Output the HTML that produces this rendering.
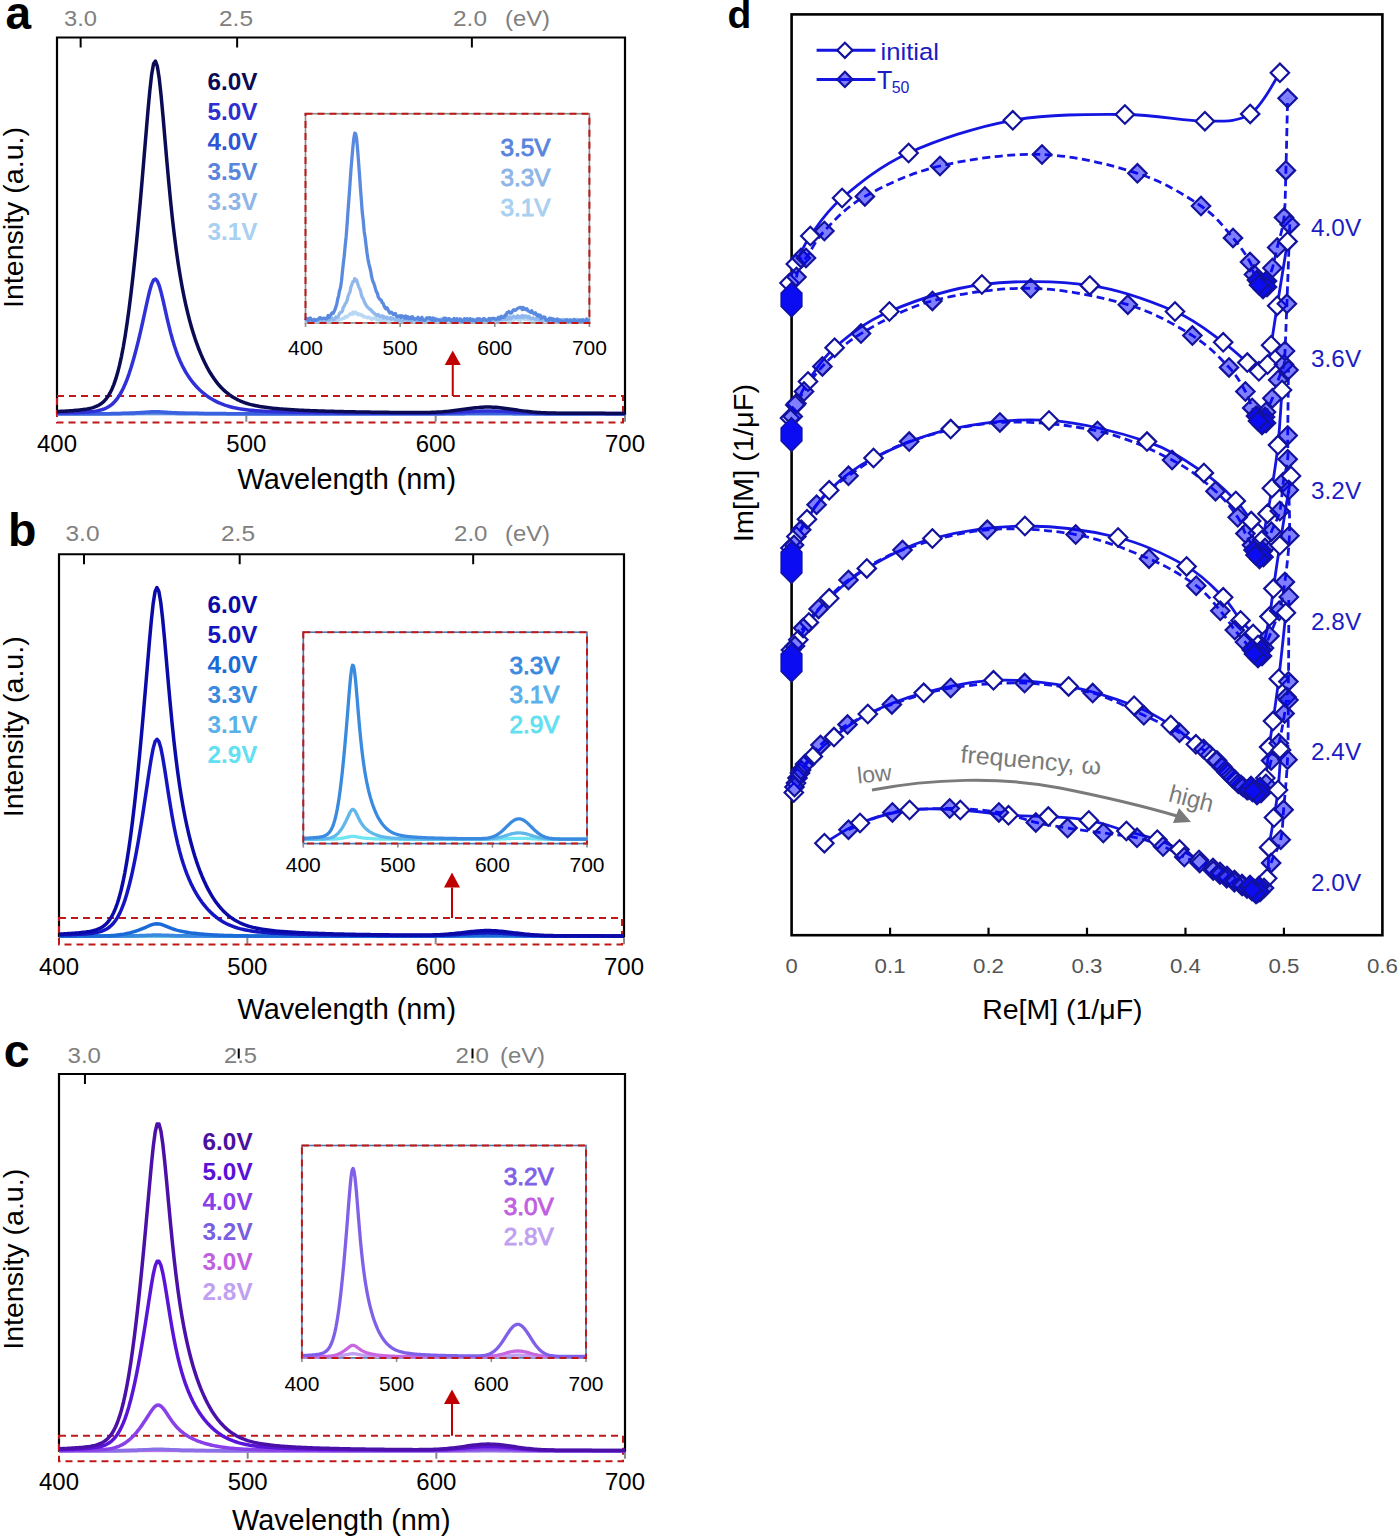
<!DOCTYPE html><html><head><meta charset="utf-8"><style>html,body{margin:0;padding:0;background:#fff;overflow:hidden;}svg{display:block;}text{font-family:"Liberation Sans",sans-serif;}</style></head><body>
<svg width="1400" height="1536" viewBox="0 0 1400 1536">
<rect width="1400" height="1536" fill="#fff"/>
<line x1="80.64" y1="37.5" x2="80.64" y2="47.5" stroke="#000" stroke-width="2"/>
<line x1="237.14" y1="37.5" x2="237.14" y2="47.5" stroke="#000" stroke-width="2"/>
<line x1="471.88" y1="37.5" x2="471.88" y2="47.5" stroke="#000" stroke-width="2"/>
<text x="64.00" y="25.50" font-size="22" fill="#808080" text-anchor="start" textLength="33" lengthAdjust="spacingAndGlyphs">3.0</text>
<text x="219.00" y="25.50" font-size="22" fill="#808080" text-anchor="start" textLength="34" lengthAdjust="spacingAndGlyphs">2.5</text>
<text x="453.00" y="25.50" font-size="22" fill="#808080" text-anchor="start" textLength="34" lengthAdjust="spacingAndGlyphs">2.0</text>
<text x="505.00" y="25.50" font-size="22" fill="#808080" text-anchor="start" textLength="45" lengthAdjust="spacingAndGlyphs">(eV)</text>
<line x1="246.33" y1="414.75" x2="246.33" y2="421.75" stroke="#8a8a8a" stroke-width="2"/>
<line x1="435.67" y1="414.75" x2="435.67" y2="421.75" stroke="#8a8a8a" stroke-width="2"/>
<line x1="625.00" y1="414.75" x2="625.00" y2="421.75" stroke="#8a8a8a" stroke-width="2"/>
<path d="M57,414.75 L57,37.5 L625,37.5 L625,414.75" fill="none" stroke="#000" stroke-width="2.2"/>
<line x1="57" y1="413.75" x2="625" y2="413.75" stroke="#000" stroke-width="2"/>
<rect x="57" y="396" width="566" height="26.5" fill="none" stroke="#c01818" stroke-width="2" stroke-dasharray="7,5"/>
<path d="M57.00,413.75 L58.89,413.75 L60.79,413.75 L62.68,413.75 L64.57,413.75 L66.47,413.75 L68.36,413.75 L70.25,413.75 L72.15,413.75 L74.04,413.75 L75.93,413.75 L77.83,413.75 L79.72,413.75 L81.61,413.75 L83.51,413.75 L85.40,413.75 L87.29,413.75 L89.19,413.75 L91.08,413.75 L92.97,413.75 L94.87,413.75 L96.76,413.75 L98.65,413.75 L100.55,413.75 L102.44,413.75 L104.33,413.75 L106.23,413.75 L108.12,413.75 L110.01,413.75 L111.91,413.75 L113.80,413.75 L115.69,413.75 L117.59,413.75 L119.48,413.75 L121.37,413.75 L123.27,413.75 L125.16,413.75 L127.05,413.75 L128.95,413.75 L130.84,413.75 L132.73,413.75 L134.63,413.75 L136.52,413.75 L138.41,413.75 L140.31,413.75 L142.20,413.75 L144.09,413.75 L145.99,413.75 L147.88,413.75 L149.77,413.75 L151.67,413.75 L153.56,413.75 L155.45,413.75 L157.35,413.75 L159.24,413.75 L161.13,413.75 L163.03,413.75 L164.92,413.75 L166.81,413.75 L168.71,413.75 L170.60,413.75 L172.49,413.75 L174.39,413.75 L176.28,413.75 L178.17,413.75 L180.07,413.75 L181.96,413.75 L183.85,413.75 L185.75,413.75 L187.64,413.75 L189.53,413.75 L191.43,413.75 L193.32,413.75 L195.21,413.75 L197.11,413.75 L199.00,413.75 L200.89,413.75 L202.79,413.75 L204.68,413.75 L206.57,413.75 L208.47,413.75 L210.36,413.75 L212.25,413.75 L214.15,413.75 L216.04,413.75 L217.93,413.75 L219.83,413.75 L221.72,413.75 L223.61,413.75 L225.51,413.75 L227.40,413.75 L229.29,413.75 L231.19,413.75 L233.08,413.75 L234.97,413.75 L236.87,413.75 L238.76,413.75 L240.65,413.75 L242.55,413.75 L244.44,413.75 L246.33,413.75 L248.23,413.75 L250.12,413.75 L252.01,413.75 L253.91,413.75 L255.80,413.75 L257.69,413.75 L259.59,413.75 L261.48,413.75 L263.37,413.75 L265.27,413.75 L267.16,413.75 L269.05,413.75 L270.95,413.75 L272.84,413.75 L274.73,413.75 L276.63,413.75 L278.52,413.75 L280.41,413.75 L282.31,413.75 L284.20,413.75 L286.09,413.75 L287.99,413.75 L289.88,413.75 L291.77,413.75 L293.67,413.75 L295.56,413.75 L297.45,413.75 L299.35,413.75 L301.24,413.75 L303.13,413.75 L305.03,413.75 L306.92,413.75 L308.81,413.75 L310.71,413.75 L312.60,413.75 L314.49,413.75 L316.39,413.75 L318.28,413.75 L320.17,413.75 L322.07,413.75 L323.96,413.75 L325.85,413.75 L327.75,413.75 L329.64,413.75 L331.53,413.75 L333.43,413.75 L335.32,413.75 L337.21,413.75 L339.11,413.75 L341.00,413.75 L342.89,413.75 L344.79,413.75 L346.68,413.75 L348.57,413.75 L350.47,413.75 L352.36,413.75 L354.25,413.75 L356.15,413.75 L358.04,413.75 L359.93,413.75 L361.83,413.75 L363.72,413.75 L365.61,413.75 L367.51,413.75 L369.40,413.75 L371.29,413.75 L373.19,413.75 L375.08,413.75 L376.97,413.75 L378.87,413.75 L380.76,413.75 L382.65,413.75 L384.55,413.75 L386.44,413.75 L388.33,413.75 L390.23,413.75 L392.12,413.75 L394.01,413.75 L395.91,413.75 L397.80,413.75 L399.69,413.75 L401.59,413.75 L403.48,413.75 L405.37,413.75 L407.27,413.75 L409.16,413.75 L411.05,413.75 L412.95,413.75 L414.84,413.75 L416.73,413.75 L418.63,413.75 L420.52,413.75 L422.41,413.75 L424.31,413.75 L426.20,413.75 L428.09,413.75 L429.99,413.75 L431.88,413.75 L433.77,413.75 L435.67,413.75 L437.56,413.75 L439.45,413.75 L441.35,413.75 L443.24,413.75 L445.13,413.75 L447.03,413.75 L448.92,413.75 L450.81,413.75 L452.71,413.75 L454.60,413.75 L456.49,413.75 L458.39,413.75 L460.28,413.75 L462.17,413.75 L464.07,413.75 L465.96,413.75 L467.85,413.75 L469.75,413.75 L471.64,413.75 L473.53,413.75 L475.43,413.75 L477.32,413.75 L479.21,413.75 L481.11,413.75 L483.00,413.75 L484.89,413.75 L486.79,413.75 L488.68,413.75 L490.57,413.75 L492.47,413.75 L494.36,413.75 L496.25,413.75 L498.15,413.75 L500.04,413.75 L501.93,413.75 L503.83,413.75 L505.72,413.75 L507.61,413.75 L509.51,413.75 L511.40,413.75 L513.29,413.75 L515.19,413.75 L517.08,413.75 L518.97,413.75 L520.87,413.75 L522.76,413.75 L524.65,413.75 L526.55,413.75 L528.44,413.75 L530.33,413.75 L532.23,413.75 L534.12,413.75 L536.01,413.75 L537.91,413.75 L539.80,413.75 L541.69,413.75 L543.59,413.75 L545.48,413.75 L547.37,413.75 L549.27,413.75 L551.16,413.75 L553.05,413.75 L554.95,413.75 L556.84,413.75 L558.73,413.75 L560.63,413.75 L562.52,413.75 L564.41,413.75 L566.31,413.75 L568.20,413.75 L570.09,413.75 L571.99,413.75 L573.88,413.75 L575.77,413.75 L577.67,413.75 L579.56,413.75 L581.45,413.75 L583.35,413.75 L585.24,413.75 L587.13,413.75 L589.03,413.75 L590.92,413.75 L592.81,413.75 L594.71,413.75 L596.60,413.75 L598.49,413.75 L600.39,413.75 L602.28,413.75 L604.17,413.75 L606.07,413.75 L607.96,413.75 L609.85,413.75 L611.75,413.75 L613.64,413.75 L615.53,413.75 L617.43,413.75 L619.32,413.75 L621.21,413.75 L623.11,413.75 L625.00,413.75" fill="none" stroke="#b0d4f4" stroke-width="3.5" stroke-linejoin="round"/>
<path d="M57.00,413.75 L58.89,413.75 L60.79,413.75 L62.68,413.75 L64.57,413.75 L66.47,413.75 L68.36,413.75 L70.25,413.75 L72.15,413.75 L74.04,413.75 L75.93,413.75 L77.83,413.75 L79.72,413.75 L81.61,413.75 L83.51,413.75 L85.40,413.75 L87.29,413.75 L89.19,413.75 L91.08,413.75 L92.97,413.74 L94.87,413.74 L96.76,413.74 L98.65,413.74 L100.55,413.74 L102.44,413.74 L104.33,413.74 L106.23,413.74 L108.12,413.74 L110.01,413.73 L111.91,413.73 L113.80,413.73 L115.69,413.72 L117.59,413.72 L119.48,413.71 L121.37,413.70 L123.27,413.69 L125.16,413.68 L127.05,413.67 L128.95,413.66 L130.84,413.65 L132.73,413.63 L134.63,413.62 L136.52,413.60 L138.41,413.59 L140.31,413.57 L142.20,413.55 L144.09,413.53 L145.99,413.51 L147.88,413.49 L149.77,413.48 L151.67,413.46 L153.56,413.45 L155.45,413.45 L157.35,413.45 L159.24,413.46 L161.13,413.48 L163.03,413.50 L164.92,413.52 L166.81,413.53 L168.71,413.55 L170.60,413.57 L172.49,413.58 L174.39,413.60 L176.28,413.61 L178.17,413.62 L180.07,413.63 L181.96,413.64 L183.85,413.65 L185.75,413.66 L187.64,413.66 L189.53,413.67 L191.43,413.68 L193.32,413.68 L195.21,413.69 L197.11,413.69 L199.00,413.70 L200.89,413.70 L202.79,413.70 L204.68,413.71 L206.57,413.71 L208.47,413.71 L210.36,413.72 L212.25,413.72 L214.15,413.72 L216.04,413.72 L217.93,413.72 L219.83,413.73 L221.72,413.73 L223.61,413.73 L225.51,413.73 L227.40,413.73 L229.29,413.73 L231.19,413.73 L233.08,413.74 L234.97,413.74 L236.87,413.74 L238.76,413.74 L240.65,413.74 L242.55,413.74 L244.44,413.74 L246.33,413.74 L248.23,413.74 L250.12,413.74 L252.01,413.74 L253.91,413.74 L255.80,413.74 L257.69,413.74 L259.59,413.74 L261.48,413.74 L263.37,413.74 L265.27,413.74 L267.16,413.74 L269.05,413.74 L270.95,413.75 L272.84,413.75 L274.73,413.75 L276.63,413.75 L278.52,413.75 L280.41,413.75 L282.31,413.75 L284.20,413.75 L286.09,413.75 L287.99,413.75 L289.88,413.75 L291.77,413.75 L293.67,413.75 L295.56,413.75 L297.45,413.75 L299.35,413.75 L301.24,413.75 L303.13,413.75 L305.03,413.75 L306.92,413.75 L308.81,413.75 L310.71,413.75 L312.60,413.75 L314.49,413.75 L316.39,413.75 L318.28,413.75 L320.17,413.75 L322.07,413.75 L323.96,413.75 L325.85,413.75 L327.75,413.75 L329.64,413.75 L331.53,413.75 L333.43,413.75 L335.32,413.75 L337.21,413.75 L339.11,413.75 L341.00,413.75 L342.89,413.75 L344.79,413.75 L346.68,413.75 L348.57,413.75 L350.47,413.75 L352.36,413.75 L354.25,413.75 L356.15,413.75 L358.04,413.75 L359.93,413.75 L361.83,413.75 L363.72,413.75 L365.61,413.75 L367.51,413.75 L369.40,413.75 L371.29,413.75 L373.19,413.75 L375.08,413.75 L376.97,413.75 L378.87,413.75 L380.76,413.75 L382.65,413.75 L384.55,413.75 L386.44,413.75 L388.33,413.75 L390.23,413.75 L392.12,413.75 L394.01,413.75 L395.91,413.75 L397.80,413.75 L399.69,413.75 L401.59,413.75 L403.48,413.75 L405.37,413.75 L407.27,413.75 L409.16,413.75 L411.05,413.75 L412.95,413.75 L414.84,413.75 L416.73,413.75 L418.63,413.75 L420.52,413.75 L422.41,413.75 L424.31,413.75 L426.20,413.75 L428.09,413.74 L429.99,413.74 L431.88,413.74 L433.77,413.74 L435.67,413.74 L437.56,413.74 L439.45,413.74 L441.35,413.73 L443.24,413.73 L445.13,413.73 L447.03,413.73 L448.92,413.72 L450.81,413.72 L452.71,413.71 L454.60,413.71 L456.49,413.71 L458.39,413.70 L460.28,413.70 L462.17,413.69 L464.07,413.69 L465.96,413.68 L467.85,413.68 L469.75,413.67 L471.64,413.67 L473.53,413.67 L475.43,413.66 L477.32,413.66 L479.21,413.66 L481.11,413.65 L483.00,413.65 L484.89,413.65 L486.79,413.65 L488.68,413.65 L490.57,413.65 L492.47,413.65 L494.36,413.65 L496.25,413.65 L498.15,413.66 L500.04,413.66 L501.93,413.66 L503.83,413.67 L505.72,413.67 L507.61,413.68 L509.51,413.68 L511.40,413.68 L513.29,413.69 L515.19,413.69 L517.08,413.70 L518.97,413.70 L520.87,413.71 L522.76,413.71 L524.65,413.72 L526.55,413.72 L528.44,413.72 L530.33,413.73 L532.23,413.73 L534.12,413.73 L536.01,413.73 L537.91,413.74 L539.80,413.74 L541.69,413.74 L543.59,413.74 L545.48,413.74 L547.37,413.74 L549.27,413.74 L551.16,413.75 L553.05,413.75 L554.95,413.75 L556.84,413.75 L558.73,413.75 L560.63,413.75 L562.52,413.75 L564.41,413.75 L566.31,413.75 L568.20,413.75 L570.09,413.75 L571.99,413.75 L573.88,413.75 L575.77,413.75 L577.67,413.75 L579.56,413.75 L581.45,413.75 L583.35,413.75 L585.24,413.75 L587.13,413.75 L589.03,413.75 L590.92,413.75 L592.81,413.75 L594.71,413.75 L596.60,413.75 L598.49,413.75 L600.39,413.75 L602.28,413.75 L604.17,413.75 L606.07,413.75 L607.96,413.75 L609.85,413.75 L611.75,413.75 L613.64,413.75 L615.53,413.75 L617.43,413.75 L619.32,413.75 L621.21,413.75 L623.11,413.75 L625.00,413.75" fill="none" stroke="#90b8ec" stroke-width="3.5" stroke-linejoin="round"/>
<path d="M57.00,413.74 L58.89,413.74 L60.79,413.74 L62.68,413.74 L64.57,413.74 L66.47,413.74 L68.36,413.74 L70.25,413.74 L72.15,413.74 L74.04,413.74 L75.93,413.74 L77.83,413.74 L79.72,413.74 L81.61,413.74 L83.51,413.74 L85.40,413.74 L87.29,413.74 L89.19,413.74 L91.08,413.74 L92.97,413.74 L94.87,413.73 L96.76,413.73 L98.65,413.73 L100.55,413.73 L102.44,413.72 L104.33,413.72 L106.23,413.72 L108.12,413.71 L110.01,413.70 L111.91,413.69 L113.80,413.68 L115.69,413.67 L117.59,413.66 L119.48,413.64 L121.37,413.62 L123.27,413.60 L125.16,413.57 L127.05,413.55 L128.95,413.51 L130.84,413.48 L132.73,413.44 L134.63,413.40 L136.52,413.36 L138.41,413.32 L140.31,413.27 L142.20,413.22 L144.09,413.17 L145.99,413.12 L147.88,413.07 L149.77,413.02 L151.67,412.98 L153.56,412.96 L155.45,412.95 L157.35,412.96 L159.24,412.99 L161.13,413.03 L163.03,413.08 L164.92,413.13 L166.81,413.18 L168.71,413.22 L170.60,413.27 L172.49,413.31 L174.39,413.35 L176.28,413.38 L178.17,413.41 L180.07,413.44 L181.96,413.46 L183.85,413.48 L185.75,413.50 L187.64,413.52 L189.53,413.54 L191.43,413.55 L193.32,413.57 L195.21,413.58 L197.11,413.59 L199.00,413.60 L200.89,413.61 L202.79,413.62 L204.68,413.63 L206.57,413.64 L208.47,413.65 L210.36,413.66 L212.25,413.66 L214.15,413.67 L216.04,413.68 L217.93,413.68 L219.83,413.69 L221.72,413.69 L223.61,413.70 L225.51,413.70 L227.40,413.70 L229.29,413.71 L231.19,413.71 L233.08,413.71 L234.97,413.71 L236.87,413.72 L238.76,413.72 L240.65,413.72 L242.55,413.72 L244.44,413.72 L246.33,413.73 L248.23,413.73 L250.12,413.73 L252.01,413.73 L253.91,413.73 L255.80,413.73 L257.69,413.73 L259.59,413.73 L261.48,413.73 L263.37,413.73 L265.27,413.74 L267.16,413.74 L269.05,413.74 L270.95,413.74 L272.84,413.74 L274.73,413.74 L276.63,413.74 L278.52,413.74 L280.41,413.74 L282.31,413.74 L284.20,413.74 L286.09,413.74 L287.99,413.74 L289.88,413.74 L291.77,413.74 L293.67,413.74 L295.56,413.74 L297.45,413.74 L299.35,413.74 L301.24,413.74 L303.13,413.74 L305.03,413.74 L306.92,413.74 L308.81,413.74 L310.71,413.74 L312.60,413.74 L314.49,413.74 L316.39,413.74 L318.28,413.74 L320.17,413.74 L322.07,413.74 L323.96,413.74 L325.85,413.74 L327.75,413.74 L329.64,413.74 L331.53,413.74 L333.43,413.74 L335.32,413.74 L337.21,413.74 L339.11,413.74 L341.00,413.75 L342.89,413.75 L344.79,413.75 L346.68,413.75 L348.57,413.75 L350.47,413.75 L352.36,413.75 L354.25,413.75 L356.15,413.75 L358.04,413.75 L359.93,413.75 L361.83,413.75 L363.72,413.75 L365.61,413.75 L367.51,413.75 L369.40,413.75 L371.29,413.75 L373.19,413.75 L375.08,413.75 L376.97,413.75 L378.87,413.75 L380.76,413.75 L382.65,413.75 L384.55,413.75 L386.44,413.75 L388.33,413.75 L390.23,413.75 L392.12,413.75 L394.01,413.75 L395.91,413.75 L397.80,413.75 L399.69,413.75 L401.59,413.75 L403.48,413.75 L405.37,413.75 L407.27,413.75 L409.16,413.75 L411.05,413.75 L412.95,413.75 L414.84,413.75 L416.73,413.74 L418.63,413.74 L420.52,413.74 L422.41,413.74 L424.31,413.74 L426.20,413.74 L428.09,413.74 L429.99,413.74 L431.88,413.73 L433.77,413.73 L435.67,413.73 L437.56,413.72 L439.45,413.72 L441.35,413.72 L443.24,413.71 L445.13,413.71 L447.03,413.70 L448.92,413.69 L450.81,413.69 L452.71,413.68 L454.60,413.67 L456.49,413.66 L458.39,413.65 L460.28,413.65 L462.17,413.64 L464.07,413.63 L465.96,413.62 L467.85,413.61 L469.75,413.60 L471.64,413.59 L473.53,413.58 L475.43,413.58 L477.32,413.57 L479.21,413.56 L481.11,413.56 L483.00,413.55 L484.89,413.55 L486.79,413.55 L488.68,413.55 L490.57,413.55 L492.47,413.55 L494.36,413.55 L496.25,413.56 L498.15,413.56 L500.04,413.57 L501.93,413.58 L503.83,413.58 L505.72,413.59 L507.61,413.60 L509.51,413.61 L511.40,413.62 L513.29,413.63 L515.19,413.64 L517.08,413.65 L518.97,413.65 L520.87,413.66 L522.76,413.67 L524.65,413.68 L526.55,413.69 L528.44,413.69 L530.33,413.70 L532.23,413.71 L534.12,413.71 L536.01,413.72 L537.91,413.72 L539.80,413.73 L541.69,413.73 L543.59,413.73 L545.48,413.73 L547.37,413.74 L549.27,413.74 L551.16,413.74 L553.05,413.74 L554.95,413.74 L556.84,413.74 L558.73,413.75 L560.63,413.75 L562.52,413.75 L564.41,413.75 L566.31,413.75 L568.20,413.75 L570.09,413.75 L571.99,413.75 L573.88,413.75 L575.77,413.75 L577.67,413.75 L579.56,413.75 L581.45,413.75 L583.35,413.75 L585.24,413.75 L587.13,413.75 L589.03,413.75 L590.92,413.75 L592.81,413.75 L594.71,413.75 L596.60,413.75 L598.49,413.75 L600.39,413.75 L602.28,413.75 L604.17,413.75 L606.07,413.75 L607.96,413.75 L609.85,413.75 L611.75,413.75 L613.64,413.75 L615.53,413.75 L617.43,413.75 L619.32,413.75 L621.21,413.75 L623.11,413.75 L625.00,413.75" fill="none" stroke="#5a85dd" stroke-width="3.5" stroke-linejoin="round"/>
<path d="M57.00,413.74 L58.89,413.74 L60.79,413.74 L62.68,413.74 L64.57,413.74 L66.47,413.73 L68.36,413.73 L70.25,413.73 L72.15,413.73 L74.04,413.73 L75.93,413.73 L77.83,413.73 L79.72,413.73 L81.61,413.73 L83.51,413.73 L85.40,413.72 L87.29,413.72 L89.19,413.72 L91.08,413.72 L92.97,413.72 L94.87,413.71 L96.76,413.71 L98.65,413.70 L100.55,413.70 L102.44,413.69 L104.33,413.68 L106.23,413.67 L108.12,413.65 L110.01,413.63 L111.91,413.61 L113.80,413.58 L115.69,413.55 L117.59,413.52 L119.48,413.48 L121.37,413.43 L123.27,413.37 L125.16,413.31 L127.05,413.24 L128.95,413.16 L130.84,413.08 L132.73,412.98 L134.63,412.88 L136.52,412.78 L138.41,412.66 L140.31,412.55 L142.20,412.42 L144.09,412.29 L145.99,412.16 L147.88,412.04 L149.77,411.92 L151.67,411.83 L153.56,411.77 L155.45,411.75 L157.35,411.78 L159.24,411.85 L161.13,411.95 L163.03,412.06 L164.92,412.19 L166.81,412.31 L168.71,412.43 L170.60,412.55 L172.49,412.65 L174.39,412.74 L176.28,412.82 L178.17,412.90 L180.07,412.97 L181.96,413.03 L183.85,413.08 L185.75,413.13 L187.64,413.18 L189.53,413.22 L191.43,413.26 L193.32,413.29 L195.21,413.33 L197.11,413.36 L199.00,413.39 L200.89,413.41 L202.79,413.44 L204.68,413.46 L206.57,413.48 L208.47,413.50 L210.36,413.52 L212.25,413.54 L214.15,413.55 L216.04,413.57 L217.93,413.58 L219.83,413.59 L221.72,413.60 L223.61,413.61 L225.51,413.62 L227.40,413.63 L229.29,413.64 L231.19,413.65 L233.08,413.66 L234.97,413.66 L236.87,413.67 L238.76,413.67 L240.65,413.68 L242.55,413.68 L244.44,413.69 L246.33,413.69 L248.23,413.69 L250.12,413.70 L252.01,413.70 L253.91,413.70 L255.80,413.70 L257.69,413.71 L259.59,413.71 L261.48,413.71 L263.37,413.71 L265.27,413.71 L267.16,413.71 L269.05,413.72 L270.95,413.72 L272.84,413.72 L274.73,413.72 L276.63,413.72 L278.52,413.72 L280.41,413.72 L282.31,413.72 L284.20,413.72 L286.09,413.73 L287.99,413.73 L289.88,413.73 L291.77,413.73 L293.67,413.73 L295.56,413.73 L297.45,413.73 L299.35,413.73 L301.24,413.73 L303.13,413.73 L305.03,413.73 L306.92,413.73 L308.81,413.73 L310.71,413.73 L312.60,413.73 L314.49,413.73 L316.39,413.73 L318.28,413.73 L320.17,413.73 L322.07,413.73 L323.96,413.73 L325.85,413.74 L327.75,413.74 L329.64,413.74 L331.53,413.74 L333.43,413.74 L335.32,413.74 L337.21,413.74 L339.11,413.74 L341.00,413.74 L342.89,413.74 L344.79,413.74 L346.68,413.74 L348.57,413.74 L350.47,413.74 L352.36,413.74 L354.25,413.74 L356.15,413.74 L358.04,413.74 L359.93,413.74 L361.83,413.74 L363.72,413.74 L365.61,413.74 L367.51,413.74 L369.40,413.74 L371.29,413.74 L373.19,413.74 L375.08,413.74 L376.97,413.74 L378.87,413.74 L380.76,413.74 L382.65,413.74 L384.55,413.74 L386.44,413.74 L388.33,413.74 L390.23,413.74 L392.12,413.74 L394.01,413.74 L395.91,413.74 L397.80,413.74 L399.69,413.74 L401.59,413.74 L403.48,413.74 L405.37,413.74 L407.27,413.74 L409.16,413.74 L411.05,413.74 L412.95,413.74 L414.84,413.74 L416.73,413.74 L418.63,413.73 L420.52,413.73 L422.41,413.73 L424.31,413.72 L426.20,413.72 L428.09,413.72 L429.99,413.71 L431.88,413.70 L433.77,413.69 L435.67,413.69 L437.56,413.68 L439.45,413.66 L441.35,413.65 L443.24,413.64 L445.13,413.62 L447.03,413.60 L448.92,413.58 L450.81,413.56 L452.71,413.54 L454.60,413.52 L456.49,413.49 L458.39,413.46 L460.28,413.44 L462.17,413.41 L464.07,413.38 L465.96,413.35 L467.85,413.33 L469.75,413.30 L471.64,413.27 L473.53,413.25 L475.43,413.23 L477.32,413.21 L479.21,413.19 L481.11,413.17 L483.00,413.16 L484.89,413.15 L486.79,413.15 L488.68,413.15 L490.57,413.15 L492.47,413.15 L494.36,413.16 L496.25,413.17 L498.15,413.19 L500.04,413.21 L501.93,413.23 L503.83,413.25 L505.72,413.27 L507.61,413.30 L509.51,413.33 L511.40,413.35 L513.29,413.38 L515.19,413.41 L517.08,413.44 L518.97,413.47 L520.87,413.49 L522.76,413.52 L524.65,413.54 L526.55,413.56 L528.44,413.58 L530.33,413.60 L532.23,413.62 L534.12,413.64 L536.01,413.65 L537.91,413.67 L539.80,413.68 L541.69,413.69 L543.59,413.70 L545.48,413.71 L547.37,413.71 L549.27,413.72 L551.16,413.72 L553.05,413.73 L554.95,413.73 L556.84,413.73 L558.73,413.74 L560.63,413.74 L562.52,413.74 L564.41,413.74 L566.31,413.74 L568.20,413.74 L570.09,413.74 L571.99,413.75 L573.88,413.75 L575.77,413.75 L577.67,413.75 L579.56,413.75 L581.45,413.75 L583.35,413.75 L585.24,413.75 L587.13,413.75 L589.03,413.75 L590.92,413.75 L592.81,413.75 L594.71,413.75 L596.60,413.75 L598.49,413.75 L600.39,413.75 L602.28,413.75 L604.17,413.75 L606.07,413.75 L607.96,413.75 L609.85,413.75 L611.75,413.75 L613.64,413.75 L615.53,413.75 L617.43,413.75 L619.32,413.75 L621.21,413.75 L623.11,413.75 L625.00,413.75" fill="none" stroke="#3a62e0" stroke-width="3.5" stroke-linejoin="round"/>
<path d="M57.00,412.90 L58.89,412.87 L60.79,412.83 L62.68,412.79 L64.57,412.76 L66.47,412.71 L68.36,412.67 L70.25,412.62 L72.15,412.57 L74.04,412.51 L75.93,412.45 L77.83,412.38 L79.72,412.31 L81.61,412.23 L83.51,412.13 L85.40,412.03 L87.29,411.91 L89.19,411.77 L91.08,411.60 L92.97,411.40 L94.87,411.16 L96.76,410.86 L98.65,410.50 L100.55,410.06 L102.44,409.52 L104.33,408.85 L106.23,408.04 L108.12,407.04 L110.01,405.83 L111.91,404.37 L113.80,402.62 L115.69,400.55 L117.59,398.11 L119.48,395.27 L121.37,392.00 L123.27,388.25 L125.16,384.02 L127.05,379.29 L128.95,374.05 L130.84,368.30 L132.73,362.06 L134.63,355.34 L136.52,348.17 L138.41,340.58 L140.31,332.59 L142.20,324.25 L144.09,315.64 L145.99,306.92 L147.88,298.38 L149.77,290.52 L151.67,284.12 L153.56,280.06 L155.45,279.06 L157.35,281.08 L159.24,285.72 L161.13,292.34 L163.03,300.21 L164.92,308.62 L166.81,317.04 L168.71,325.10 L170.60,332.61 L172.49,339.47 L174.39,345.69 L176.28,351.29 L178.17,356.33 L180.07,360.87 L181.96,364.96 L183.85,368.68 L185.75,372.06 L187.64,375.15 L189.53,377.98 L191.43,380.59 L193.32,383.00 L195.21,385.23 L197.11,387.29 L199.00,389.21 L200.89,390.99 L202.79,392.65 L204.68,394.19 L206.57,395.62 L208.47,396.95 L210.36,398.19 L212.25,399.34 L214.15,400.41 L216.04,401.39 L217.93,402.30 L219.83,403.15 L221.72,403.92 L223.61,404.64 L225.51,405.30 L227.40,405.90 L229.29,406.46 L231.19,406.96 L233.08,407.43 L234.97,407.85 L236.87,408.24 L238.76,408.60 L240.65,408.92 L242.55,409.22 L244.44,409.48 L246.33,409.73 L248.23,409.95 L250.12,410.16 L252.01,410.35 L253.91,410.52 L255.80,410.68 L257.69,410.82 L259.59,410.95 L261.48,411.07 L263.37,411.19 L265.27,411.29 L267.16,411.39 L269.05,411.48 L270.95,411.56 L272.84,411.64 L274.73,411.71 L276.63,411.78 L278.52,411.84 L280.41,411.91 L282.31,411.96 L284.20,412.02 L286.09,412.07 L287.99,412.12 L289.88,412.16 L291.77,412.21 L293.67,412.25 L295.56,412.29 L297.45,412.33 L299.35,412.37 L301.24,412.40 L303.13,412.44 L305.03,412.47 L306.92,412.50 L308.81,412.53 L310.71,412.56 L312.60,412.59 L314.49,412.62 L316.39,412.64 L318.28,412.67 L320.17,412.69 L322.07,412.72 L323.96,412.74 L325.85,412.76 L327.75,412.78 L329.64,412.80 L331.53,412.82 L333.43,412.84 L335.32,412.86 L337.21,412.88 L339.11,412.90 L341.00,412.91 L342.89,412.93 L344.79,412.95 L346.68,412.96 L348.57,412.98 L350.47,412.99 L352.36,413.01 L354.25,413.02 L356.15,413.03 L358.04,413.05 L359.93,413.06 L361.83,413.07 L363.72,413.09 L365.61,413.10 L367.51,413.11 L369.40,413.12 L371.29,413.13 L373.19,413.14 L375.08,413.15 L376.97,413.16 L378.87,413.17 L380.76,413.18 L382.65,413.19 L384.55,413.20 L386.44,413.21 L388.33,413.22 L390.23,413.23 L392.12,413.23 L394.01,413.24 L395.91,413.25 L397.80,413.26 L399.69,413.26 L401.59,413.27 L403.48,413.27 L405.37,413.28 L407.27,413.28 L409.16,413.29 L411.05,413.29 L412.95,413.29 L414.84,413.29 L416.73,413.29 L418.63,413.29 L420.52,413.28 L422.41,413.28 L424.31,413.27 L426.20,413.26 L428.09,413.24 L429.99,413.22 L431.88,413.20 L433.77,413.17 L435.67,413.14 L437.56,413.10 L439.45,413.05 L441.35,413.00 L443.24,412.95 L445.13,412.88 L447.03,412.81 L448.92,412.74 L450.81,412.65 L452.71,412.56 L454.60,412.47 L456.49,412.37 L458.39,412.26 L460.28,412.15 L462.17,412.04 L464.07,411.93 L465.96,411.82 L467.85,411.71 L469.75,411.60 L471.64,411.49 L473.53,411.39 L475.43,411.30 L477.32,411.22 L479.21,411.15 L481.11,411.09 L483.00,411.05 L484.89,411.01 L486.79,410.99 L488.68,410.99 L490.57,411.00 L492.47,411.02 L494.36,411.06 L496.25,411.12 L498.15,411.18 L500.04,411.26 L501.93,411.35 L503.83,411.44 L505.72,411.55 L507.61,411.66 L509.51,411.77 L511.40,411.89 L513.29,412.01 L515.19,412.13 L517.08,412.24 L518.97,412.36 L520.87,412.47 L522.76,412.58 L524.65,412.68 L526.55,412.77 L528.44,412.86 L530.33,412.95 L532.23,413.02 L534.12,413.09 L536.01,413.16 L537.91,413.21 L539.80,413.26 L541.69,413.31 L543.59,413.35 L545.48,413.38 L547.37,413.42 L549.27,413.44 L551.16,413.47 L553.05,413.48 L554.95,413.50 L556.84,413.52 L558.73,413.53 L560.63,413.54 L562.52,413.55 L564.41,413.55 L566.31,413.56 L568.20,413.57 L570.09,413.57 L571.99,413.57 L573.88,413.58 L575.77,413.58 L577.67,413.58 L579.56,413.59 L581.45,413.59 L583.35,413.59 L585.24,413.59 L587.13,413.59 L589.03,413.59 L590.92,413.60 L592.81,413.60 L594.71,413.60 L596.60,413.60 L598.49,413.60 L600.39,413.60 L602.28,413.60 L604.17,413.61 L606.07,413.61 L607.96,413.61 L609.85,413.61 L611.75,413.61 L613.64,413.61 L615.53,413.61 L617.43,413.61 L619.32,413.62 L621.21,413.62 L623.11,413.62 L625.00,413.62" fill="none" stroke="#3030d8" stroke-width="3.5" stroke-linejoin="round"/>
<path d="M57.00,411.53 L58.89,411.44 L60.79,411.35 L62.68,411.25 L64.57,411.15 L66.47,411.03 L68.36,410.92 L70.25,410.79 L72.15,410.65 L74.04,410.50 L75.93,410.34 L77.83,410.17 L79.72,409.97 L81.61,409.76 L83.51,409.52 L85.40,409.24 L87.29,408.92 L89.19,408.55 L91.08,408.12 L92.97,407.59 L94.87,406.96 L96.76,406.19 L98.65,405.25 L100.55,404.10 L102.44,402.68 L104.33,400.93 L106.23,398.79 L108.12,396.18 L110.01,393.02 L111.91,389.19 L113.80,384.62 L115.69,379.20 L117.59,372.81 L119.48,365.38 L121.37,356.80 L123.27,347.00 L125.16,335.93 L127.05,323.54 L128.95,309.82 L130.84,294.77 L132.73,278.43 L134.63,260.85 L136.52,242.08 L138.41,222.19 L140.31,201.28 L142.20,179.46 L144.09,156.93 L145.99,134.09 L147.88,111.72 L149.77,91.16 L151.67,74.39 L153.56,63.76 L155.45,61.15 L157.35,66.46 L159.24,78.58 L161.13,95.92 L163.03,116.52 L164.92,138.54 L166.81,160.58 L168.71,181.69 L170.60,201.34 L172.49,219.31 L174.39,235.58 L176.28,250.24 L178.17,263.43 L180.07,275.31 L181.96,286.04 L183.85,295.77 L185.75,304.62 L187.64,312.71 L189.53,320.12 L191.43,326.95 L193.32,333.25 L195.21,339.08 L197.11,344.49 L199.00,349.51 L200.89,354.17 L202.79,358.51 L204.68,362.54 L206.57,366.30 L208.47,369.78 L210.36,373.02 L212.25,376.03 L214.15,378.82 L216.04,381.40 L217.93,383.79 L219.83,385.99 L221.72,388.03 L223.61,389.90 L225.51,391.62 L227.40,393.20 L229.29,394.65 L231.19,395.98 L233.08,397.20 L234.97,398.31 L236.87,399.33 L238.76,400.26 L240.65,401.11 L242.55,401.88 L244.44,402.58 L246.33,403.23 L248.23,403.81 L250.12,404.35 L252.01,404.84 L253.91,405.29 L255.80,405.70 L257.69,406.08 L259.59,406.42 L261.48,406.74 L263.37,407.04 L265.27,407.31 L267.16,407.56 L269.05,407.80 L270.95,408.02 L272.84,408.22 L274.73,408.41 L276.63,408.59 L278.52,408.76 L280.41,408.92 L282.31,409.07 L284.20,409.21 L286.09,409.35 L287.99,409.48 L289.88,409.60 L291.77,409.71 L293.67,409.82 L295.56,409.93 L297.45,410.03 L299.35,410.13 L301.24,410.22 L303.13,410.31 L305.03,410.40 L306.92,410.48 L308.81,410.56 L310.71,410.64 L312.60,410.71 L314.49,410.78 L316.39,410.85 L318.28,410.92 L320.17,410.98 L322.07,411.04 L323.96,411.10 L325.85,411.16 L327.75,411.22 L329.64,411.27 L331.53,411.32 L333.43,411.37 L335.32,411.42 L337.21,411.47 L339.11,411.52 L341.00,411.56 L342.89,411.61 L344.79,411.65 L346.68,411.69 L348.57,411.73 L350.47,411.77 L352.36,411.81 L354.25,411.84 L356.15,411.88 L358.04,411.91 L359.93,411.95 L361.83,411.98 L363.72,412.01 L365.61,412.04 L367.51,412.07 L369.40,412.10 L371.29,412.13 L373.19,412.16 L375.08,412.18 L376.97,412.21 L378.87,412.24 L380.76,412.26 L382.65,412.29 L384.55,412.31 L386.44,412.33 L388.33,412.35 L390.23,412.38 L392.12,412.40 L394.01,412.42 L395.91,412.44 L397.80,412.46 L399.69,412.47 L401.59,412.49 L403.48,412.51 L405.37,412.52 L407.27,412.53 L409.16,412.54 L411.05,412.55 L412.95,412.56 L414.84,412.56 L416.73,412.56 L418.63,412.55 L420.52,412.54 L422.41,412.53 L424.31,412.51 L426.20,412.48 L428.09,412.44 L429.99,412.40 L431.88,412.34 L433.77,412.27 L435.67,412.20 L437.56,412.10 L439.45,412.00 L441.35,411.88 L443.24,411.74 L445.13,411.59 L447.03,411.43 L448.92,411.24 L450.81,411.04 L452.71,410.83 L454.60,410.60 L456.49,410.36 L458.39,410.11 L460.28,409.85 L462.17,409.58 L464.07,409.31 L465.96,409.05 L467.85,408.78 L469.75,408.52 L471.64,408.27 L473.53,408.04 L475.43,407.82 L477.32,407.62 L479.21,407.45 L481.11,407.31 L483.00,407.20 L484.89,407.12 L486.79,407.08 L488.68,407.07 L490.57,407.09 L492.47,407.15 L494.36,407.25 L496.25,407.37 L498.15,407.53 L500.04,407.72 L501.93,407.93 L503.83,408.16 L505.72,408.41 L507.61,408.67 L509.51,408.95 L511.40,409.23 L513.29,409.52 L515.19,409.80 L517.08,410.09 L518.97,410.36 L520.87,410.63 L522.76,410.89 L524.65,411.13 L526.55,411.36 L528.44,411.58 L530.33,411.78 L532.23,411.96 L534.12,412.13 L536.01,412.28 L537.91,412.42 L539.80,412.54 L541.69,412.65 L543.59,412.75 L545.48,412.83 L547.37,412.91 L549.27,412.97 L551.16,413.03 L553.05,413.07 L554.95,413.11 L556.84,413.15 L558.73,413.18 L560.63,413.20 L562.52,413.22 L564.41,413.24 L566.31,413.26 L568.20,413.27 L570.09,413.28 L571.99,413.29 L573.88,413.30 L575.77,413.31 L577.67,413.32 L579.56,413.32 L581.45,413.33 L583.35,413.33 L585.24,413.34 L587.13,413.34 L589.03,413.34 L590.92,413.35 L592.81,413.35 L594.71,413.36 L596.60,413.36 L598.49,413.36 L600.39,413.37 L602.28,413.37 L604.17,413.37 L606.07,413.38 L607.96,413.38 L609.85,413.38 L611.75,413.38 L613.64,413.39 L615.53,413.39 L617.43,413.39 L619.32,413.40 L621.21,413.40 L623.11,413.40 L625.00,413.41" fill="none" stroke="#0b0b55" stroke-width="3.5" stroke-linejoin="round"/>
<rect x="305.5" y="113.7" width="283.9" height="209.2" fill="#fff" stroke="#8c8c8c" stroke-width="1.6"/>
<line x1="305.50" y1="322.9" x2="305.50" y2="326.9" stroke="#8a8a8a" stroke-width="1.6"/>
<line x1="400.13" y1="322.9" x2="400.13" y2="326.9" stroke="#8a8a8a" stroke-width="1.6"/>
<line x1="494.77" y1="322.9" x2="494.77" y2="326.9" stroke="#8a8a8a" stroke-width="1.6"/>
<line x1="589.40" y1="322.9" x2="589.40" y2="326.9" stroke="#8a8a8a" stroke-width="1.6"/>
<path d="M305.50,320.98 L306.45,321.40 L307.39,320.19 L308.34,321.58 L309.29,320.47 L310.23,320.87 L311.18,321.61 L312.12,320.53 L313.07,321.65 L314.02,320.70 L314.96,321.57 L315.91,321.52 L316.86,320.71 L317.80,319.74 L318.75,321.43 L319.69,321.19 L320.64,320.21 L321.59,319.44 L322.53,320.32 L323.48,320.75 L324.43,319.35 L325.37,321.57 L326.32,319.61 L327.27,320.96 L328.21,321.29 L329.16,321.34 L330.10,320.85 L331.05,319.60 L332.00,321.08 L332.94,320.07 L333.89,319.87 L334.84,320.43 L335.78,319.90 L336.73,320.95 L337.68,320.81 L338.62,320.28 L339.57,318.94 L340.51,319.31 L341.46,319.30 L342.41,318.34 L343.35,318.31 L344.30,318.29 L345.25,316.69 L346.19,316.46 L347.14,317.06 L348.08,315.75 L349.03,315.33 L349.98,313.92 L350.92,313.70 L351.87,314.19 L352.82,312.03 L353.76,313.72 L354.71,312.81 L355.66,312.04 L356.60,313.73 L357.55,313.33 L358.49,314.92 L359.44,313.97 L360.39,314.29 L361.33,315.27 L362.28,315.03 L363.23,316.81 L364.17,316.29 L365.12,316.87 L366.07,317.22 L367.01,317.79 L367.96,317.11 L368.90,317.08 L369.85,318.41 L370.80,318.14 L371.74,319.75 L372.69,318.37 L373.64,318.64 L374.58,317.94 L375.53,318.47 L376.48,319.87 L377.42,319.72 L378.37,319.14 L379.31,320.78 L380.26,319.80 L381.21,320.58 L382.15,320.77 L383.10,320.97 L384.05,319.32 L384.99,320.91 L385.94,320.67 L386.88,320.37 L387.83,319.25 L388.78,321.19 L389.72,320.34 L390.67,320.12 L391.62,319.35 L392.56,319.53 L393.51,319.44 L394.46,320.86 L395.40,320.55 L396.35,320.71 L397.29,319.46 L398.24,319.29 L399.19,321.24 L400.13,321.19 L401.08,321.07 L402.03,321.07 L402.97,320.48 L403.92,320.24 L404.87,321.03 L405.81,321.65 L406.76,320.66 L407.70,320.79 L408.65,320.32 L409.60,319.40 L410.54,320.03 L411.49,320.45 L412.44,320.21 L413.38,320.08 L414.33,321.57 L415.27,319.55 L416.22,319.84 L417.17,319.61 L418.11,319.80 L419.06,320.77 L420.01,320.76 L420.95,321.47 L421.90,320.20 L422.85,321.58 L423.79,321.57 L424.74,321.23 L425.68,321.34 L426.63,320.92 L427.58,321.61 L428.52,321.74 L429.47,321.37 L430.42,321.50 L431.36,320.87 L432.31,321.68 L433.25,319.64 L434.20,320.27 L435.15,321.39 L436.09,321.14 L437.04,320.91 L437.99,320.88 L438.93,321.46 L439.88,319.71 L440.83,319.37 L441.77,320.64 L442.72,320.59 L443.66,321.55 L444.61,321.51 L445.56,320.94 L446.50,321.12 L447.45,319.77 L448.40,321.37 L449.34,321.71 L450.29,319.48 L451.24,320.49 L452.18,321.41 L453.13,320.46 L454.07,321.70 L455.02,320.50 L455.97,319.42 L456.91,319.69 L457.86,320.10 L458.81,321.14 L459.75,320.89 L460.70,321.37 L461.64,319.92 L462.59,320.49 L463.54,319.90 L464.48,320.98 L465.43,321.24 L466.38,319.82 L467.32,319.41 L468.27,319.73 L469.22,319.84 L470.16,319.81 L471.11,320.00 L472.05,321.23 L473.00,320.53 L473.95,320.92 L474.89,321.70 L475.84,321.71 L476.79,321.10 L477.73,321.15 L478.68,320.11 L479.63,319.48 L480.57,320.70 L481.52,319.52 L482.46,319.40 L483.41,319.47 L484.36,320.89 L485.30,321.23 L486.25,321.21 L487.20,321.28 L488.14,321.25 L489.09,320.23 L490.03,319.56 L490.98,319.69 L491.93,320.54 L492.87,320.11 L493.82,319.74 L494.77,321.43 L495.71,320.02 L496.66,319.40 L497.61,319.67 L498.55,319.71 L499.50,320.32 L500.44,321.00 L501.39,319.48 L502.34,320.53 L503.28,319.35 L504.23,318.88 L505.18,320.20 L506.12,320.12 L507.07,318.74 L508.02,319.21 L508.96,320.47 L509.91,320.50 L510.85,320.37 L511.80,318.50 L512.75,318.67 L513.69,320.19 L514.64,318.51 L515.59,318.09 L516.53,318.82 L517.48,319.52 L518.42,319.01 L519.37,319.99 L520.32,320.26 L521.26,317.96 L522.21,318.73 L523.16,319.04 L524.10,318.09 L525.05,319.32 L526.00,318.30 L526.94,318.46 L527.89,319.98 L528.83,319.94 L529.78,319.91 L530.73,320.10 L531.67,319.33 L532.62,320.19 L533.57,319.87 L534.51,320.63 L535.46,318.83 L536.41,320.24 L537.35,320.05 L538.30,319.81 L539.24,319.10 L540.19,320.32 L541.14,319.18 L542.08,320.23 L543.03,320.20 L543.98,320.26 L544.92,321.51 L545.87,320.53 L546.81,321.18 L547.76,321.63 L548.71,319.75 L549.65,321.27 L550.60,320.57 L551.55,319.98 L552.49,320.40 L553.44,320.96 L554.39,320.51 L555.33,320.43 L556.28,319.88 L557.22,321.52 L558.17,320.43 L559.12,321.18 L560.06,321.12 L561.01,319.93 L561.96,320.57 L562.90,320.44 L563.85,319.96 L564.80,319.60 L565.74,320.73 L566.69,320.32 L567.63,320.58 L568.58,320.56 L569.53,320.13 L570.47,320.71 L571.42,320.51 L572.37,320.65 L573.31,319.53 L574.26,320.11 L575.20,319.69 L576.15,319.53 L577.10,321.17 L578.04,320.45 L578.99,319.53 L579.94,319.78 L580.88,321.46 L581.83,321.50 L582.78,320.73 L583.72,321.62 L584.67,321.22 L585.61,321.62 L586.56,320.19 L587.51,319.91 L588.45,319.64 L589.40,321.42" fill="none" stroke="#b8d8f4" stroke-width="3.3" stroke-linejoin="round"/>
<path d="M305.50,319.87 L306.45,320.00 L307.39,321.23 L308.34,319.45 L309.29,319.24 L310.23,321.02 L311.18,319.25 L312.12,320.57 L313.07,320.34 L314.02,319.12 L314.96,319.49 L315.91,321.08 L316.86,320.42 L317.80,320.20 L318.75,320.60 L319.69,320.93 L320.64,320.61 L321.59,319.61 L322.53,321.27 L323.48,319.95 L324.43,320.18 L325.37,321.15 L326.32,320.34 L327.27,319.57 L328.21,319.75 L329.16,320.71 L330.10,318.37 L331.05,318.67 L332.00,318.02 L332.94,319.83 L333.89,319.10 L334.84,319.23 L335.78,316.94 L336.73,317.54 L337.68,317.12 L338.62,315.52 L339.57,313.29 L340.51,312.28 L341.46,312.21 L342.41,310.87 L343.35,307.23 L344.30,306.08 L345.25,303.60 L346.19,302.72 L347.14,300.28 L348.08,296.10 L349.03,293.93 L349.98,291.87 L350.92,286.83 L351.87,284.66 L352.82,281.67 L353.76,281.43 L354.71,278.60 L355.66,280.71 L356.60,280.07 L357.55,283.15 L358.49,286.05 L359.44,288.39 L360.39,290.34 L361.33,294.63 L362.28,297.45 L363.23,298.74 L364.17,301.43 L365.12,303.52 L366.07,304.98 L367.01,306.66 L367.96,307.56 L368.90,308.44 L369.85,309.49 L370.80,309.33 L371.74,311.32 L372.69,311.60 L373.64,313.09 L374.58,313.35 L375.53,314.75 L376.48,314.76 L377.42,315.84 L378.37,314.60 L379.31,315.48 L380.26,316.76 L381.21,316.45 L382.15,315.69 L383.10,317.99 L384.05,316.57 L384.99,317.76 L385.94,317.85 L386.88,317.26 L387.83,318.52 L388.78,318.43 L389.72,318.16 L390.67,317.60 L391.62,319.27 L392.56,318.22 L393.51,318.63 L394.46,318.90 L395.40,319.54 L396.35,319.76 L397.29,320.54 L398.24,320.42 L399.19,320.63 L400.13,319.07 L401.08,320.29 L402.03,320.55 L402.97,320.78 L403.92,319.01 L404.87,318.97 L405.81,319.48 L406.76,320.44 L407.70,320.57 L408.65,320.47 L409.60,320.09 L410.54,320.84 L411.49,320.17 L412.44,320.63 L413.38,318.97 L414.33,318.96 L415.27,320.00 L416.22,320.74 L417.17,319.02 L418.11,320.61 L419.06,320.51 L420.01,321.38 L420.95,320.47 L421.90,320.26 L422.85,320.21 L423.79,320.94 L424.74,320.22 L425.68,321.43 L426.63,320.82 L427.58,321.25 L428.52,320.51 L429.47,321.38 L430.42,321.43 L431.36,320.76 L432.31,320.94 L433.25,320.10 L434.20,320.25 L435.15,319.72 L436.09,319.95 L437.04,319.82 L437.99,319.43 L438.93,320.61 L439.88,320.77 L440.83,319.19 L441.77,321.20 L442.72,319.83 L443.66,320.03 L444.61,321.47 L445.56,319.58 L446.50,319.45 L447.45,320.09 L448.40,319.83 L449.34,319.65 L450.29,321.27 L451.24,320.35 L452.18,320.40 L453.13,319.61 L454.07,319.69 L455.02,319.64 L455.97,320.22 L456.91,319.48 L457.86,319.99 L458.81,319.97 L459.75,321.08 L460.70,321.56 L461.64,321.32 L462.59,320.78 L463.54,321.40 L464.48,319.64 L465.43,320.31 L466.38,320.15 L467.32,320.15 L468.27,320.03 L469.22,320.49 L470.16,321.66 L471.11,319.75 L472.05,319.87 L473.00,320.46 L473.95,320.39 L474.89,320.09 L475.84,321.51 L476.79,319.90 L477.73,321.07 L478.68,321.49 L479.63,321.03 L480.57,319.92 L481.52,321.17 L482.46,319.89 L483.41,319.31 L484.36,320.46 L485.30,320.72 L486.25,320.48 L487.20,319.97 L488.14,319.75 L489.09,320.09 L490.03,320.00 L490.98,321.32 L491.93,321.12 L492.87,320.82 L493.82,319.59 L494.77,320.58 L495.71,319.88 L496.66,321.14 L497.61,320.94 L498.55,320.34 L499.50,319.26 L500.44,319.10 L501.39,319.01 L502.34,319.79 L503.28,319.10 L504.23,319.07 L505.18,318.90 L506.12,319.56 L507.07,317.52 L508.02,319.01 L508.96,316.95 L509.91,316.87 L510.85,318.89 L511.80,317.65 L512.75,316.61 L513.69,316.10 L514.64,317.19 L515.59,317.49 L516.53,317.51 L517.48,315.65 L518.42,317.33 L519.37,316.38 L520.32,317.41 L521.26,316.48 L522.21,315.46 L523.16,317.47 L524.10,315.87 L525.05,316.70 L526.00,315.90 L526.94,316.46 L527.89,317.72 L528.83,316.28 L529.78,317.43 L530.73,318.71 L531.67,318.94 L532.62,317.95 L533.57,318.24 L534.51,318.78 L535.46,319.35 L536.41,319.04 L537.35,319.29 L538.30,318.20 L539.24,320.37 L540.19,318.72 L541.14,318.65 L542.08,320.51 L543.03,318.69 L543.98,319.31 L544.92,318.96 L545.87,320.51 L546.81,320.40 L547.76,320.42 L548.71,319.02 L549.65,320.06 L550.60,320.65 L551.55,320.53 L552.49,320.93 L553.44,321.51 L554.39,321.40 L555.33,319.67 L556.28,321.00 L557.22,319.45 L558.17,321.11 L559.12,321.08 L560.06,320.50 L561.01,321.28 L561.96,320.85 L562.90,319.45 L563.85,319.63 L564.80,319.80 L565.74,320.24 L566.69,319.56 L567.63,319.50 L568.58,320.44 L569.53,320.03 L570.47,321.64 L571.42,320.00 L572.37,320.68 L573.31,319.96 L574.26,320.22 L575.20,321.08 L576.15,321.65 L577.10,319.54 L578.04,321.46 L578.99,320.63 L579.94,320.94 L580.88,321.05 L581.83,319.99 L582.78,319.42 L583.72,321.14 L584.67,320.19 L585.61,321.04 L586.56,320.43 L587.51,320.82 L588.45,321.37 L589.40,321.38" fill="none" stroke="#90b8ec" stroke-width="3.3" stroke-linejoin="round"/>
<path d="M305.50,320.53 L306.45,318.40 L307.39,319.59 L308.34,320.38 L309.29,318.28 L310.23,317.96 L311.18,319.55 L312.12,320.43 L313.07,320.22 L314.02,320.46 L314.96,319.64 L315.91,320.33 L316.86,319.81 L317.80,319.67 L318.75,318.64 L319.69,317.59 L320.64,317.90 L321.59,318.79 L322.53,318.65 L323.48,318.16 L324.43,318.42 L325.37,318.32 L326.32,318.88 L327.27,317.92 L328.21,315.45 L329.16,317.48 L330.10,315.73 L331.05,314.57 L332.00,312.90 L332.94,313.61 L333.89,311.91 L334.84,310.08 L335.78,307.29 L336.73,304.30 L337.68,299.34 L338.62,295.57 L339.57,290.68 L340.51,287.63 L341.46,281.17 L342.41,271.84 L343.35,263.11 L344.30,255.34 L345.25,245.12 L346.19,236.20 L347.14,223.59 L348.08,209.84 L349.03,197.38 L349.98,184.03 L350.92,170.19 L351.87,159.20 L352.82,147.80 L353.76,138.71 L354.71,133.19 L355.66,133.69 L356.60,138.68 L357.55,148.89 L358.49,161.07 L359.44,173.71 L360.39,187.62 L361.33,199.66 L362.28,212.52 L363.23,220.49 L364.17,231.25 L365.12,237.29 L366.07,245.32 L367.01,252.78 L367.96,259.08 L368.90,263.90 L369.85,267.45 L370.80,271.54 L371.74,277.20 L372.69,280.90 L373.64,282.82 L374.58,285.67 L375.53,289.04 L376.48,292.10 L377.42,293.34 L378.37,297.30 L379.31,298.44 L380.26,299.82 L381.21,300.03 L382.15,302.55 L383.10,303.27 L384.05,305.81 L384.99,307.74 L385.94,308.80 L386.88,307.66 L387.83,309.34 L388.78,311.36 L389.72,312.97 L390.67,312.22 L391.62,312.30 L392.56,313.62 L393.51,314.61 L394.46,313.84 L395.40,313.47 L396.35,315.94 L397.29,316.85 L398.24,316.24 L399.19,316.27 L400.13,315.73 L401.08,317.41 L402.03,315.82 L402.97,316.18 L403.92,317.05 L404.87,318.11 L405.81,315.96 L406.76,318.07 L407.70,316.67 L408.65,318.55 L409.60,318.68 L410.54,317.17 L411.49,318.66 L412.44,316.77 L413.38,318.23 L414.33,319.23 L415.27,319.19 L416.22,318.68 L417.17,318.00 L418.11,317.22 L419.06,319.68 L420.01,319.00 L420.95,319.60 L421.90,317.37 L422.85,319.91 L423.79,320.23 L424.74,320.25 L425.68,319.30 L426.63,317.82 L427.58,317.91 L428.52,318.40 L429.47,317.64 L430.42,317.88 L431.36,319.72 L432.31,320.18 L433.25,317.96 L434.20,318.56 L435.15,320.74 L436.09,318.87 L437.04,319.76 L437.99,319.80 L438.93,319.95 L439.88,320.46 L440.83,320.99 L441.77,320.18 L442.72,319.99 L443.66,318.20 L444.61,320.71 L445.56,318.21 L446.50,320.50 L447.45,320.08 L448.40,318.70 L449.34,318.72 L450.29,319.90 L451.24,321.07 L452.18,319.82 L453.13,320.13 L454.07,318.51 L455.02,320.71 L455.97,320.21 L456.91,318.62 L457.86,321.24 L458.81,320.11 L459.75,318.92 L460.70,319.07 L461.64,321.26 L462.59,321.29 L463.54,321.22 L464.48,318.66 L465.43,320.66 L466.38,319.20 L467.32,318.76 L468.27,320.45 L469.22,320.66 L470.16,318.61 L471.11,319.64 L472.05,320.71 L473.00,319.36 L473.95,320.57 L474.89,320.69 L475.84,321.52 L476.79,319.26 L477.73,318.79 L478.68,319.63 L479.63,318.70 L480.57,321.46 L481.52,320.82 L482.46,320.09 L483.41,318.63 L484.36,318.62 L485.30,320.29 L486.25,320.66 L487.20,320.08 L488.14,319.84 L489.09,318.47 L490.03,320.62 L490.98,318.67 L491.93,318.75 L492.87,318.36 L493.82,318.36 L494.77,318.68 L495.71,319.32 L496.66,319.11 L497.61,318.72 L498.55,317.17 L499.50,318.96 L500.44,318.26 L501.39,316.20 L502.34,317.31 L503.28,317.41 L504.23,317.03 L505.18,314.98 L506.12,315.14 L507.07,312.64 L508.02,312.38 L508.96,311.51 L509.91,313.13 L510.85,313.12 L511.80,312.55 L512.75,310.83 L513.69,309.72 L514.64,310.06 L515.59,310.29 L516.53,309.39 L517.48,308.48 L518.42,308.09 L519.37,307.69 L520.32,307.29 L521.26,307.81 L522.21,309.48 L523.16,307.43 L524.10,309.25 L525.05,308.67 L526.00,309.56 L526.94,308.82 L527.89,310.85 L528.83,311.16 L529.78,311.65 L530.73,312.45 L531.67,310.80 L532.62,312.27 L533.57,313.59 L534.51,313.94 L535.46,312.70 L536.41,314.70 L537.35,316.06 L538.30,314.83 L539.24,315.77 L540.19,315.21 L541.14,318.30 L542.08,317.58 L543.03,316.90 L543.98,317.17 L544.92,317.24 L545.87,320.13 L546.81,319.61 L547.76,320.34 L548.71,320.32 L549.65,318.13 L550.60,319.44 L551.55,318.52 L552.49,320.29 L553.44,318.90 L554.39,320.23 L555.33,320.86 L556.28,319.36 L557.22,318.90 L558.17,321.45 L559.12,320.01 L560.06,319.96 L561.01,321.19 L561.96,320.75 L562.90,321.45 L563.85,321.27 L564.80,321.13 L565.74,320.10 L566.69,319.95 L567.63,321.30 L568.58,321.88 L569.53,320.93 L570.47,319.88 L571.42,321.37 L572.37,320.99 L573.31,321.32 L574.26,319.54 L575.20,320.29 L576.15,321.74 L577.10,321.63 L578.04,320.75 L578.99,320.29 L579.94,320.02 L580.88,321.67 L581.83,321.45 L582.78,319.86 L583.72,320.71 L584.67,321.09 L585.61,321.02 L586.56,319.09 L587.51,321.01 L588.45,320.25 L589.40,320.88" fill="none" stroke="#5a8ae0" stroke-width="3.3" stroke-linejoin="round"/>
<rect x="305.5" y="113.7" width="283.9" height="209.2" fill="none" stroke="#c01818" stroke-width="2" stroke-dasharray="7,5"/>
<text x="305.50" y="355.00" font-size="21" fill="#000" text-anchor="middle">400</text>
<text x="400.13" y="355.00" font-size="21" fill="#000" text-anchor="middle">500</text>
<text x="494.77" y="355.00" font-size="21" fill="#000" text-anchor="middle">600</text>
<text x="589.40" y="355.00" font-size="21" fill="#000" text-anchor="middle">700</text>
<line x1="452.75" y1="396" x2="452.75" y2="365" stroke="#c00000" stroke-width="2"/>
<path d="M452.75,350.5 L444.75,365 L460.75,365 Z" fill="#c00000"/>
<text x="207.50" y="90.00" font-size="24.5" fill="#0b0b55" font-weight="bold" text-anchor="start" textLength="50" lengthAdjust="spacingAndGlyphs">6.0V</text>
<text x="207.50" y="120.00" font-size="24.5" fill="#2f2fd0" font-weight="bold" text-anchor="start" textLength="50" lengthAdjust="spacingAndGlyphs">5.0V</text>
<text x="207.50" y="150.00" font-size="24.5" fill="#2f55d5" font-weight="bold" text-anchor="start" textLength="50" lengthAdjust="spacingAndGlyphs">4.0V</text>
<text x="207.50" y="180.00" font-size="24.5" fill="#5a85dd" font-weight="bold" text-anchor="start" textLength="50" lengthAdjust="spacingAndGlyphs">3.5V</text>
<text x="207.50" y="210.00" font-size="24.5" fill="#8fb5e8" font-weight="bold" text-anchor="start" textLength="50" lengthAdjust="spacingAndGlyphs">3.3V</text>
<text x="207.50" y="240.00" font-size="24.5" fill="#a8d0f0" font-weight="bold" text-anchor="start" textLength="50" lengthAdjust="spacingAndGlyphs">3.1V</text>
<text x="500.50" y="156.00" font-size="23.5" fill="#5a85dd" text-anchor="start" textLength="50" lengthAdjust="spacingAndGlyphs" stroke="#5a85dd" stroke-width="0.9">3.5V</text>
<text x="500.50" y="185.80" font-size="23.5" fill="#8fb5e8" text-anchor="start" textLength="50" lengthAdjust="spacingAndGlyphs" stroke="#8fb5e8" stroke-width="0.9">3.3V</text>
<text x="500.50" y="215.60" font-size="23.5" fill="#a8d0f0" text-anchor="start" textLength="50" lengthAdjust="spacingAndGlyphs" stroke="#a8d0f0" stroke-width="0.9">3.1V</text>
<text x="57.00" y="452.00" font-size="23.5" fill="#000" text-anchor="middle" textLength="40" lengthAdjust="spacingAndGlyphs">400</text>
<text x="246.33" y="452.00" font-size="23.5" fill="#000" text-anchor="middle" textLength="40" lengthAdjust="spacingAndGlyphs">500</text>
<text x="435.67" y="452.00" font-size="23.5" fill="#000" text-anchor="middle" textLength="40" lengthAdjust="spacingAndGlyphs">600</text>
<text x="625.00" y="452.00" font-size="23.5" fill="#000" text-anchor="middle" textLength="40" lengthAdjust="spacingAndGlyphs">700</text>
<text x="237.50" y="488.60" font-size="29" fill="#000" text-anchor="start" textLength="218.5" lengthAdjust="spacingAndGlyphs">Wavelength (nm)</text>
<text transform="translate(23.3,308) rotate(-90)" font-size="28.5" fill="#000" textLength="181" lengthAdjust="spacingAndGlyphs">Intensity (a.u.)</text>
<text x="5.50" y="29.30" font-size="46" fill="#000" font-weight="bold" text-anchor="start">a</text>
<line x1="84.01" y1="554.25" x2="84.01" y2="564.25" stroke="#000" stroke-width="2"/>
<line x1="239.68" y1="554.25" x2="239.68" y2="564.25" stroke="#000" stroke-width="2"/>
<line x1="473.18" y1="554.25" x2="473.18" y2="564.25" stroke="#000" stroke-width="2"/>
<text x="65.50" y="541.30" font-size="22" fill="#808080" text-anchor="start" textLength="34" lengthAdjust="spacingAndGlyphs">3.0</text>
<text x="221.00" y="541.30" font-size="22" fill="#808080" text-anchor="start" textLength="34" lengthAdjust="spacingAndGlyphs">2.5</text>
<text x="454.00" y="541.30" font-size="22" fill="#808080" text-anchor="start" textLength="33.5" lengthAdjust="spacingAndGlyphs">2.0</text>
<text x="505.00" y="541.30" font-size="22" fill="#808080" text-anchor="start" textLength="45" lengthAdjust="spacingAndGlyphs">(eV)</text>
<line x1="247.33" y1="937.25" x2="247.33" y2="944.25" stroke="#8a8a8a" stroke-width="2"/>
<line x1="435.67" y1="937.25" x2="435.67" y2="944.25" stroke="#8a8a8a" stroke-width="2"/>
<line x1="624.00" y1="937.25" x2="624.00" y2="944.25" stroke="#8a8a8a" stroke-width="2"/>
<path d="M59,937.25 L59,554.25 L624,554.25 L624,937.25" fill="none" stroke="#000" stroke-width="2.2"/>
<line x1="59" y1="936.25" x2="624" y2="936.25" stroke="#000" stroke-width="2"/>
<rect x="59" y="918" width="563" height="26.5" fill="none" stroke="#c01818" stroke-width="2" stroke-dasharray="7,5"/>
<path d="M59.00,936.25 L60.88,936.25 L62.77,936.25 L64.65,936.25 L66.53,936.25 L68.42,936.25 L70.30,936.25 L72.18,936.25 L74.07,936.25 L75.95,936.25 L77.83,936.25 L79.72,936.25 L81.60,936.25 L83.48,936.25 L85.37,936.25 L87.25,936.25 L89.13,936.25 L91.02,936.25 L92.90,936.25 L94.78,936.24 L96.67,936.24 L98.55,936.24 L100.43,936.24 L102.32,936.24 L104.20,936.24 L106.08,936.24 L107.97,936.24 L109.85,936.24 L111.73,936.23 L113.62,936.23 L115.50,936.23 L117.38,936.22 L119.27,936.22 L121.15,936.21 L123.03,936.20 L124.92,936.19 L126.80,936.19 L128.68,936.18 L130.57,936.16 L132.45,936.15 L134.33,936.14 L136.22,936.12 L138.10,936.11 L139.98,936.09 L141.87,936.07 L143.75,936.05 L145.63,936.04 L147.52,936.02 L149.40,936.00 L151.28,935.98 L153.17,935.96 L155.05,935.95 L156.93,935.95 L158.82,935.95 L160.70,935.96 L162.58,935.98 L164.47,935.99 L166.35,936.01 L168.23,936.03 L170.12,936.05 L172.00,936.07 L173.88,936.08 L175.77,936.10 L177.65,936.11 L179.53,936.12 L181.42,936.13 L183.30,936.14 L185.18,936.15 L187.07,936.16 L188.95,936.16 L190.83,936.17 L192.72,936.18 L194.60,936.18 L196.48,936.19 L198.37,936.19 L200.25,936.19 L202.13,936.20 L204.02,936.20 L205.90,936.21 L207.78,936.21 L209.67,936.21 L211.55,936.21 L213.43,936.22 L215.32,936.22 L217.20,936.22 L219.08,936.22 L220.97,936.23 L222.85,936.23 L224.73,936.23 L226.62,936.23 L228.50,936.23 L230.38,936.23 L232.27,936.23 L234.15,936.24 L236.03,936.24 L237.92,936.24 L239.80,936.24 L241.68,936.24 L243.57,936.24 L245.45,936.24 L247.33,936.24 L249.22,936.24 L251.10,936.24 L252.98,936.24 L254.87,936.24 L256.75,936.24 L258.63,936.24 L260.52,936.24 L262.40,936.24 L264.28,936.24 L266.17,936.24 L268.05,936.24 L269.93,936.24 L271.82,936.25 L273.70,936.25 L275.58,936.25 L277.47,936.25 L279.35,936.25 L281.23,936.25 L283.12,936.25 L285.00,936.25 L286.88,936.25 L288.77,936.25 L290.65,936.25 L292.53,936.25 L294.42,936.25 L296.30,936.25 L298.18,936.25 L300.07,936.25 L301.95,936.25 L303.83,936.25 L305.72,936.25 L307.60,936.25 L309.48,936.25 L311.37,936.25 L313.25,936.25 L315.13,936.25 L317.02,936.25 L318.90,936.25 L320.78,936.25 L322.67,936.25 L324.55,936.25 L326.43,936.25 L328.32,936.25 L330.20,936.25 L332.08,936.25 L333.97,936.25 L335.85,936.25 L337.73,936.25 L339.62,936.25 L341.50,936.25 L343.38,936.25 L345.27,936.25 L347.15,936.25 L349.03,936.25 L350.92,936.25 L352.80,936.25 L354.68,936.25 L356.57,936.25 L358.45,936.25 L360.33,936.25 L362.22,936.25 L364.10,936.25 L365.98,936.25 L367.87,936.25 L369.75,936.25 L371.63,936.25 L373.52,936.25 L375.40,936.25 L377.28,936.25 L379.17,936.25 L381.05,936.25 L382.93,936.25 L384.82,936.25 L386.70,936.25 L388.58,936.25 L390.47,936.25 L392.35,936.25 L394.23,936.25 L396.12,936.25 L398.00,936.25 L399.88,936.25 L401.77,936.25 L403.65,936.25 L405.53,936.25 L407.42,936.25 L409.30,936.25 L411.18,936.25 L413.07,936.25 L414.95,936.25 L416.83,936.25 L418.72,936.25 L420.60,936.25 L422.48,936.25 L424.37,936.25 L426.25,936.25 L428.13,936.24 L430.02,936.24 L431.90,936.24 L433.78,936.24 L435.67,936.24 L437.55,936.24 L439.43,936.24 L441.32,936.23 L443.20,936.23 L445.08,936.23 L446.97,936.23 L448.85,936.22 L450.73,936.22 L452.62,936.21 L454.50,936.21 L456.38,936.21 L458.27,936.20 L460.15,936.20 L462.03,936.19 L463.92,936.19 L465.80,936.18 L467.68,936.18 L469.57,936.17 L471.45,936.17 L473.33,936.17 L475.22,936.16 L477.10,936.16 L478.98,936.16 L480.87,936.15 L482.75,936.15 L484.63,936.15 L486.52,936.15 L488.40,936.15 L490.28,936.15 L492.17,936.15 L494.05,936.15 L495.93,936.15 L497.82,936.16 L499.70,936.16 L501.58,936.16 L503.47,936.17 L505.35,936.17 L507.23,936.18 L509.12,936.18 L511.00,936.18 L512.88,936.19 L514.77,936.19 L516.65,936.20 L518.53,936.20 L520.42,936.21 L522.30,936.21 L524.18,936.22 L526.07,936.22 L527.95,936.22 L529.83,936.23 L531.72,936.23 L533.60,936.23 L535.48,936.23 L537.37,936.24 L539.25,936.24 L541.13,936.24 L543.02,936.24 L544.90,936.24 L546.78,936.24 L548.67,936.24 L550.55,936.25 L552.43,936.25 L554.32,936.25 L556.20,936.25 L558.08,936.25 L559.97,936.25 L561.85,936.25 L563.73,936.25 L565.62,936.25 L567.50,936.25 L569.38,936.25 L571.27,936.25 L573.15,936.25 L575.03,936.25 L576.92,936.25 L578.80,936.25 L580.68,936.25 L582.57,936.25 L584.45,936.25 L586.33,936.25 L588.22,936.25 L590.10,936.25 L591.98,936.25 L593.87,936.25 L595.75,936.25 L597.63,936.25 L599.52,936.25 L601.40,936.25 L603.28,936.25 L605.17,936.25 L607.05,936.25 L608.93,936.25 L610.82,936.25 L612.70,936.25 L614.58,936.25 L616.47,936.25 L618.35,936.25 L620.23,936.25 L622.12,936.25 L624.00,936.25" fill="none" stroke="#60e0f0" stroke-width="3.5" stroke-linejoin="round"/>
<path d="M59.00,936.25 L60.88,936.25 L62.77,936.25 L64.65,936.25 L66.53,936.25 L68.42,936.25 L70.30,936.25 L72.18,936.25 L74.07,936.24 L75.95,936.24 L77.83,936.24 L79.72,936.24 L81.60,936.24 L83.48,936.24 L85.37,936.24 L87.25,936.24 L89.13,936.24 L91.02,936.24 L92.90,936.24 L94.78,936.24 L96.67,936.24 L98.55,936.24 L100.43,936.24 L102.32,936.23 L104.20,936.23 L106.08,936.23 L107.97,936.23 L109.85,936.22 L111.73,936.22 L113.62,936.21 L115.50,936.20 L117.38,936.19 L119.27,936.18 L121.15,936.17 L123.03,936.16 L124.92,936.14 L126.80,936.12 L128.68,936.10 L130.57,936.08 L132.45,936.05 L134.33,936.03 L136.22,936.00 L138.10,935.96 L139.98,935.93 L141.87,935.90 L143.75,935.86 L145.63,935.82 L147.52,935.78 L149.40,935.74 L151.28,935.71 L153.17,935.68 L155.05,935.66 L156.93,935.65 L158.82,935.66 L160.70,935.67 L162.58,935.70 L164.47,935.74 L166.35,935.77 L168.23,935.81 L170.12,935.85 L172.00,935.88 L173.88,935.91 L175.77,935.94 L177.65,935.97 L179.53,935.99 L181.42,936.01 L183.30,936.03 L185.18,936.05 L187.07,936.06 L188.95,936.08 L190.83,936.09 L192.72,936.10 L194.60,936.11 L196.48,936.12 L198.37,936.13 L200.25,936.14 L202.13,936.15 L204.02,936.15 L205.90,936.16 L207.78,936.17 L209.67,936.17 L211.55,936.18 L213.43,936.18 L215.32,936.19 L217.20,936.19 L219.08,936.20 L220.97,936.20 L222.85,936.21 L224.73,936.21 L226.62,936.21 L228.50,936.21 L230.38,936.22 L232.27,936.22 L234.15,936.22 L236.03,936.22 L237.92,936.23 L239.80,936.23 L241.68,936.23 L243.57,936.23 L245.45,936.23 L247.33,936.23 L249.22,936.23 L251.10,936.23 L252.98,936.23 L254.87,936.24 L256.75,936.24 L258.63,936.24 L260.52,936.24 L262.40,936.24 L264.28,936.24 L266.17,936.24 L268.05,936.24 L269.93,936.24 L271.82,936.24 L273.70,936.24 L275.58,936.24 L277.47,936.24 L279.35,936.24 L281.23,936.24 L283.12,936.24 L285.00,936.24 L286.88,936.24 L288.77,936.24 L290.65,936.24 L292.53,936.24 L294.42,936.24 L296.30,936.24 L298.18,936.24 L300.07,936.24 L301.95,936.24 L303.83,936.24 L305.72,936.24 L307.60,936.24 L309.48,936.24 L311.37,936.24 L313.25,936.24 L315.13,936.24 L317.02,936.25 L318.90,936.25 L320.78,936.25 L322.67,936.25 L324.55,936.25 L326.43,936.25 L328.32,936.25 L330.20,936.25 L332.08,936.25 L333.97,936.25 L335.85,936.25 L337.73,936.25 L339.62,936.25 L341.50,936.25 L343.38,936.25 L345.27,936.25 L347.15,936.25 L349.03,936.25 L350.92,936.25 L352.80,936.25 L354.68,936.25 L356.57,936.25 L358.45,936.25 L360.33,936.25 L362.22,936.25 L364.10,936.25 L365.98,936.25 L367.87,936.25 L369.75,936.25 L371.63,936.25 L373.52,936.25 L375.40,936.25 L377.28,936.25 L379.17,936.25 L381.05,936.25 L382.93,936.25 L384.82,936.25 L386.70,936.25 L388.58,936.25 L390.47,936.25 L392.35,936.25 L394.23,936.25 L396.12,936.25 L398.00,936.25 L399.88,936.25 L401.77,936.25 L403.65,936.25 L405.53,936.25 L407.42,936.25 L409.30,936.25 L411.18,936.25 L413.07,936.25 L414.95,936.25 L416.83,936.25 L418.72,936.24 L420.60,936.24 L422.48,936.24 L424.37,936.24 L426.25,936.24 L428.13,936.24 L430.02,936.24 L431.90,936.23 L433.78,936.23 L435.67,936.23 L437.55,936.23 L439.43,936.22 L441.32,936.22 L443.20,936.21 L445.08,936.21 L446.97,936.20 L448.85,936.19 L450.73,936.19 L452.62,936.18 L454.50,936.17 L456.38,936.16 L458.27,936.15 L460.15,936.15 L462.03,936.14 L463.92,936.13 L465.80,936.12 L467.68,936.11 L469.57,936.10 L471.45,936.09 L473.33,936.08 L475.22,936.08 L477.10,936.07 L478.98,936.06 L480.87,936.06 L482.75,936.05 L484.63,936.05 L486.52,936.05 L488.40,936.05 L490.28,936.05 L492.17,936.05 L494.05,936.05 L495.93,936.06 L497.82,936.06 L499.70,936.07 L501.58,936.08 L503.47,936.08 L505.35,936.09 L507.23,936.10 L509.12,936.11 L511.00,936.12 L512.88,936.13 L514.77,936.14 L516.65,936.15 L518.53,936.16 L520.42,936.16 L522.30,936.17 L524.18,936.18 L526.07,936.19 L527.95,936.19 L529.83,936.20 L531.72,936.21 L533.60,936.21 L535.48,936.22 L537.37,936.22 L539.25,936.23 L541.13,936.23 L543.02,936.23 L544.90,936.24 L546.78,936.24 L548.67,936.24 L550.55,936.24 L552.43,936.24 L554.32,936.24 L556.20,936.24 L558.08,936.25 L559.97,936.25 L561.85,936.25 L563.73,936.25 L565.62,936.25 L567.50,936.25 L569.38,936.25 L571.27,936.25 L573.15,936.25 L575.03,936.25 L576.92,936.25 L578.80,936.25 L580.68,936.25 L582.57,936.25 L584.45,936.25 L586.33,936.25 L588.22,936.25 L590.10,936.25 L591.98,936.25 L593.87,936.25 L595.75,936.25 L597.63,936.25 L599.52,936.25 L601.40,936.25 L603.28,936.25 L605.17,936.25 L607.05,936.25 L608.93,936.25 L610.82,936.25 L612.70,936.25 L614.58,936.25 L616.47,936.25 L618.35,936.25 L620.23,936.25 L622.12,936.25 L624.00,936.25" fill="none" stroke="#5ab0e8" stroke-width="3.5" stroke-linejoin="round"/>
<path d="M59.00,936.24 L60.88,936.24 L62.77,936.24 L64.65,936.24 L66.53,936.24 L68.42,936.24 L70.30,936.24 L72.18,936.24 L74.07,936.24 L75.95,936.24 L77.83,936.24 L79.72,936.24 L81.60,936.24 L83.48,936.24 L85.37,936.24 L87.25,936.23 L89.13,936.23 L91.02,936.23 L92.90,936.23 L94.78,936.23 L96.67,936.23 L98.55,936.22 L100.43,936.22 L102.32,936.22 L104.20,936.21 L106.08,936.21 L107.97,936.20 L109.85,936.19 L111.73,936.18 L113.62,936.17 L115.50,936.15 L117.38,936.14 L119.27,936.12 L121.15,936.09 L123.03,936.06 L124.92,936.03 L126.80,935.99 L128.68,935.95 L130.57,935.91 L132.45,935.86 L134.33,935.80 L136.22,935.74 L138.10,935.68 L139.98,935.61 L141.87,935.54 L143.75,935.47 L145.63,935.39 L147.52,935.31 L149.40,935.24 L151.28,935.17 L153.17,935.11 L155.05,935.06 L156.93,935.05 L158.82,935.06 L160.70,935.10 L162.58,935.16 L164.47,935.22 L166.35,935.30 L168.23,935.37 L170.12,935.45 L172.00,935.51 L173.88,935.58 L175.77,935.63 L177.65,935.68 L179.53,935.73 L181.42,935.77 L183.30,935.81 L185.18,935.84 L187.07,935.87 L188.95,935.90 L190.83,935.93 L192.72,935.95 L194.60,935.97 L196.48,935.99 L198.37,936.01 L200.25,936.03 L202.13,936.04 L204.02,936.06 L205.90,936.07 L207.78,936.09 L209.67,936.10 L211.55,936.11 L213.43,936.12 L215.32,936.13 L217.20,936.14 L219.08,936.15 L220.97,936.15 L222.85,936.16 L224.73,936.17 L226.62,936.17 L228.50,936.18 L230.38,936.18 L232.27,936.19 L234.15,936.19 L236.03,936.20 L237.92,936.20 L239.80,936.20 L241.68,936.21 L243.57,936.21 L245.45,936.21 L247.33,936.21 L249.22,936.22 L251.10,936.22 L252.98,936.22 L254.87,936.22 L256.75,936.22 L258.63,936.22 L260.52,936.22 L262.40,936.23 L264.28,936.23 L266.17,936.23 L268.05,936.23 L269.93,936.23 L271.82,936.23 L273.70,936.23 L275.58,936.23 L277.47,936.23 L279.35,936.23 L281.23,936.23 L283.12,936.23 L285.00,936.23 L286.88,936.23 L288.77,936.24 L290.65,936.24 L292.53,936.24 L294.42,936.24 L296.30,936.24 L298.18,936.24 L300.07,936.24 L301.95,936.24 L303.83,936.24 L305.72,936.24 L307.60,936.24 L309.48,936.24 L311.37,936.24 L313.25,936.24 L315.13,936.24 L317.02,936.24 L318.90,936.24 L320.78,936.24 L322.67,936.24 L324.55,936.24 L326.43,936.24 L328.32,936.24 L330.20,936.24 L332.08,936.24 L333.97,936.24 L335.85,936.24 L337.73,936.24 L339.62,936.24 L341.50,936.24 L343.38,936.24 L345.27,936.24 L347.15,936.24 L349.03,936.24 L350.92,936.24 L352.80,936.24 L354.68,936.24 L356.57,936.24 L358.45,936.24 L360.33,936.24 L362.22,936.24 L364.10,936.24 L365.98,936.24 L367.87,936.24 L369.75,936.24 L371.63,936.24 L373.52,936.24 L375.40,936.24 L377.28,936.24 L379.17,936.24 L381.05,936.24 L382.93,936.24 L384.82,936.25 L386.70,936.25 L388.58,936.25 L390.47,936.25 L392.35,936.25 L394.23,936.25 L396.12,936.25 L398.00,936.25 L399.88,936.25 L401.77,936.25 L403.65,936.25 L405.53,936.24 L407.42,936.24 L409.30,936.24 L411.18,936.24 L413.07,936.24 L414.95,936.24 L416.83,936.24 L418.72,936.24 L420.60,936.24 L422.48,936.24 L424.37,936.24 L426.25,936.23 L428.13,936.23 L430.02,936.23 L431.90,936.23 L433.78,936.22 L435.67,936.22 L437.55,936.21 L439.43,936.21 L441.32,936.20 L443.20,936.19 L445.08,936.18 L446.97,936.18 L448.85,936.17 L450.73,936.16 L452.62,936.14 L454.50,936.13 L456.38,936.12 L458.27,936.11 L460.15,936.09 L462.03,936.08 L463.92,936.07 L465.80,936.05 L467.68,936.04 L469.57,936.02 L471.45,936.01 L473.33,936.00 L475.22,935.99 L477.10,935.98 L478.98,935.97 L480.87,935.96 L482.75,935.96 L484.63,935.95 L486.52,935.95 L488.40,935.95 L490.28,935.95 L492.17,935.95 L494.05,935.96 L495.93,935.96 L497.82,935.97 L499.70,935.98 L501.58,935.99 L503.47,936.00 L505.35,936.01 L507.23,936.02 L509.12,936.04 L511.00,936.05 L512.88,936.07 L514.77,936.08 L516.65,936.09 L518.53,936.11 L520.42,936.12 L522.30,936.13 L524.18,936.14 L526.07,936.16 L527.95,936.17 L529.83,936.18 L531.72,936.19 L533.60,936.19 L535.48,936.20 L537.37,936.21 L539.25,936.21 L541.13,936.22 L543.02,936.22 L544.90,936.23 L546.78,936.23 L548.67,936.23 L550.55,936.24 L552.43,936.24 L554.32,936.24 L556.20,936.24 L558.08,936.24 L559.97,936.24 L561.85,936.25 L563.73,936.25 L565.62,936.25 L567.50,936.25 L569.38,936.25 L571.27,936.25 L573.15,936.25 L575.03,936.25 L576.92,936.25 L578.80,936.25 L580.68,936.25 L582.57,936.25 L584.45,936.25 L586.33,936.25 L588.22,936.25 L590.10,936.25 L591.98,936.25 L593.87,936.25 L595.75,936.25 L597.63,936.25 L599.52,936.25 L601.40,936.25 L603.28,936.25 L605.17,936.25 L607.05,936.25 L608.93,936.25 L610.82,936.25 L612.70,936.25 L614.58,936.25 L616.47,936.25 L618.35,936.25 L620.23,936.25 L622.12,936.25 L624.00,936.25" fill="none" stroke="#3a8ae0" stroke-width="3.5" stroke-linejoin="round"/>
<path d="M59.00,936.17 L60.88,936.17 L62.77,936.17 L64.65,936.16 L66.53,936.16 L68.42,936.15 L70.30,936.15 L72.18,936.15 L74.07,936.14 L75.95,936.14 L77.83,936.13 L79.72,936.12 L81.60,936.12 L83.48,936.11 L85.37,936.10 L87.25,936.09 L89.13,936.08 L91.02,936.07 L92.90,936.05 L94.78,936.04 L96.67,936.01 L98.55,935.99 L100.43,935.96 L102.32,935.92 L104.20,935.87 L106.08,935.81 L107.97,935.74 L109.85,935.65 L111.73,935.54 L113.62,935.41 L115.50,935.25 L117.38,935.07 L119.27,934.85 L121.15,934.59 L123.03,934.30 L124.92,933.96 L126.80,933.57 L128.68,933.14 L130.57,932.67 L132.45,932.14 L134.33,931.57 L136.22,930.96 L138.10,930.30 L139.98,929.61 L141.87,928.87 L143.75,928.10 L145.63,927.31 L147.52,926.50 L149.40,925.70 L151.28,924.96 L153.17,924.33 L155.05,923.90 L156.93,923.75 L158.82,923.89 L160.70,924.27 L162.58,924.85 L164.47,925.57 L166.35,926.34 L168.23,927.12 L170.12,927.88 L172.00,928.59 L173.88,929.24 L175.77,929.83 L177.65,930.36 L179.53,930.83 L181.42,931.26 L183.30,931.65 L185.18,932.00 L187.07,932.32 L188.95,932.61 L190.83,932.88 L192.72,933.13 L194.60,933.35 L196.48,933.56 L198.37,933.76 L200.25,933.94 L202.13,934.11 L204.02,934.26 L205.90,934.41 L207.78,934.54 L209.67,934.67 L211.55,934.78 L213.43,934.89 L215.32,934.99 L217.20,935.09 L219.08,935.17 L220.97,935.25 L222.85,935.32 L224.73,935.39 L226.62,935.45 L228.50,935.51 L230.38,935.56 L232.27,935.61 L234.15,935.66 L236.03,935.70 L237.92,935.73 L239.80,935.77 L241.68,935.80 L243.57,935.82 L245.45,935.85 L247.33,935.87 L249.22,935.89 L251.10,935.91 L252.98,935.93 L254.87,935.95 L256.75,935.96 L258.63,935.98 L260.52,935.99 L262.40,936.00 L264.28,936.01 L266.17,936.02 L268.05,936.03 L269.93,936.04 L271.82,936.05 L273.70,936.05 L275.58,936.06 L277.47,936.07 L279.35,936.07 L281.23,936.08 L283.12,936.08 L285.00,936.09 L286.88,936.09 L288.77,936.10 L290.65,936.10 L292.53,936.11 L294.42,936.11 L296.30,936.11 L298.18,936.12 L300.07,936.12 L301.95,936.12 L303.83,936.13 L305.72,936.13 L307.60,936.13 L309.48,936.14 L311.37,936.14 L313.25,936.14 L315.13,936.14 L317.02,936.15 L318.90,936.15 L320.78,936.15 L322.67,936.15 L324.55,936.16 L326.43,936.16 L328.32,936.16 L330.20,936.16 L332.08,936.16 L333.97,936.17 L335.85,936.17 L337.73,936.17 L339.62,936.17 L341.50,936.17 L343.38,936.17 L345.27,936.18 L347.15,936.18 L349.03,936.18 L350.92,936.18 L352.80,936.18 L354.68,936.18 L356.57,936.18 L358.45,936.18 L360.33,936.19 L362.22,936.19 L364.10,936.19 L365.98,936.19 L367.87,936.19 L369.75,936.19 L371.63,936.19 L373.52,936.19 L375.40,936.19 L377.28,936.20 L379.17,936.20 L381.05,936.20 L382.93,936.20 L384.82,936.20 L386.70,936.20 L388.58,936.20 L390.47,936.20 L392.35,936.20 L394.23,936.20 L396.12,936.20 L398.00,936.20 L399.88,936.20 L401.77,936.20 L403.65,936.20 L405.53,936.20 L407.42,936.20 L409.30,936.20 L411.18,936.20 L413.07,936.20 L414.95,936.20 L416.83,936.20 L418.72,936.19 L420.60,936.19 L422.48,936.19 L424.37,936.18 L426.25,936.17 L428.13,936.17 L430.02,936.16 L431.90,936.15 L433.78,936.13 L435.67,936.12 L437.55,936.10 L439.43,936.08 L441.32,936.06 L443.20,936.04 L445.08,936.01 L446.97,935.98 L448.85,935.95 L450.73,935.91 L452.62,935.88 L454.50,935.84 L456.38,935.80 L458.27,935.75 L460.15,935.71 L462.03,935.66 L463.92,935.62 L465.80,935.57 L467.68,935.52 L469.57,935.48 L471.45,935.44 L473.33,935.40 L475.22,935.36 L477.10,935.33 L478.98,935.30 L480.87,935.27 L482.75,935.25 L484.63,935.24 L486.52,935.23 L488.40,935.23 L490.28,935.23 L492.17,935.24 L494.05,935.25 L495.93,935.27 L497.82,935.30 L499.70,935.33 L501.58,935.36 L503.47,935.40 L505.35,935.44 L507.23,935.48 L509.12,935.53 L511.00,935.58 L512.88,935.62 L514.77,935.67 L516.65,935.72 L518.53,935.76 L520.42,935.80 L522.30,935.85 L524.18,935.89 L526.07,935.92 L527.95,935.96 L529.83,935.99 L531.72,936.02 L533.60,936.05 L535.48,936.07 L537.37,936.10 L539.25,936.12 L541.13,936.13 L543.02,936.15 L544.90,936.16 L546.78,936.17 L548.67,936.18 L550.55,936.19 L552.43,936.20 L554.32,936.21 L556.20,936.21 L558.08,936.22 L559.97,936.22 L561.85,936.22 L563.73,936.23 L565.62,936.23 L567.50,936.23 L569.38,936.23 L571.27,936.23 L573.15,936.23 L575.03,936.23 L576.92,936.23 L578.80,936.23 L580.68,936.23 L582.57,936.23 L584.45,936.23 L586.33,936.24 L588.22,936.24 L590.10,936.24 L591.98,936.24 L593.87,936.24 L595.75,936.24 L597.63,936.24 L599.52,936.24 L601.40,936.24 L603.28,936.24 L605.17,936.24 L607.05,936.24 L608.93,936.24 L610.82,936.24 L612.70,936.24 L614.58,936.24 L616.47,936.24 L618.35,936.24 L620.23,936.24 L622.12,936.24 L624.00,936.24" fill="none" stroke="#1a6ad8" stroke-width="3.5" stroke-linejoin="round"/>
<path d="M59.00,935.02 L60.88,934.97 L62.77,934.92 L64.65,934.86 L66.53,934.81 L68.42,934.75 L70.30,934.68 L72.18,934.61 L74.07,934.54 L75.95,934.45 L77.83,934.37 L79.72,934.27 L81.60,934.16 L83.48,934.05 L85.37,933.91 L87.25,933.76 L89.13,933.59 L91.02,933.39 L92.90,933.16 L94.78,932.87 L96.67,932.54 L98.55,932.12 L100.43,931.62 L102.32,931.00 L104.20,930.24 L106.08,929.30 L107.97,928.16 L109.85,926.75 L111.73,925.05 L113.62,923.00 L115.50,920.53 L117.38,917.60 L119.27,914.15 L121.15,910.12 L123.03,905.46 L124.92,900.12 L126.80,894.08 L128.68,887.31 L130.57,879.80 L132.45,871.54 L134.33,862.56 L136.22,852.88 L138.10,842.52 L139.98,831.54 L141.87,819.97 L143.75,807.88 L145.63,795.36 L147.52,782.62 L149.40,770.03 L151.28,758.26 L153.17,748.37 L155.05,741.65 L156.93,739.25 L158.82,741.38 L160.70,747.45 L162.58,756.64 L164.47,767.86 L166.35,780.07 L168.23,792.43 L170.12,804.35 L172.00,815.50 L173.88,825.73 L175.77,835.00 L177.65,843.36 L179.53,850.89 L181.42,857.66 L183.30,863.78 L185.18,869.31 L187.07,874.35 L188.95,878.95 L190.83,883.16 L192.72,887.04 L194.60,890.61 L196.48,893.92 L198.37,896.98 L200.25,899.83 L202.13,902.47 L204.02,904.93 L205.90,907.21 L207.78,909.34 L209.67,911.32 L211.55,913.15 L213.43,914.86 L215.32,916.44 L217.20,917.90 L219.08,919.26 L220.97,920.51 L222.85,921.66 L224.73,922.73 L226.62,923.71 L228.50,924.60 L230.38,925.43 L232.27,926.18 L234.15,926.88 L236.03,927.51 L237.92,928.09 L239.80,928.62 L241.68,929.10 L243.57,929.54 L245.45,929.94 L247.33,930.30 L249.22,930.64 L251.10,930.94 L252.98,931.22 L254.87,931.48 L256.75,931.71 L258.63,931.92 L260.52,932.12 L262.40,932.30 L264.28,932.47 L266.17,932.62 L268.05,932.77 L269.93,932.90 L271.82,933.03 L273.70,933.14 L275.58,933.25 L277.47,933.35 L279.35,933.45 L281.23,933.54 L283.12,933.62 L285.00,933.70 L286.88,933.78 L288.77,933.85 L290.65,933.92 L292.53,933.98 L294.42,934.05 L296.30,934.11 L298.18,934.16 L300.07,934.22 L301.95,934.27 L303.83,934.32 L305.72,934.37 L307.60,934.41 L309.48,934.46 L311.37,934.50 L313.25,934.54 L315.13,934.58 L317.02,934.62 L318.90,934.66 L320.78,934.70 L322.67,934.73 L324.55,934.76 L326.43,934.80 L328.32,934.83 L330.20,934.86 L332.08,934.89 L333.97,934.92 L335.85,934.95 L337.73,934.97 L339.62,935.00 L341.50,935.02 L343.38,935.05 L345.27,935.07 L347.15,935.09 L349.03,935.12 L350.92,935.14 L352.80,935.16 L354.68,935.18 L356.57,935.20 L358.45,935.22 L360.33,935.24 L362.22,935.26 L364.10,935.27 L365.98,935.29 L367.87,935.31 L369.75,935.33 L371.63,935.34 L373.52,935.36 L375.40,935.37 L377.28,935.39 L379.17,935.40 L381.05,935.42 L382.93,935.43 L384.82,935.44 L386.70,935.46 L388.58,935.47 L390.47,935.48 L392.35,935.49 L394.23,935.50 L396.12,935.51 L398.00,935.53 L399.88,935.54 L401.77,935.54 L403.65,935.55 L405.53,935.56 L407.42,935.57 L409.30,935.58 L411.18,935.58 L413.07,935.58 L414.95,935.59 L416.83,935.59 L418.72,935.59 L420.60,935.58 L422.48,935.57 L424.37,935.57 L426.25,935.55 L428.13,935.53 L430.02,935.51 L431.90,935.49 L433.78,935.45 L435.67,935.41 L437.55,935.37 L439.43,935.32 L441.32,935.26 L443.20,935.19 L445.08,935.12 L446.97,935.03 L448.85,934.94 L450.73,934.84 L452.62,934.74 L454.50,934.63 L456.38,934.51 L458.27,934.38 L460.15,934.25 L462.03,934.12 L463.92,933.98 L465.80,933.85 L467.68,933.72 L469.57,933.59 L471.45,933.46 L473.33,933.35 L475.22,933.24 L477.10,933.14 L478.98,933.06 L480.87,932.99 L482.75,932.93 L484.63,932.89 L486.52,932.87 L488.40,932.87 L490.28,932.88 L492.17,932.91 L494.05,932.96 L495.93,933.02 L497.82,933.10 L499.70,933.20 L501.58,933.30 L503.47,933.42 L505.35,933.54 L507.23,933.68 L509.12,933.81 L511.00,933.96 L512.88,934.10 L514.77,934.24 L516.65,934.38 L518.53,934.52 L520.42,934.66 L522.30,934.78 L524.18,934.91 L526.07,935.02 L527.95,935.13 L529.83,935.23 L531.72,935.32 L533.60,935.41 L535.48,935.48 L537.37,935.55 L539.25,935.62 L541.13,935.67 L543.02,935.72 L544.90,935.76 L546.78,935.80 L548.67,935.83 L550.55,935.86 L552.43,935.88 L554.32,935.90 L556.20,935.92 L558.08,935.94 L559.97,935.95 L561.85,935.96 L563.73,935.97 L565.62,935.98 L567.50,935.98 L569.38,935.99 L571.27,936.00 L573.15,936.00 L575.03,936.00 L576.92,936.01 L578.80,936.01 L580.68,936.01 L582.57,936.02 L584.45,936.02 L586.33,936.02 L588.22,936.02 L590.10,936.03 L591.98,936.03 L593.87,936.03 L595.75,936.03 L597.63,936.03 L599.52,936.04 L601.40,936.04 L603.28,936.04 L605.17,936.04 L607.05,936.04 L608.93,936.04 L610.82,936.05 L612.70,936.05 L614.58,936.05 L616.47,936.05 L618.35,936.05 L620.23,936.05 L622.12,936.06 L624.00,936.06" fill="none" stroke="#1414c0" stroke-width="3.5" stroke-linejoin="round"/>
<path d="M59.00,934.07 L60.88,933.98 L62.77,933.89 L64.65,933.80 L66.53,933.70 L68.42,933.59 L70.30,933.47 L72.18,933.35 L74.07,933.21 L75.95,933.07 L77.83,932.92 L79.72,932.74 L81.60,932.56 L83.48,932.35 L85.37,932.12 L87.25,931.85 L89.13,931.55 L91.02,931.19 L92.90,930.77 L94.78,930.27 L96.67,929.67 L98.55,928.94 L100.43,928.05 L102.32,926.96 L104.20,925.61 L106.08,923.95 L107.97,921.92 L109.85,919.44 L111.73,916.43 L113.62,912.78 L115.50,908.42 L117.38,903.23 L119.27,897.12 L121.15,889.99 L123.03,881.74 L124.92,872.30 L126.80,861.60 L128.68,849.62 L130.57,836.31 L132.45,821.70 L134.33,805.80 L136.22,788.65 L138.10,770.33 L139.98,750.88 L141.87,730.40 L143.75,708.99 L145.63,686.84 L147.52,664.28 L149.40,641.98 L151.28,621.15 L153.17,603.64 L155.05,591.74 L156.93,587.50 L158.82,591.27 L160.70,602.01 L162.58,618.28 L164.47,638.15 L166.35,659.77 L168.23,681.65 L170.12,702.75 L172.00,722.49 L173.88,740.60 L175.77,757.01 L177.65,771.81 L179.53,785.13 L181.42,797.12 L183.30,807.95 L185.18,817.75 L187.07,826.67 L188.95,834.81 L190.83,842.27 L192.72,849.13 L194.60,855.46 L196.48,861.31 L198.37,866.74 L200.25,871.77 L202.13,876.45 L204.02,880.80 L205.90,884.85 L207.78,888.61 L209.67,892.11 L211.55,895.36 L213.43,898.38 L215.32,901.18 L217.20,903.77 L219.08,906.17 L220.97,908.39 L222.85,910.43 L224.73,912.31 L226.62,914.04 L228.50,915.63 L230.38,917.09 L232.27,918.43 L234.15,919.66 L236.03,920.78 L237.92,921.80 L239.80,922.73 L241.68,923.59 L243.57,924.37 L245.45,925.08 L247.33,925.72 L249.22,926.31 L251.10,926.85 L252.98,927.35 L254.87,927.80 L256.75,928.21 L258.63,928.59 L260.52,928.94 L262.40,929.26 L264.28,929.56 L266.17,929.83 L268.05,930.09 L269.93,930.32 L271.82,930.54 L273.70,930.75 L275.58,930.94 L277.47,931.12 L279.35,931.29 L281.23,931.44 L283.12,931.59 L285.00,931.74 L286.88,931.87 L288.77,932.00 L290.65,932.12 L292.53,932.24 L294.42,932.35 L296.30,932.45 L298.18,932.55 L300.07,932.65 L301.95,932.74 L303.83,932.83 L305.72,932.92 L307.60,933.00 L309.48,933.08 L311.37,933.16 L313.25,933.23 L315.13,933.30 L317.02,933.37 L318.90,933.44 L320.78,933.50 L322.67,933.56 L324.55,933.62 L326.43,933.68 L328.32,933.73 L330.20,933.79 L332.08,933.84 L333.97,933.89 L335.85,933.94 L337.73,933.99 L339.62,934.03 L341.50,934.08 L343.38,934.12 L345.27,934.16 L347.15,934.20 L349.03,934.24 L350.92,934.28 L352.80,934.32 L354.68,934.36 L356.57,934.39 L358.45,934.43 L360.33,934.46 L362.22,934.49 L364.10,934.52 L365.98,934.55 L367.87,934.58 L369.75,934.61 L371.63,934.64 L373.52,934.67 L375.40,934.70 L377.28,934.72 L379.17,934.75 L381.05,934.77 L382.93,934.80 L384.82,934.82 L386.70,934.84 L388.58,934.87 L390.47,934.89 L392.35,934.91 L394.23,934.93 L396.12,934.95 L398.00,934.97 L399.88,934.99 L401.77,935.00 L403.65,935.02 L405.53,935.03 L407.42,935.05 L409.30,935.06 L411.18,935.07 L413.07,935.07 L414.95,935.08 L416.83,935.08 L418.72,935.08 L420.60,935.07 L422.48,935.06 L424.37,935.05 L426.25,935.03 L428.13,935.00 L430.02,934.96 L431.90,934.92 L433.78,934.87 L435.67,934.80 L437.55,934.73 L439.43,934.64 L441.32,934.54 L443.20,934.43 L445.08,934.31 L446.97,934.17 L448.85,934.02 L450.73,933.86 L452.62,933.68 L454.50,933.49 L456.38,933.29 L458.27,933.09 L460.15,932.87 L462.03,932.65 L463.92,932.43 L465.80,932.21 L467.68,931.98 L469.57,931.77 L471.45,931.56 L473.33,931.37 L475.22,931.19 L477.10,931.03 L478.98,930.89 L480.87,930.77 L482.75,930.68 L484.63,930.62 L486.52,930.58 L488.40,930.57 L490.28,930.60 L492.17,930.65 L494.05,930.73 L495.93,930.83 L497.82,930.97 L499.70,931.12 L501.58,931.30 L503.47,931.49 L505.35,931.70 L507.23,931.92 L509.12,932.15 L511.00,932.39 L512.88,932.63 L514.77,932.87 L516.65,933.11 L518.53,933.34 L520.42,933.56 L522.30,933.78 L524.18,933.98 L526.07,934.17 L527.95,934.35 L529.83,934.52 L531.72,934.67 L533.60,934.82 L535.48,934.94 L537.37,935.06 L539.25,935.16 L541.13,935.25 L543.02,935.34 L544.90,935.41 L546.78,935.47 L548.67,935.52 L550.55,935.57 L552.43,935.61 L554.32,935.65 L556.20,935.67 L558.08,935.70 L559.97,935.72 L561.85,935.74 L563.73,935.76 L565.62,935.77 L567.50,935.78 L569.38,935.79 L571.27,935.80 L573.15,935.81 L575.03,935.81 L576.92,935.82 L578.80,935.83 L580.68,935.83 L582.57,935.84 L584.45,935.84 L586.33,935.84 L588.22,935.85 L590.10,935.85 L591.98,935.86 L593.87,935.86 L595.75,935.86 L597.63,935.87 L599.52,935.87 L601.40,935.87 L603.28,935.88 L605.17,935.88 L607.05,935.88 L608.93,935.89 L610.82,935.89 L612.70,935.89 L614.58,935.89 L616.47,935.90 L618.35,935.90 L620.23,935.90 L622.12,935.91 L624.00,935.91" fill="none" stroke="#0a0aa8" stroke-width="3.5" stroke-linejoin="round"/>
<rect x="303.3" y="632.2" width="283.7" height="211.39999999999998" fill="#fff" stroke="#4a78b0" stroke-width="1.6"/>
<line x1="303.30" y1="843.6" x2="303.30" y2="847.6" stroke="#8a8a8a" stroke-width="1.6"/>
<line x1="397.87" y1="843.6" x2="397.87" y2="847.6" stroke="#8a8a8a" stroke-width="1.6"/>
<line x1="492.43" y1="843.6" x2="492.43" y2="847.6" stroke="#8a8a8a" stroke-width="1.6"/>
<line x1="587.00" y1="843.6" x2="587.00" y2="847.6" stroke="#8a8a8a" stroke-width="1.6"/>
<path d="M303.30,839.28 L304.25,839.28 L305.19,839.28 L306.14,839.28 L307.08,839.28 L308.03,839.28 L308.97,839.28 L309.92,839.28 L310.87,839.28 L311.81,839.28 L312.76,839.27 L313.70,839.27 L314.65,839.27 L315.59,839.27 L316.54,839.27 L317.49,839.27 L318.43,839.27 L319.38,839.26 L320.32,839.26 L321.27,839.26 L322.21,839.25 L323.16,839.25 L324.10,839.24 L325.05,839.24 L326.00,839.23 L326.94,839.22 L327.89,839.21 L328.83,839.19 L329.78,839.17 L330.72,839.15 L331.67,839.12 L332.62,839.08 L333.56,839.04 L334.51,838.99 L335.45,838.93 L336.40,838.85 L337.34,838.77 L338.29,838.68 L339.24,838.57 L340.18,838.45 L341.13,838.32 L342.07,838.18 L343.02,838.02 L343.96,837.86 L344.91,837.68 L345.86,837.49 L346.80,837.30 L347.75,837.09 L348.69,836.89 L349.64,836.69 L350.58,836.51 L351.53,836.38 L352.47,836.31 L353.42,836.31 L354.37,836.39 L355.31,836.52 L356.26,836.70 L357.20,836.89 L358.15,837.09 L359.09,837.28 L360.04,837.46 L360.99,837.62 L361.93,837.77 L362.88,837.90 L363.82,838.02 L364.77,838.13 L365.71,838.22 L366.66,838.31 L367.61,838.39 L368.55,838.46 L369.50,838.52 L370.44,838.58 L371.39,838.64 L372.33,838.69 L373.28,838.73 L374.23,838.78 L375.17,838.82 L376.12,838.85 L377.06,838.89 L378.01,838.92 L378.95,838.95 L379.90,838.98 L380.84,839.00 L381.79,839.03 L382.74,839.05 L383.68,839.07 L384.63,839.08 L385.57,839.10 L386.52,839.12 L387.46,839.13 L388.41,839.14 L389.36,839.15 L390.30,839.16 L391.25,839.17 L392.19,839.18 L393.14,839.19 L394.08,839.20 L395.03,839.20 L395.98,839.21 L396.92,839.21 L397.87,839.22 L398.81,839.22 L399.76,839.23 L400.70,839.23 L401.65,839.24 L402.60,839.24 L403.54,839.24 L404.49,839.24 L405.43,839.25 L406.38,839.25 L407.32,839.25 L408.27,839.25 L409.21,839.25 L410.16,839.26 L411.11,839.26 L412.05,839.26 L413.00,839.26 L413.94,839.26 L414.89,839.26 L415.83,839.26 L416.78,839.26 L417.73,839.27 L418.67,839.27 L419.62,839.27 L420.56,839.27 L421.51,839.27 L422.45,839.27 L423.40,839.27 L424.35,839.27 L425.29,839.27 L426.24,839.27 L427.18,839.27 L428.13,839.27 L429.07,839.28 L430.02,839.28 L430.97,839.28 L431.91,839.28 L432.86,839.28 L433.80,839.28 L434.75,839.28 L435.69,839.28 L436.64,839.28 L437.58,839.28 L438.53,839.28 L439.48,839.28 L440.42,839.28 L441.37,839.28 L442.31,839.28 L443.26,839.28 L444.20,839.28 L445.15,839.28 L446.10,839.28 L447.04,839.28 L447.99,839.28 L448.93,839.28 L449.88,839.28 L450.82,839.28 L451.77,839.29 L452.72,839.29 L453.66,839.29 L454.61,839.29 L455.55,839.29 L456.50,839.29 L457.44,839.29 L458.39,839.29 L459.34,839.29 L460.28,839.29 L461.23,839.29 L462.17,839.29 L463.12,839.29 L464.06,839.29 L465.01,839.29 L465.95,839.29 L466.90,839.29 L467.85,839.29 L468.79,839.29 L469.74,839.29 L470.68,839.29 L471.63,839.29 L472.57,839.29 L473.52,839.29 L474.47,839.29 L475.41,839.29 L476.36,839.29 L477.30,839.29 L478.25,839.29 L479.19,839.29 L480.14,839.28 L481.09,839.28 L482.03,839.28 L482.98,839.28 L483.92,839.27 L484.87,839.27 L485.81,839.27 L486.76,839.26 L487.71,839.25 L488.65,839.24 L489.60,839.23 L490.54,839.22 L491.49,839.21 L492.43,839.19 L493.38,839.18 L494.32,839.16 L495.27,839.14 L496.22,839.11 L497.16,839.08 L498.11,839.05 L499.05,839.02 L500.00,838.99 L500.94,838.95 L501.89,838.91 L502.84,838.87 L503.78,838.82 L504.73,838.78 L505.67,838.73 L506.62,838.69 L507.56,838.64 L508.51,838.59 L509.46,838.55 L510.40,838.51 L511.35,838.47 L512.29,838.43 L513.24,838.40 L514.18,838.37 L515.13,838.34 L516.08,838.32 L517.02,838.31 L517.97,838.30 L518.91,838.29 L519.86,838.30 L520.80,838.31 L521.75,838.32 L522.69,838.34 L523.64,838.37 L524.59,838.40 L525.53,838.43 L526.48,838.47 L527.42,838.51 L528.37,838.55 L529.31,838.60 L530.26,838.64 L531.21,838.69 L532.15,838.74 L533.10,838.78 L534.04,838.83 L534.99,838.87 L535.93,838.91 L536.88,838.95 L537.83,838.99 L538.77,839.02 L539.72,839.06 L540.66,839.09 L541.61,839.11 L542.55,839.14 L543.50,839.16 L544.45,839.18 L545.39,839.20 L546.34,839.21 L547.28,839.23 L548.23,839.24 L549.17,839.25 L550.12,839.26 L551.06,839.26 L552.01,839.27 L552.96,839.27 L553.90,839.28 L554.85,839.28 L555.79,839.29 L556.74,839.29 L557.68,839.29 L558.63,839.29 L559.58,839.29 L560.52,839.29 L561.47,839.29 L562.41,839.29 L563.36,839.30 L564.30,839.30 L565.25,839.30 L566.20,839.30 L567.14,839.30 L568.09,839.30 L569.03,839.30 L569.98,839.30 L570.92,839.30 L571.87,839.30 L572.82,839.30 L573.76,839.30 L574.71,839.30 L575.65,839.30 L576.60,839.30 L577.54,839.30 L578.49,839.30 L579.43,839.30 L580.38,839.30 L581.33,839.30 L582.27,839.30 L583.22,839.30 L584.16,839.30 L585.11,839.30 L586.05,839.30 L587.00,839.30" fill="none" stroke="#70e4f0" stroke-width="3.3" stroke-linejoin="round"/>
<path d="M303.30,839.13 L304.25,839.13 L305.19,839.12 L306.14,839.11 L307.08,839.10 L308.03,839.10 L308.97,839.09 L309.92,839.08 L310.87,839.07 L311.81,839.06 L312.76,839.05 L313.70,839.03 L314.65,839.02 L315.59,839.01 L316.54,838.99 L317.49,838.97 L318.43,838.95 L319.38,838.93 L320.32,838.90 L321.27,838.87 L322.21,838.83 L323.16,838.79 L324.10,838.73 L325.05,838.67 L326.00,838.59 L326.94,838.48 L327.89,838.36 L328.83,838.20 L329.78,838.00 L330.72,837.76 L331.67,837.47 L332.62,837.11 L333.56,836.68 L334.51,836.17 L335.45,835.56 L336.40,834.85 L337.34,834.02 L338.29,833.08 L339.24,832.02 L340.18,830.83 L341.13,829.52 L342.07,828.08 L343.02,826.52 L343.96,824.86 L344.91,823.08 L345.86,821.21 L346.80,819.25 L347.75,817.23 L348.69,815.19 L349.64,813.21 L350.58,811.43 L351.53,810.08 L352.47,809.37 L353.42,809.43 L354.37,810.20 L355.31,811.54 L356.26,813.28 L357.20,815.22 L358.15,817.20 L359.09,819.12 L360.04,820.91 L360.99,822.55 L361.93,824.02 L362.88,825.34 L363.82,826.53 L364.77,827.59 L365.71,828.54 L366.66,829.40 L367.61,830.18 L368.55,830.88 L369.50,831.53 L370.44,832.13 L371.39,832.67 L372.33,833.18 L373.28,833.64 L374.23,834.07 L375.17,834.47 L376.12,834.84 L377.06,835.19 L378.01,835.50 L378.95,835.80 L379.90,836.07 L380.84,836.32 L381.79,836.55 L382.74,836.76 L383.68,836.96 L384.63,837.14 L385.57,837.30 L386.52,837.46 L387.46,837.59 L388.41,837.72 L389.36,837.83 L390.30,837.94 L391.25,838.03 L392.19,838.12 L393.14,838.20 L394.08,838.27 L395.03,838.34 L395.98,838.39 L396.92,838.45 L397.87,838.50 L398.81,838.54 L399.76,838.58 L400.70,838.62 L401.65,838.65 L402.60,838.68 L403.54,838.71 L404.49,838.74 L405.43,838.76 L406.38,838.78 L407.32,838.80 L408.27,838.82 L409.21,838.84 L410.16,838.86 L411.11,838.87 L412.05,838.89 L413.00,838.90 L413.94,838.91 L414.89,838.92 L415.83,838.94 L416.78,838.95 L417.73,838.96 L418.67,838.97 L419.62,838.98 L420.56,838.99 L421.51,838.99 L422.45,839.00 L423.40,839.01 L424.35,839.02 L425.29,839.02 L426.24,839.03 L427.18,839.04 L428.13,839.05 L429.07,839.05 L430.02,839.06 L430.97,839.06 L431.91,839.07 L432.86,839.07 L433.80,839.08 L434.75,839.08 L435.69,839.09 L436.64,839.09 L437.58,839.10 L438.53,839.10 L439.48,839.11 L440.42,839.11 L441.37,839.12 L442.31,839.12 L443.26,839.12 L444.20,839.13 L445.15,839.13 L446.10,839.13 L447.04,839.14 L447.99,839.14 L448.93,839.14 L449.88,839.15 L450.82,839.15 L451.77,839.15 L452.72,839.15 L453.66,839.16 L454.61,839.16 L455.55,839.16 L456.50,839.16 L457.44,839.17 L458.39,839.17 L459.34,839.17 L460.28,839.17 L461.23,839.18 L462.17,839.18 L463.12,839.18 L464.06,839.18 L465.01,839.18 L465.95,839.19 L466.90,839.19 L467.85,839.19 L468.79,839.19 L469.74,839.19 L470.68,839.19 L471.63,839.19 L472.57,839.19 L473.52,839.19 L474.47,839.19 L475.41,839.19 L476.36,839.19 L477.30,839.19 L478.25,839.18 L479.19,839.17 L480.14,839.17 L481.09,839.16 L482.03,839.14 L482.98,839.12 L483.92,839.10 L484.87,839.08 L485.81,839.05 L486.76,839.01 L487.71,838.96 L488.65,838.91 L489.60,838.85 L490.54,838.78 L491.49,838.69 L492.43,838.60 L493.38,838.49 L494.32,838.36 L495.27,838.22 L496.22,838.06 L497.16,837.89 L498.11,837.70 L499.05,837.50 L500.00,837.27 L500.94,837.03 L501.89,836.78 L502.84,836.51 L503.78,836.24 L504.73,835.95 L505.67,835.65 L506.62,835.36 L507.56,835.06 L508.51,834.77 L509.46,834.48 L510.40,834.21 L511.35,833.95 L512.29,833.71 L513.24,833.49 L514.18,833.30 L515.13,833.14 L516.08,833.01 L517.02,832.92 L517.97,832.87 L518.91,832.85 L519.86,832.87 L520.80,832.92 L521.75,833.02 L522.69,833.15 L523.64,833.31 L524.59,833.50 L525.53,833.71 L526.48,833.96 L527.42,834.22 L528.37,834.49 L529.31,834.78 L530.26,835.07 L531.21,835.37 L532.15,835.67 L533.10,835.97 L534.04,836.25 L534.99,836.53 L535.93,836.80 L536.88,837.06 L537.83,837.30 L538.77,837.52 L539.72,837.73 L540.66,837.92 L541.61,838.09 L542.55,838.25 L543.50,838.39 L544.45,838.52 L545.39,838.63 L546.34,838.73 L547.28,838.82 L548.23,838.89 L549.17,838.95 L550.12,839.01 L551.06,839.05 L552.01,839.09 L552.96,839.13 L553.90,839.15 L554.85,839.17 L555.79,839.19 L556.74,839.21 L557.68,839.22 L558.63,839.23 L559.58,839.24 L560.52,839.25 L561.47,839.25 L562.41,839.25 L563.36,839.26 L564.30,839.26 L565.25,839.26 L566.20,839.26 L567.14,839.27 L568.09,839.27 L569.03,839.27 L569.98,839.27 L570.92,839.27 L571.87,839.27 L572.82,839.27 L573.76,839.27 L574.71,839.27 L575.65,839.27 L576.60,839.27 L577.54,839.27 L578.49,839.27 L579.43,839.27 L580.38,839.27 L581.33,839.27 L582.27,839.27 L583.22,839.27 L584.16,839.27 L585.11,839.27 L586.05,839.27 L587.00,839.27" fill="none" stroke="#60b8ea" stroke-width="3.3" stroke-linejoin="round"/>
<path d="M303.30,838.33 L304.25,838.29 L305.19,838.25 L306.14,838.21 L307.08,838.16 L308.03,838.12 L308.97,838.07 L309.92,838.01 L310.87,837.95 L311.81,837.89 L312.76,837.82 L313.70,837.75 L314.65,837.67 L315.59,837.59 L316.54,837.49 L317.49,837.39 L318.43,837.27 L319.38,837.14 L320.32,836.98 L321.27,836.80 L322.21,836.59 L323.16,836.33 L324.10,836.01 L325.05,835.63 L326.00,835.15 L326.94,834.55 L327.89,833.82 L328.83,832.90 L329.78,831.77 L330.72,830.37 L331.67,828.66 L332.62,826.58 L333.56,824.07 L334.51,821.08 L335.45,817.54 L336.40,813.40 L337.34,808.62 L338.29,803.15 L339.24,796.97 L340.18,790.06 L341.13,782.42 L342.07,774.06 L343.02,765.02 L343.96,755.33 L344.91,745.02 L345.86,734.14 L346.80,722.77 L347.75,711.02 L348.69,699.15 L349.64,687.62 L350.58,677.31 L351.53,669.42 L352.47,665.28 L353.42,665.66 L354.37,670.12 L355.31,677.94 L356.26,688.03 L357.20,699.31 L358.15,710.84 L359.09,721.99 L360.04,732.41 L360.99,741.91 L361.93,750.49 L362.88,758.17 L363.82,765.04 L364.77,771.20 L365.71,776.74 L366.66,781.73 L367.61,786.26 L368.55,790.38 L369.50,794.14 L370.44,797.60 L371.39,800.77 L372.33,803.70 L373.28,806.41 L374.23,808.92 L375.17,811.24 L376.12,813.39 L377.06,815.38 L378.01,817.23 L378.95,818.94 L379.90,820.52 L380.84,821.97 L381.79,823.32 L382.74,824.56 L383.68,825.70 L384.63,826.74 L385.57,827.70 L386.52,828.58 L387.46,829.38 L388.41,830.12 L389.36,830.78 L390.30,831.39 L391.25,831.94 L392.19,832.45 L393.14,832.90 L394.08,833.32 L395.03,833.69 L395.98,834.04 L396.92,834.35 L397.87,834.63 L398.81,834.89 L399.76,835.12 L400.70,835.33 L401.65,835.53 L402.60,835.71 L403.54,835.87 L404.49,836.02 L405.43,836.16 L406.38,836.29 L407.32,836.41 L408.27,836.52 L409.21,836.62 L410.16,836.71 L411.11,836.80 L412.05,836.89 L413.00,836.97 L413.94,837.04 L414.89,837.11 L415.83,837.18 L416.78,837.24 L417.73,837.31 L418.67,837.36 L419.62,837.42 L420.56,837.47 L421.51,837.52 L422.45,837.57 L423.40,837.61 L424.35,837.66 L425.29,837.70 L426.24,837.74 L427.18,837.78 L428.13,837.82 L429.07,837.85 L430.02,837.89 L430.97,837.92 L431.91,837.96 L432.86,837.99 L433.80,838.02 L434.75,838.05 L435.69,838.07 L436.64,838.10 L437.58,838.13 L438.53,838.15 L439.48,838.18 L440.42,838.20 L441.37,838.23 L442.31,838.25 L443.26,838.27 L444.20,838.29 L445.15,838.31 L446.10,838.33 L447.04,838.35 L447.99,838.37 L448.93,838.39 L449.88,838.40 L450.82,838.42 L451.77,838.44 L452.72,838.45 L453.66,838.47 L454.61,838.49 L455.55,838.50 L456.50,838.51 L457.44,838.53 L458.39,838.54 L459.34,838.56 L460.28,838.57 L461.23,838.58 L462.17,838.59 L463.12,838.61 L464.06,838.62 L465.01,838.63 L465.95,838.64 L466.90,838.65 L467.85,838.66 L468.79,838.67 L469.74,838.67 L470.68,838.68 L471.63,838.69 L472.57,838.69 L473.52,838.70 L474.47,838.70 L475.41,838.70 L476.36,838.70 L477.30,838.69 L478.25,838.68 L479.19,838.66 L480.14,838.64 L481.09,838.61 L482.03,838.57 L482.98,838.52 L483.92,838.46 L484.87,838.38 L485.81,838.28 L486.76,838.17 L487.71,838.03 L488.65,837.87 L489.60,837.67 L490.54,837.44 L491.49,837.18 L492.43,836.88 L493.38,836.53 L494.32,836.14 L495.27,835.70 L496.22,835.21 L497.16,834.67 L498.11,834.07 L499.05,833.43 L500.00,832.72 L500.94,831.97 L501.89,831.17 L502.84,830.33 L503.78,829.46 L504.73,828.55 L505.67,827.63 L506.62,826.69 L507.56,825.75 L508.51,824.83 L509.46,823.93 L510.40,823.06 L511.35,822.25 L512.29,821.49 L513.24,820.81 L514.18,820.21 L515.13,819.71 L516.08,819.31 L517.02,819.02 L517.97,818.85 L518.91,818.79 L519.86,818.86 L520.80,819.04 L521.75,819.33 L522.69,819.74 L523.64,820.25 L524.59,820.85 L525.53,821.54 L526.48,822.30 L527.42,823.13 L528.37,824.00 L529.31,824.91 L530.26,825.84 L531.21,826.78 L532.15,827.73 L533.10,828.66 L534.04,829.57 L534.99,830.45 L535.93,831.30 L536.88,832.11 L537.83,832.87 L538.77,833.58 L539.72,834.23 L540.66,834.84 L541.61,835.39 L542.55,835.89 L543.50,836.33 L544.45,836.73 L545.39,837.09 L546.34,837.40 L547.28,837.67 L548.23,837.90 L549.17,838.10 L550.12,838.28 L551.06,838.42 L552.01,838.55 L552.96,838.65 L553.90,838.74 L554.85,838.81 L555.79,838.87 L556.74,838.92 L557.68,838.96 L558.63,838.99 L559.58,839.02 L560.52,839.04 L561.47,839.05 L562.41,839.07 L563.36,839.08 L564.30,839.09 L565.25,839.10 L566.20,839.10 L567.14,839.11 L568.09,839.11 L569.03,839.11 L569.98,839.12 L570.92,839.12 L571.87,839.12 L572.82,839.12 L573.76,839.13 L574.71,839.13 L575.65,839.13 L576.60,839.13 L577.54,839.13 L578.49,839.13 L579.43,839.13 L580.38,839.14 L581.33,839.14 L582.27,839.14 L583.22,839.14 L584.16,839.14 L585.11,839.14 L586.05,839.14 L587.00,839.15" fill="none" stroke="#3a8ae0" stroke-width="3.3" stroke-linejoin="round"/>
<rect x="303.3" y="632.2" width="283.7" height="211.39999999999998" fill="none" stroke="#c01818" stroke-width="2" stroke-dasharray="7,5"/>
<text x="303.30" y="871.50" font-size="21" fill="#000" text-anchor="middle">400</text>
<text x="397.87" y="871.50" font-size="21" fill="#000" text-anchor="middle">500</text>
<text x="492.43" y="871.50" font-size="21" fill="#000" text-anchor="middle">600</text>
<text x="587.00" y="871.50" font-size="21" fill="#000" text-anchor="middle">700</text>
<line x1="452" y1="918" x2="452" y2="887.5" stroke="#c00000" stroke-width="2"/>
<path d="M452,872.5 L444,887.5 L460,887.5 Z" fill="#c00000"/>
<text x="207.50" y="613.00" font-size="24.5" fill="#0a0aa8" font-weight="bold" text-anchor="start" textLength="50" lengthAdjust="spacingAndGlyphs">6.0V</text>
<text x="207.50" y="643.00" font-size="24.5" fill="#1414c0" font-weight="bold" text-anchor="start" textLength="50" lengthAdjust="spacingAndGlyphs">5.0V</text>
<text x="207.50" y="673.00" font-size="24.5" fill="#1a6ad8" font-weight="bold" text-anchor="start" textLength="50" lengthAdjust="spacingAndGlyphs">4.0V</text>
<text x="207.50" y="703.00" font-size="24.5" fill="#3a8ae0" font-weight="bold" text-anchor="start" textLength="50" lengthAdjust="spacingAndGlyphs">3.3V</text>
<text x="207.50" y="733.00" font-size="24.5" fill="#5ab0e8" font-weight="bold" text-anchor="start" textLength="50" lengthAdjust="spacingAndGlyphs">3.1V</text>
<text x="207.50" y="763.00" font-size="24.5" fill="#60e0f0" font-weight="bold" text-anchor="start" textLength="50" lengthAdjust="spacingAndGlyphs">2.9V</text>
<text x="509.40" y="673.50" font-size="23.5" fill="#3a8ae0" text-anchor="start" textLength="50" lengthAdjust="spacingAndGlyphs" stroke="#3a8ae0" stroke-width="0.9">3.3V</text>
<text x="509.40" y="703.30" font-size="23.5" fill="#5ab0e8" text-anchor="start" textLength="50" lengthAdjust="spacingAndGlyphs" stroke="#5ab0e8" stroke-width="0.9">3.1V</text>
<text x="509.40" y="733.10" font-size="23.5" fill="#60e0f0" text-anchor="start" textLength="50" lengthAdjust="spacingAndGlyphs" stroke="#60e0f0" stroke-width="0.9">2.9V</text>
<text x="59.00" y="974.50" font-size="23.5" fill="#000" text-anchor="middle" textLength="40" lengthAdjust="spacingAndGlyphs">400</text>
<text x="247.33" y="974.50" font-size="23.5" fill="#000" text-anchor="middle" textLength="40" lengthAdjust="spacingAndGlyphs">500</text>
<text x="435.67" y="974.50" font-size="23.5" fill="#000" text-anchor="middle" textLength="40" lengthAdjust="spacingAndGlyphs">600</text>
<text x="624.00" y="974.50" font-size="23.5" fill="#000" text-anchor="middle" textLength="40" lengthAdjust="spacingAndGlyphs">700</text>
<text x="237.50" y="1019.00" font-size="29" fill="#000" text-anchor="start" textLength="218.5" lengthAdjust="spacingAndGlyphs">Wavelength (nm)</text>
<text transform="translate(23.3,817.3) rotate(-90)" font-size="28.5" fill="#000" textLength="181" lengthAdjust="spacingAndGlyphs">Intensity (a.u.)</text>
<text x="7.90" y="546.00" font-size="46.5" fill="#000" font-weight="bold" text-anchor="start">b</text>
<line x1="84.95" y1="1074" x2="84.95" y2="1084" stroke="#000" stroke-width="2"/>
<line x1="238.75" y1="1048.5" x2="238.75" y2="1058.5" stroke="#000" stroke-width="2"/>
<line x1="472.50" y1="1048.5" x2="472.50" y2="1058.5" stroke="#000" stroke-width="2"/>
<text x="67.50" y="1062.50" font-size="22" fill="#808080" text-anchor="start" textLength="33.5" lengthAdjust="spacingAndGlyphs">3.0</text>
<text x="224.00" y="1062.50" font-size="22" fill="#808080" text-anchor="start" textLength="33" lengthAdjust="spacingAndGlyphs">2.5</text>
<text x="455.50" y="1062.50" font-size="22" fill="#808080" text-anchor="start" textLength="33.5" lengthAdjust="spacingAndGlyphs">2.0</text>
<text x="500.00" y="1062.50" font-size="22" fill="#808080" text-anchor="start" textLength="45" lengthAdjust="spacingAndGlyphs">(eV)</text>
<line x1="247.67" y1="1451.75" x2="247.67" y2="1458.75" stroke="#8a8a8a" stroke-width="2"/>
<line x1="436.33" y1="1451.75" x2="436.33" y2="1458.75" stroke="#8a8a8a" stroke-width="2"/>
<line x1="625.00" y1="1451.75" x2="625.00" y2="1458.75" stroke="#8a8a8a" stroke-width="2"/>
<path d="M59,1451.75 L59,1074 L625,1074 L625,1451.75" fill="none" stroke="#000" stroke-width="2.2"/>
<line x1="59" y1="1450.75" x2="625" y2="1450.75" stroke="#000" stroke-width="2"/>
<rect x="59" y="1435.75" width="564" height="25.5" fill="none" stroke="#c01818" stroke-width="2" stroke-dasharray="7,5"/>
<path d="M59.00,1450.75 L60.89,1450.75 L62.77,1450.75 L64.66,1450.75 L66.55,1450.75 L68.43,1450.75 L70.32,1450.75 L72.21,1450.75 L74.09,1450.75 L75.98,1450.75 L77.87,1450.75 L79.75,1450.75 L81.64,1450.75 L83.53,1450.75 L85.41,1450.75 L87.30,1450.75 L89.19,1450.75 L91.07,1450.75 L92.96,1450.75 L94.85,1450.75 L96.73,1450.74 L98.62,1450.74 L100.51,1450.74 L102.39,1450.74 L104.28,1450.74 L106.17,1450.74 L108.05,1450.74 L109.94,1450.74 L111.83,1450.73 L113.71,1450.73 L115.60,1450.73 L117.49,1450.72 L119.37,1450.72 L121.26,1450.71 L123.15,1450.71 L125.03,1450.70 L126.92,1450.69 L128.81,1450.68 L130.69,1450.67 L132.58,1450.66 L134.47,1450.64 L136.35,1450.63 L138.24,1450.62 L140.13,1450.60 L142.01,1450.58 L143.90,1450.56 L145.79,1450.55 L147.67,1450.53 L149.56,1450.51 L151.45,1450.49 L153.33,1450.47 L155.22,1450.46 L157.11,1450.45 L158.99,1450.45 L160.88,1450.46 L162.77,1450.47 L164.65,1450.48 L166.54,1450.50 L168.43,1450.52 L170.31,1450.54 L172.20,1450.56 L174.09,1450.57 L175.97,1450.59 L177.86,1450.60 L179.75,1450.61 L181.63,1450.63 L183.52,1450.64 L185.41,1450.64 L187.29,1450.65 L189.18,1450.66 L191.07,1450.67 L192.95,1450.67 L194.84,1450.68 L196.73,1450.68 L198.61,1450.69 L200.50,1450.69 L202.39,1450.70 L204.27,1450.70 L206.16,1450.70 L208.05,1450.71 L209.93,1450.71 L211.82,1450.71 L213.71,1450.72 L215.59,1450.72 L217.48,1450.72 L219.37,1450.72 L221.25,1450.73 L223.14,1450.73 L225.03,1450.73 L226.91,1450.73 L228.80,1450.73 L230.69,1450.73 L232.57,1450.73 L234.46,1450.74 L236.35,1450.74 L238.23,1450.74 L240.12,1450.74 L242.01,1450.74 L243.89,1450.74 L245.78,1450.74 L247.67,1450.74 L249.55,1450.74 L251.44,1450.74 L253.33,1450.74 L255.21,1450.74 L257.10,1450.74 L258.99,1450.74 L260.87,1450.74 L262.76,1450.74 L264.65,1450.74 L266.53,1450.74 L268.42,1450.74 L270.31,1450.74 L272.19,1450.74 L274.08,1450.75 L275.97,1450.75 L277.85,1450.75 L279.74,1450.75 L281.63,1450.75 L283.51,1450.75 L285.40,1450.75 L287.29,1450.75 L289.17,1450.75 L291.06,1450.75 L292.95,1450.75 L294.83,1450.75 L296.72,1450.75 L298.61,1450.75 L300.49,1450.75 L302.38,1450.75 L304.27,1450.75 L306.15,1450.75 L308.04,1450.75 L309.93,1450.75 L311.81,1450.75 L313.70,1450.75 L315.59,1450.75 L317.47,1450.75 L319.36,1450.75 L321.25,1450.75 L323.13,1450.75 L325.02,1450.75 L326.91,1450.75 L328.79,1450.75 L330.68,1450.75 L332.57,1450.75 L334.45,1450.75 L336.34,1450.75 L338.23,1450.75 L340.11,1450.75 L342.00,1450.75 L343.89,1450.75 L345.77,1450.75 L347.66,1450.75 L349.55,1450.75 L351.43,1450.75 L353.32,1450.75 L355.21,1450.75 L357.09,1450.75 L358.98,1450.75 L360.87,1450.75 L362.75,1450.75 L364.64,1450.75 L366.53,1450.75 L368.41,1450.75 L370.30,1450.75 L372.19,1450.75 L374.07,1450.75 L375.96,1450.75 L377.85,1450.75 L379.73,1450.75 L381.62,1450.75 L383.51,1450.75 L385.39,1450.75 L387.28,1450.75 L389.17,1450.75 L391.05,1450.75 L392.94,1450.75 L394.83,1450.75 L396.71,1450.75 L398.60,1450.75 L400.49,1450.75 L402.37,1450.75 L404.26,1450.75 L406.15,1450.75 L408.03,1450.75 L409.92,1450.75 L411.81,1450.75 L413.69,1450.75 L415.58,1450.75 L417.47,1450.75 L419.35,1450.75 L421.24,1450.75 L423.13,1450.75 L425.01,1450.75 L426.90,1450.75 L428.79,1450.74 L430.67,1450.74 L432.56,1450.74 L434.45,1450.74 L436.33,1450.74 L438.22,1450.74 L440.11,1450.74 L441.99,1450.73 L443.88,1450.73 L445.77,1450.73 L447.65,1450.73 L449.54,1450.72 L451.43,1450.72 L453.31,1450.71 L455.20,1450.71 L457.09,1450.71 L458.97,1450.70 L460.86,1450.70 L462.75,1450.69 L464.63,1450.69 L466.52,1450.68 L468.41,1450.68 L470.29,1450.67 L472.18,1450.67 L474.07,1450.67 L475.95,1450.66 L477.84,1450.66 L479.73,1450.66 L481.61,1450.65 L483.50,1450.65 L485.39,1450.65 L487.27,1450.65 L489.16,1450.65 L491.05,1450.65 L492.93,1450.65 L494.82,1450.65 L496.71,1450.65 L498.59,1450.66 L500.48,1450.66 L502.37,1450.66 L504.25,1450.67 L506.14,1450.67 L508.03,1450.68 L509.91,1450.68 L511.80,1450.68 L513.69,1450.69 L515.57,1450.69 L517.46,1450.70 L519.35,1450.70 L521.23,1450.71 L523.12,1450.71 L525.01,1450.72 L526.89,1450.72 L528.78,1450.72 L530.67,1450.73 L532.55,1450.73 L534.44,1450.73 L536.33,1450.73 L538.21,1450.74 L540.10,1450.74 L541.99,1450.74 L543.87,1450.74 L545.76,1450.74 L547.65,1450.74 L549.53,1450.74 L551.42,1450.75 L553.31,1450.75 L555.19,1450.75 L557.08,1450.75 L558.97,1450.75 L560.85,1450.75 L562.74,1450.75 L564.63,1450.75 L566.51,1450.75 L568.40,1450.75 L570.29,1450.75 L572.17,1450.75 L574.06,1450.75 L575.95,1450.75 L577.83,1450.75 L579.72,1450.75 L581.61,1450.75 L583.49,1450.75 L585.38,1450.75 L587.27,1450.75 L589.15,1450.75 L591.04,1450.75 L592.93,1450.75 L594.81,1450.75 L596.70,1450.75 L598.59,1450.75 L600.47,1450.75 L602.36,1450.75 L604.25,1450.75 L606.13,1450.75 L608.02,1450.75 L609.91,1450.75 L611.79,1450.75 L613.68,1450.75 L615.57,1450.75 L617.45,1450.75 L619.34,1450.75 L621.23,1450.75 L623.11,1450.75 L625.00,1450.75" fill="none" stroke="#c0a0f0" stroke-width="3.5" stroke-linejoin="round"/>
<path d="M59.00,1450.75 L60.89,1450.74 L62.77,1450.74 L64.66,1450.74 L66.55,1450.74 L68.43,1450.74 L70.32,1450.74 L72.21,1450.74 L74.09,1450.74 L75.98,1450.74 L77.87,1450.74 L79.75,1450.74 L81.64,1450.74 L83.53,1450.74 L85.41,1450.74 L87.30,1450.74 L89.19,1450.74 L91.07,1450.74 L92.96,1450.74 L94.85,1450.74 L96.73,1450.74 L98.62,1450.73 L100.51,1450.73 L102.39,1450.73 L104.28,1450.73 L106.17,1450.72 L108.05,1450.72 L109.94,1450.71 L111.83,1450.71 L113.71,1450.70 L115.60,1450.69 L117.49,1450.68 L119.37,1450.67 L121.26,1450.65 L123.15,1450.63 L125.03,1450.61 L126.92,1450.59 L128.81,1450.57 L130.69,1450.54 L132.58,1450.50 L134.47,1450.47 L136.35,1450.43 L138.24,1450.39 L140.13,1450.35 L142.01,1450.30 L143.90,1450.25 L145.79,1450.20 L147.67,1450.15 L149.56,1450.10 L151.45,1450.05 L153.33,1450.01 L155.22,1449.97 L157.11,1449.95 L158.99,1449.95 L160.88,1449.97 L162.77,1450.00 L164.65,1450.04 L166.54,1450.09 L168.43,1450.14 L170.31,1450.19 L172.20,1450.24 L174.09,1450.28 L175.97,1450.32 L177.86,1450.36 L179.75,1450.39 L181.63,1450.42 L183.52,1450.44 L185.41,1450.47 L187.29,1450.49 L189.18,1450.51 L191.07,1450.53 L192.95,1450.54 L194.84,1450.56 L196.73,1450.57 L198.61,1450.58 L200.50,1450.60 L202.39,1450.61 L204.27,1450.62 L206.16,1450.63 L208.05,1450.64 L209.93,1450.64 L211.82,1450.65 L213.71,1450.66 L215.59,1450.67 L217.48,1450.67 L219.37,1450.68 L221.25,1450.68 L223.14,1450.69 L225.03,1450.69 L226.91,1450.70 L228.80,1450.70 L230.69,1450.70 L232.57,1450.71 L234.46,1450.71 L236.35,1450.71 L238.23,1450.72 L240.12,1450.72 L242.01,1450.72 L243.89,1450.72 L245.78,1450.72 L247.67,1450.73 L249.55,1450.73 L251.44,1450.73 L253.33,1450.73 L255.21,1450.73 L257.10,1450.73 L258.99,1450.73 L260.87,1450.73 L262.76,1450.73 L264.65,1450.73 L266.53,1450.73 L268.42,1450.74 L270.31,1450.74 L272.19,1450.74 L274.08,1450.74 L275.97,1450.74 L277.85,1450.74 L279.74,1450.74 L281.63,1450.74 L283.51,1450.74 L285.40,1450.74 L287.29,1450.74 L289.17,1450.74 L291.06,1450.74 L292.95,1450.74 L294.83,1450.74 L296.72,1450.74 L298.61,1450.74 L300.49,1450.74 L302.38,1450.74 L304.27,1450.74 L306.15,1450.74 L308.04,1450.74 L309.93,1450.74 L311.81,1450.74 L313.70,1450.74 L315.59,1450.74 L317.47,1450.74 L319.36,1450.74 L321.25,1450.74 L323.13,1450.74 L325.02,1450.74 L326.91,1450.74 L328.79,1450.74 L330.68,1450.74 L332.57,1450.74 L334.45,1450.74 L336.34,1450.74 L338.23,1450.74 L340.11,1450.74 L342.00,1450.74 L343.89,1450.75 L345.77,1450.75 L347.66,1450.75 L349.55,1450.75 L351.43,1450.75 L353.32,1450.75 L355.21,1450.75 L357.09,1450.75 L358.98,1450.75 L360.87,1450.75 L362.75,1450.75 L364.64,1450.75 L366.53,1450.75 L368.41,1450.75 L370.30,1450.75 L372.19,1450.75 L374.07,1450.75 L375.96,1450.75 L377.85,1450.75 L379.73,1450.75 L381.62,1450.75 L383.51,1450.75 L385.39,1450.75 L387.28,1450.75 L389.17,1450.75 L391.05,1450.75 L392.94,1450.75 L394.83,1450.75 L396.71,1450.75 L398.60,1450.75 L400.49,1450.75 L402.37,1450.75 L404.26,1450.75 L406.15,1450.75 L408.03,1450.75 L409.92,1450.75 L411.81,1450.75 L413.69,1450.75 L415.58,1450.75 L417.47,1450.74 L419.35,1450.74 L421.24,1450.74 L423.13,1450.74 L425.01,1450.74 L426.90,1450.74 L428.79,1450.74 L430.67,1450.74 L432.56,1450.73 L434.45,1450.73 L436.33,1450.73 L438.22,1450.72 L440.11,1450.72 L441.99,1450.72 L443.88,1450.71 L445.77,1450.71 L447.65,1450.70 L449.54,1450.69 L451.43,1450.69 L453.31,1450.68 L455.20,1450.67 L457.09,1450.66 L458.97,1450.65 L460.86,1450.65 L462.75,1450.64 L464.63,1450.63 L466.52,1450.62 L468.41,1450.61 L470.29,1450.60 L472.18,1450.59 L474.07,1450.58 L475.95,1450.58 L477.84,1450.57 L479.73,1450.56 L481.61,1450.56 L483.50,1450.55 L485.39,1450.55 L487.27,1450.55 L489.16,1450.55 L491.05,1450.55 L492.93,1450.55 L494.82,1450.55 L496.71,1450.56 L498.59,1450.56 L500.48,1450.57 L502.37,1450.58 L504.25,1450.58 L506.14,1450.59 L508.03,1450.60 L509.91,1450.61 L511.80,1450.62 L513.69,1450.63 L515.57,1450.64 L517.46,1450.65 L519.35,1450.65 L521.23,1450.66 L523.12,1450.67 L525.01,1450.68 L526.89,1450.69 L528.78,1450.69 L530.67,1450.70 L532.55,1450.71 L534.44,1450.71 L536.33,1450.72 L538.21,1450.72 L540.10,1450.73 L541.99,1450.73 L543.87,1450.73 L545.76,1450.73 L547.65,1450.74 L549.53,1450.74 L551.42,1450.74 L553.31,1450.74 L555.19,1450.74 L557.08,1450.74 L558.97,1450.75 L560.85,1450.75 L562.74,1450.75 L564.63,1450.75 L566.51,1450.75 L568.40,1450.75 L570.29,1450.75 L572.17,1450.75 L574.06,1450.75 L575.95,1450.75 L577.83,1450.75 L579.72,1450.75 L581.61,1450.75 L583.49,1450.75 L585.38,1450.75 L587.27,1450.75 L589.15,1450.75 L591.04,1450.75 L592.93,1450.75 L594.81,1450.75 L596.70,1450.75 L598.59,1450.75 L600.47,1450.75 L602.36,1450.75 L604.25,1450.75 L606.13,1450.75 L608.02,1450.75 L609.91,1450.75 L611.79,1450.75 L613.68,1450.75 L615.57,1450.75 L617.45,1450.75 L619.34,1450.75 L621.23,1450.75 L623.11,1450.75 L625.00,1450.75" fill="none" stroke="#c068e0" stroke-width="3.5" stroke-linejoin="round"/>
<path d="M59.00,1450.74 L60.89,1450.74 L62.77,1450.74 L64.66,1450.74 L66.55,1450.74 L68.43,1450.74 L70.32,1450.74 L72.21,1450.74 L74.09,1450.74 L75.98,1450.74 L77.87,1450.74 L79.75,1450.74 L81.64,1450.73 L83.53,1450.73 L85.41,1450.73 L87.30,1450.73 L89.19,1450.73 L91.07,1450.73 L92.96,1450.73 L94.85,1450.73 L96.73,1450.72 L98.62,1450.72 L100.51,1450.72 L102.39,1450.71 L104.28,1450.71 L106.17,1450.70 L108.05,1450.69 L109.94,1450.68 L111.83,1450.67 L113.71,1450.66 L115.60,1450.64 L117.49,1450.62 L119.37,1450.60 L121.26,1450.57 L123.15,1450.53 L125.03,1450.50 L126.92,1450.45 L128.81,1450.40 L130.69,1450.35 L132.58,1450.29 L134.47,1450.22 L136.35,1450.15 L138.24,1450.08 L140.13,1450.00 L142.01,1449.91 L143.90,1449.82 L145.79,1449.73 L147.67,1449.63 L149.56,1449.53 L151.45,1449.44 L153.33,1449.35 L155.22,1449.29 L157.11,1449.25 L158.99,1449.25 L160.88,1449.29 L162.77,1449.34 L164.65,1449.42 L166.54,1449.51 L168.43,1449.61 L170.31,1449.70 L172.20,1449.79 L174.09,1449.87 L175.97,1449.94 L177.86,1450.01 L179.75,1450.07 L181.63,1450.13 L183.52,1450.18 L185.41,1450.22 L187.29,1450.26 L189.18,1450.30 L191.07,1450.33 L192.95,1450.36 L194.84,1450.39 L196.73,1450.42 L198.61,1450.44 L200.50,1450.46 L202.39,1450.48 L204.27,1450.50 L206.16,1450.52 L208.05,1450.54 L209.93,1450.55 L211.82,1450.57 L213.71,1450.58 L215.59,1450.59 L217.48,1450.60 L219.37,1450.62 L221.25,1450.63 L223.14,1450.63 L225.03,1450.64 L226.91,1450.65 L228.80,1450.66 L230.69,1450.66 L232.57,1450.67 L234.46,1450.68 L236.35,1450.68 L238.23,1450.69 L240.12,1450.69 L242.01,1450.69 L243.89,1450.70 L245.78,1450.70 L247.67,1450.70 L249.55,1450.71 L251.44,1450.71 L253.33,1450.71 L255.21,1450.71 L257.10,1450.71 L258.99,1450.72 L260.87,1450.72 L262.76,1450.72 L264.65,1450.72 L266.53,1450.72 L268.42,1450.72 L270.31,1450.72 L272.19,1450.72 L274.08,1450.73 L275.97,1450.73 L277.85,1450.73 L279.74,1450.73 L281.63,1450.73 L283.51,1450.73 L285.40,1450.73 L287.29,1450.73 L289.17,1450.73 L291.06,1450.73 L292.95,1450.73 L294.83,1450.73 L296.72,1450.73 L298.61,1450.73 L300.49,1450.73 L302.38,1450.73 L304.27,1450.74 L306.15,1450.74 L308.04,1450.74 L309.93,1450.74 L311.81,1450.74 L313.70,1450.74 L315.59,1450.74 L317.47,1450.74 L319.36,1450.74 L321.25,1450.74 L323.13,1450.74 L325.02,1450.74 L326.91,1450.74 L328.79,1450.74 L330.68,1450.74 L332.57,1450.74 L334.45,1450.74 L336.34,1450.74 L338.23,1450.74 L340.11,1450.74 L342.00,1450.74 L343.89,1450.74 L345.77,1450.74 L347.66,1450.74 L349.55,1450.74 L351.43,1450.74 L353.32,1450.74 L355.21,1450.74 L357.09,1450.74 L358.98,1450.74 L360.87,1450.74 L362.75,1450.74 L364.64,1450.74 L366.53,1450.74 L368.41,1450.74 L370.30,1450.74 L372.19,1450.74 L374.07,1450.74 L375.96,1450.74 L377.85,1450.74 L379.73,1450.74 L381.62,1450.74 L383.51,1450.74 L385.39,1450.74 L387.28,1450.74 L389.17,1450.74 L391.05,1450.74 L392.94,1450.74 L394.83,1450.74 L396.71,1450.74 L398.60,1450.74 L400.49,1450.74 L402.37,1450.74 L404.26,1450.74 L406.15,1450.74 L408.03,1450.74 L409.92,1450.74 L411.81,1450.74 L413.69,1450.74 L415.58,1450.74 L417.47,1450.74 L419.35,1450.74 L421.24,1450.74 L423.13,1450.73 L425.01,1450.73 L426.90,1450.73 L428.79,1450.73 L430.67,1450.72 L432.56,1450.72 L434.45,1450.71 L436.33,1450.71 L438.22,1450.70 L440.11,1450.69 L441.99,1450.68 L443.88,1450.67 L445.77,1450.66 L447.65,1450.65 L449.54,1450.64 L451.43,1450.62 L453.31,1450.61 L455.20,1450.59 L457.09,1450.58 L458.97,1450.56 L460.86,1450.54 L462.75,1450.52 L464.63,1450.50 L466.52,1450.49 L468.41,1450.47 L470.29,1450.45 L472.18,1450.43 L474.07,1450.42 L475.95,1450.40 L477.84,1450.39 L479.73,1450.38 L481.61,1450.37 L483.50,1450.36 L485.39,1450.35 L487.27,1450.35 L489.16,1450.35 L491.05,1450.35 L492.93,1450.35 L494.82,1450.36 L496.71,1450.37 L498.59,1450.38 L500.48,1450.39 L502.37,1450.40 L504.25,1450.42 L506.14,1450.43 L508.03,1450.45 L509.91,1450.47 L511.80,1450.49 L513.69,1450.50 L515.57,1450.52 L517.46,1450.54 L519.35,1450.56 L521.23,1450.58 L523.12,1450.59 L525.01,1450.61 L526.89,1450.63 L528.78,1450.64 L530.67,1450.65 L532.55,1450.66 L534.44,1450.67 L536.33,1450.68 L538.21,1450.69 L540.10,1450.70 L541.99,1450.71 L543.87,1450.71 L545.76,1450.72 L547.65,1450.72 L549.53,1450.73 L551.42,1450.73 L553.31,1450.73 L555.19,1450.74 L557.08,1450.74 L558.97,1450.74 L560.85,1450.74 L562.74,1450.74 L564.63,1450.74 L566.51,1450.75 L568.40,1450.75 L570.29,1450.75 L572.17,1450.75 L574.06,1450.75 L575.95,1450.75 L577.83,1450.75 L579.72,1450.75 L581.61,1450.75 L583.49,1450.75 L585.38,1450.75 L587.27,1450.75 L589.15,1450.75 L591.04,1450.75 L592.93,1450.75 L594.81,1450.75 L596.70,1450.75 L598.59,1450.75 L600.47,1450.75 L602.36,1450.75 L604.25,1450.75 L606.13,1450.75 L608.02,1450.75 L609.91,1450.75 L611.79,1450.75 L613.68,1450.75 L615.57,1450.75 L617.45,1450.75 L619.34,1450.75 L621.23,1450.75 L623.11,1450.75 L625.00,1450.75" fill="none" stroke="#8a70e8" stroke-width="3.5" stroke-linejoin="round"/>
<path d="M59.00,1450.47 L60.89,1450.46 L62.77,1450.45 L64.66,1450.43 L66.55,1450.42 L68.43,1450.41 L70.32,1450.39 L72.21,1450.38 L74.09,1450.36 L75.98,1450.34 L77.87,1450.32 L79.75,1450.30 L81.64,1450.28 L83.53,1450.25 L85.41,1450.22 L87.30,1450.19 L89.19,1450.15 L91.07,1450.11 L92.96,1450.06 L94.85,1450.00 L96.73,1449.93 L98.62,1449.84 L100.51,1449.74 L102.39,1449.61 L104.28,1449.45 L106.17,1449.25 L108.05,1449.01 L109.94,1448.72 L111.83,1448.36 L113.71,1447.92 L115.60,1447.40 L117.49,1446.77 L119.37,1446.03 L121.26,1445.17 L123.15,1444.16 L125.03,1443.00 L126.92,1441.68 L128.81,1440.19 L130.69,1438.53 L132.58,1436.70 L134.47,1434.70 L136.35,1432.53 L138.24,1430.20 L140.13,1427.73 L142.01,1425.11 L143.90,1422.36 L145.79,1419.49 L147.67,1416.55 L149.56,1413.60 L151.45,1410.74 L153.33,1408.19 L155.22,1406.23 L157.11,1405.14 L158.99,1405.12 L160.88,1406.09 L162.77,1407.90 L164.65,1410.30 L166.54,1413.05 L168.43,1415.92 L170.31,1418.75 L172.20,1421.44 L174.09,1423.92 L175.97,1426.19 L177.86,1428.23 L179.75,1430.08 L181.63,1431.73 L183.52,1433.23 L185.41,1434.58 L187.29,1435.80 L189.18,1436.92 L191.07,1437.94 L192.95,1438.88 L194.84,1439.74 L196.73,1440.54 L198.61,1441.28 L200.50,1441.97 L202.39,1442.60 L204.27,1443.20 L206.16,1443.75 L208.05,1444.26 L209.93,1444.73 L211.82,1445.18 L213.71,1445.59 L215.59,1445.97 L217.48,1446.32 L219.37,1446.65 L221.25,1446.95 L223.14,1447.23 L225.03,1447.49 L226.91,1447.73 L228.80,1447.94 L230.69,1448.14 L232.57,1448.33 L234.46,1448.49 L236.35,1448.65 L238.23,1448.79 L240.12,1448.92 L242.01,1449.03 L243.89,1449.14 L245.78,1449.24 L247.67,1449.33 L249.55,1449.41 L251.44,1449.48 L253.33,1449.55 L255.21,1449.61 L257.10,1449.67 L258.99,1449.72 L260.87,1449.77 L262.76,1449.81 L264.65,1449.85 L266.53,1449.89 L268.42,1449.93 L270.31,1449.96 L272.19,1449.99 L274.08,1450.01 L275.97,1450.04 L277.85,1450.07 L279.74,1450.09 L281.63,1450.11 L283.51,1450.13 L285.40,1450.15 L287.29,1450.17 L289.17,1450.18 L291.06,1450.20 L292.95,1450.22 L294.83,1450.23 L296.72,1450.25 L298.61,1450.26 L300.49,1450.27 L302.38,1450.28 L304.27,1450.30 L306.15,1450.31 L308.04,1450.32 L309.93,1450.33 L311.81,1450.34 L313.70,1450.35 L315.59,1450.36 L317.47,1450.37 L319.36,1450.38 L321.25,1450.39 L323.13,1450.39 L325.02,1450.40 L326.91,1450.41 L328.79,1450.42 L330.68,1450.42 L332.57,1450.43 L334.45,1450.44 L336.34,1450.44 L338.23,1450.45 L340.11,1450.46 L342.00,1450.46 L343.89,1450.47 L345.77,1450.47 L347.66,1450.48 L349.55,1450.48 L351.43,1450.49 L353.32,1450.49 L355.21,1450.50 L357.09,1450.50 L358.98,1450.51 L360.87,1450.51 L362.75,1450.52 L364.64,1450.52 L366.53,1450.53 L368.41,1450.53 L370.30,1450.53 L372.19,1450.54 L374.07,1450.54 L375.96,1450.54 L377.85,1450.55 L379.73,1450.55 L381.62,1450.55 L383.51,1450.56 L385.39,1450.56 L387.28,1450.56 L389.17,1450.57 L391.05,1450.57 L392.94,1450.57 L394.83,1450.57 L396.71,1450.58 L398.60,1450.58 L400.49,1450.58 L402.37,1450.58 L404.26,1450.58 L406.15,1450.58 L408.03,1450.59 L409.92,1450.59 L411.81,1450.58 L413.69,1450.58 L415.58,1450.58 L417.47,1450.58 L419.35,1450.57 L421.24,1450.57 L423.13,1450.56 L425.01,1450.55 L426.90,1450.53 L428.79,1450.52 L430.67,1450.50 L432.56,1450.48 L434.45,1450.46 L436.33,1450.43 L438.22,1450.39 L440.11,1450.36 L441.99,1450.31 L443.88,1450.27 L445.77,1450.21 L447.65,1450.16 L449.54,1450.09 L451.43,1450.02 L453.31,1449.95 L455.20,1449.87 L457.09,1449.79 L458.97,1449.70 L460.86,1449.62 L462.75,1449.52 L464.63,1449.43 L466.52,1449.34 L468.41,1449.25 L470.29,1449.16 L472.18,1449.08 L474.07,1449.00 L475.95,1448.92 L477.84,1448.86 L479.73,1448.80 L481.61,1448.75 L483.50,1448.71 L485.39,1448.68 L487.27,1448.67 L489.16,1448.66 L491.05,1448.67 L492.93,1448.69 L494.82,1448.72 L496.71,1448.76 L498.59,1448.81 L500.48,1448.87 L502.37,1448.94 L504.25,1449.01 L506.14,1449.10 L508.03,1449.18 L509.91,1449.27 L511.80,1449.37 L513.69,1449.46 L515.57,1449.55 L517.46,1449.65 L519.35,1449.74 L521.23,1449.83 L523.12,1449.91 L525.01,1449.99 L526.89,1450.07 L528.78,1450.14 L530.67,1450.20 L532.55,1450.26 L534.44,1450.32 L536.33,1450.37 L538.21,1450.41 L540.10,1450.45 L541.99,1450.49 L543.87,1450.52 L545.76,1450.55 L547.65,1450.57 L549.53,1450.59 L551.42,1450.61 L553.31,1450.62 L555.19,1450.63 L557.08,1450.65 L558.97,1450.65 L560.85,1450.66 L562.74,1450.67 L564.63,1450.67 L566.51,1450.68 L568.40,1450.68 L570.29,1450.68 L572.17,1450.69 L574.06,1450.69 L575.95,1450.69 L577.83,1450.69 L579.72,1450.69 L581.61,1450.69 L583.49,1450.69 L585.38,1450.70 L587.27,1450.70 L589.15,1450.70 L591.04,1450.70 L592.93,1450.70 L594.81,1450.70 L596.70,1450.70 L598.59,1450.70 L600.47,1450.70 L602.36,1450.70 L604.25,1450.70 L606.13,1450.70 L608.02,1450.70 L609.91,1450.70 L611.79,1450.70 L613.68,1450.70 L615.57,1450.70 L617.45,1450.70 L619.34,1450.70 L621.23,1450.70 L623.11,1450.70 L625.00,1450.71" fill="none" stroke="#8a40e8" stroke-width="3.5" stroke-linejoin="round"/>
<path d="M59.00,1449.58 L60.89,1449.54 L62.77,1449.49 L64.66,1449.44 L66.55,1449.39 L68.43,1449.33 L70.32,1449.27 L72.21,1449.20 L74.09,1449.13 L75.98,1449.06 L77.87,1448.98 L79.75,1448.89 L81.64,1448.79 L83.53,1448.68 L85.41,1448.56 L87.30,1448.43 L89.19,1448.27 L91.07,1448.09 L92.96,1447.89 L94.85,1447.64 L96.73,1447.34 L98.62,1446.98 L100.51,1446.54 L102.39,1446.00 L104.28,1445.34 L106.17,1444.52 L108.05,1443.53 L109.94,1442.30 L111.83,1440.81 L113.71,1439.00 L115.60,1436.83 L117.49,1434.24 L119.37,1431.16 L121.26,1427.56 L123.15,1423.38 L125.03,1418.56 L126.92,1413.08 L128.81,1406.91 L130.69,1400.02 L132.58,1392.41 L134.47,1384.10 L136.35,1375.09 L138.24,1365.42 L140.13,1355.13 L142.01,1344.25 L143.90,1332.83 L145.79,1320.95 L147.67,1308.73 L149.56,1296.45 L151.45,1284.60 L153.33,1274.01 L155.22,1265.84 L157.11,1261.34 L158.99,1261.27 L160.88,1265.30 L162.77,1272.77 L164.65,1282.75 L166.54,1294.17 L168.43,1306.11 L170.31,1317.87 L172.20,1329.02 L174.09,1339.34 L175.97,1348.74 L177.86,1357.24 L179.75,1364.89 L181.63,1371.77 L183.52,1377.98 L185.41,1383.59 L187.29,1388.68 L189.18,1393.32 L191.07,1397.56 L192.95,1401.46 L194.84,1405.04 L196.73,1408.36 L198.61,1411.43 L200.50,1414.28 L202.39,1416.92 L204.27,1419.38 L206.16,1421.66 L208.05,1423.79 L209.93,1425.77 L211.82,1427.61 L213.71,1429.31 L215.59,1430.90 L217.48,1432.36 L219.37,1433.72 L221.25,1434.98 L223.14,1436.14 L225.03,1437.21 L226.91,1438.19 L228.80,1439.09 L230.69,1439.92 L232.57,1440.69 L234.46,1441.38 L236.35,1442.02 L238.23,1442.61 L240.12,1443.14 L242.01,1443.62 L243.89,1444.07 L245.78,1444.47 L247.67,1444.84 L249.55,1445.18 L251.44,1445.49 L253.33,1445.77 L255.21,1446.03 L257.10,1446.26 L258.99,1446.48 L260.87,1446.68 L262.76,1446.86 L264.65,1447.03 L266.53,1447.18 L268.42,1447.32 L270.31,1447.46 L272.19,1447.58 L274.08,1447.70 L275.97,1447.80 L277.85,1447.91 L279.74,1448.00 L281.63,1448.09 L283.51,1448.17 L285.40,1448.25 L287.29,1448.33 L289.17,1448.40 L291.06,1448.47 L292.95,1448.53 L294.83,1448.59 L296.72,1448.65 L298.61,1448.71 L300.49,1448.76 L302.38,1448.82 L304.27,1448.86 L306.15,1448.91 L308.04,1448.96 L309.93,1449.00 L311.81,1449.04 L313.70,1449.09 L315.59,1449.12 L317.47,1449.16 L319.36,1449.20 L321.25,1449.23 L323.13,1449.27 L325.02,1449.30 L326.91,1449.33 L328.79,1449.36 L330.68,1449.39 L332.57,1449.42 L334.45,1449.45 L336.34,1449.48 L338.23,1449.50 L340.11,1449.53 L342.00,1449.55 L343.89,1449.58 L345.77,1449.60 L347.66,1449.62 L349.55,1449.65 L351.43,1449.67 L353.32,1449.69 L355.21,1449.71 L357.09,1449.73 L358.98,1449.75 L360.87,1449.77 L362.75,1449.78 L364.64,1449.80 L366.53,1449.82 L368.41,1449.83 L370.30,1449.85 L372.19,1449.87 L374.07,1449.88 L375.96,1449.90 L377.85,1449.91 L379.73,1449.92 L381.62,1449.94 L383.51,1449.95 L385.39,1449.96 L387.28,1449.98 L389.17,1449.99 L391.05,1450.00 L392.94,1450.01 L394.83,1450.02 L396.71,1450.03 L398.60,1450.04 L400.49,1450.05 L402.37,1450.06 L404.26,1450.07 L406.15,1450.08 L408.03,1450.08 L409.92,1450.09 L411.81,1450.09 L413.69,1450.09 L415.58,1450.09 L417.47,1450.09 L419.35,1450.09 L421.24,1450.08 L423.13,1450.07 L425.01,1450.05 L426.90,1450.03 L428.79,1450.00 L430.67,1449.97 L432.56,1449.93 L434.45,1449.89 L436.33,1449.83 L438.22,1449.77 L440.11,1449.70 L441.99,1449.62 L443.88,1449.52 L445.77,1449.42 L447.65,1449.31 L449.54,1449.19 L451.43,1449.05 L453.31,1448.91 L455.20,1448.76 L457.09,1448.59 L458.97,1448.43 L460.86,1448.25 L462.75,1448.07 L464.63,1447.89 L466.52,1447.71 L468.41,1447.53 L470.29,1447.36 L472.18,1447.19 L474.07,1447.03 L475.95,1446.89 L477.84,1446.76 L479.73,1446.64 L481.61,1446.55 L483.50,1446.47 L485.39,1446.42 L487.27,1446.39 L489.16,1446.38 L491.05,1446.40 L492.93,1446.43 L494.82,1446.50 L496.71,1446.58 L498.59,1446.68 L500.48,1446.81 L502.37,1446.95 L504.25,1447.10 L506.14,1447.27 L508.03,1447.44 L509.91,1447.63 L511.80,1447.81 L513.69,1448.00 L515.57,1448.19 L517.46,1448.38 L519.35,1448.56 L521.23,1448.74 L523.12,1448.91 L525.01,1449.07 L526.89,1449.23 L528.78,1449.37 L530.67,1449.50 L532.55,1449.62 L534.44,1449.74 L536.33,1449.84 L538.21,1449.93 L540.10,1450.01 L541.99,1450.08 L543.87,1450.14 L545.76,1450.20 L547.65,1450.25 L549.53,1450.29 L551.42,1450.33 L553.31,1450.36 L555.19,1450.39 L557.08,1450.41 L558.97,1450.43 L560.85,1450.44 L562.74,1450.46 L564.63,1450.47 L566.51,1450.48 L568.40,1450.49 L570.29,1450.49 L572.17,1450.50 L574.06,1450.50 L575.95,1450.51 L577.83,1450.51 L579.72,1450.52 L581.61,1450.52 L583.49,1450.52 L585.38,1450.53 L587.27,1450.53 L589.15,1450.53 L591.04,1450.53 L592.93,1450.53 L594.81,1450.54 L596.70,1450.54 L598.59,1450.54 L600.47,1450.54 L602.36,1450.54 L604.25,1450.55 L606.13,1450.55 L608.02,1450.55 L609.91,1450.55 L611.79,1450.55 L613.68,1450.55 L615.57,1450.56 L617.45,1450.56 L619.34,1450.56 L621.23,1450.56 L623.11,1450.56 L625.00,1450.56" fill="none" stroke="#5a14d8" stroke-width="3.5" stroke-linejoin="round"/>
<path d="M59.00,1448.74 L60.89,1448.66 L62.77,1448.58 L64.66,1448.49 L66.55,1448.40 L68.43,1448.30 L70.32,1448.19 L72.21,1448.08 L74.09,1447.96 L75.98,1447.83 L77.87,1447.69 L79.75,1447.54 L81.64,1447.37 L83.53,1447.18 L85.41,1446.98 L87.30,1446.74 L89.19,1446.48 L91.07,1446.17 L92.96,1445.81 L94.85,1445.38 L96.73,1444.87 L98.62,1444.24 L100.51,1443.49 L102.39,1442.56 L104.28,1441.42 L106.17,1440.01 L108.05,1438.29 L109.94,1436.18 L111.83,1433.60 L113.71,1430.49 L115.60,1426.74 L117.49,1422.26 L119.37,1416.96 L121.26,1410.75 L123.15,1403.53 L125.03,1395.23 L126.92,1385.77 L128.81,1375.12 L130.69,1363.24 L132.58,1350.12 L134.47,1335.77 L136.35,1320.24 L138.24,1303.56 L140.13,1285.81 L142.01,1267.04 L143.90,1247.34 L145.79,1226.84 L147.67,1205.77 L149.56,1184.59 L151.45,1164.15 L153.33,1145.88 L155.22,1131.78 L157.11,1124.01 L158.99,1123.89 L160.88,1130.84 L162.77,1143.74 L164.65,1160.95 L166.54,1180.65 L168.43,1201.24 L170.31,1221.53 L172.20,1240.77 L174.09,1258.57 L175.97,1274.79 L177.86,1289.44 L179.75,1302.64 L181.63,1314.51 L183.52,1325.22 L185.41,1334.89 L187.29,1343.68 L189.18,1351.68 L191.07,1359.00 L192.95,1365.72 L194.84,1371.91 L196.73,1377.63 L198.61,1382.92 L200.50,1387.83 L202.39,1392.39 L204.27,1396.63 L206.16,1400.58 L208.05,1404.24 L209.93,1407.66 L211.82,1410.83 L213.71,1413.77 L215.59,1416.50 L217.48,1419.03 L219.37,1421.38 L221.25,1423.54 L223.14,1425.54 L225.03,1427.39 L226.91,1429.08 L228.80,1430.64 L230.69,1432.08 L232.57,1433.39 L234.46,1434.59 L236.35,1435.69 L238.23,1436.70 L240.12,1437.62 L242.01,1438.46 L243.89,1439.22 L245.78,1439.92 L247.67,1440.56 L249.55,1441.14 L251.44,1441.67 L253.33,1442.16 L255.21,1442.60 L257.10,1443.01 L258.99,1443.38 L260.87,1443.72 L262.76,1444.04 L264.65,1444.33 L266.53,1444.59 L268.42,1444.84 L270.31,1445.07 L272.19,1445.28 L274.08,1445.48 L275.97,1445.67 L277.85,1445.84 L279.74,1446.01 L281.63,1446.16 L283.51,1446.31 L285.40,1446.44 L287.29,1446.57 L289.17,1446.70 L291.06,1446.81 L292.95,1446.92 L294.83,1447.03 L296.72,1447.13 L298.61,1447.23 L300.49,1447.32 L302.38,1447.41 L304.27,1447.50 L306.15,1447.58 L308.04,1447.66 L309.93,1447.73 L311.81,1447.81 L313.70,1447.88 L315.59,1447.95 L317.47,1448.01 L319.36,1448.07 L321.25,1448.14 L323.13,1448.19 L325.02,1448.25 L326.91,1448.31 L328.79,1448.36 L330.68,1448.41 L332.57,1448.46 L334.45,1448.51 L336.34,1448.56 L338.23,1448.60 L340.11,1448.65 L342.00,1448.69 L343.89,1448.73 L345.77,1448.77 L347.66,1448.81 L349.55,1448.85 L351.43,1448.88 L353.32,1448.92 L355.21,1448.95 L357.09,1448.99 L358.98,1449.02 L360.87,1449.05 L362.75,1449.08 L364.64,1449.11 L366.53,1449.14 L368.41,1449.17 L370.30,1449.20 L372.19,1449.23 L374.07,1449.25 L375.96,1449.28 L377.85,1449.30 L379.73,1449.33 L381.62,1449.35 L383.51,1449.37 L385.39,1449.40 L387.28,1449.42 L389.17,1449.44 L391.05,1449.46 L392.94,1449.48 L394.83,1449.50 L396.71,1449.52 L398.60,1449.53 L400.49,1449.55 L402.37,1449.57 L404.26,1449.58 L406.15,1449.59 L408.03,1449.60 L409.92,1449.61 L411.81,1449.62 L413.69,1449.63 L415.58,1449.63 L417.47,1449.63 L419.35,1449.62 L421.24,1449.61 L423.13,1449.59 L425.01,1449.57 L426.90,1449.54 L428.79,1449.50 L430.67,1449.46 L432.56,1449.40 L434.45,1449.33 L436.33,1449.26 L438.22,1449.16 L440.11,1449.06 L441.99,1448.94 L443.88,1448.80 L445.77,1448.65 L447.65,1448.48 L449.54,1448.30 L451.43,1448.10 L453.31,1447.88 L455.20,1447.66 L457.09,1447.41 L458.97,1447.16 L460.86,1446.90 L462.75,1446.63 L464.63,1446.36 L466.52,1446.09 L468.41,1445.83 L470.29,1445.57 L472.18,1445.32 L474.07,1445.08 L475.95,1444.87 L477.84,1444.67 L479.73,1444.50 L481.61,1444.36 L483.50,1444.25 L485.39,1444.17 L487.27,1444.12 L489.16,1444.11 L491.05,1444.14 L492.93,1444.20 L494.82,1444.29 L496.71,1444.42 L498.59,1444.57 L500.48,1444.76 L502.37,1444.97 L504.25,1445.20 L506.14,1445.45 L508.03,1445.71 L509.91,1445.99 L511.80,1446.27 L513.69,1446.56 L515.57,1446.84 L517.46,1447.12 L519.35,1447.40 L521.23,1447.67 L523.12,1447.92 L525.01,1448.17 L526.89,1448.40 L528.78,1448.61 L530.67,1448.81 L532.55,1449.00 L534.44,1449.16 L536.33,1449.32 L538.21,1449.45 L540.10,1449.57 L541.99,1449.68 L543.87,1449.78 L545.76,1449.86 L547.65,1449.94 L549.53,1450.00 L551.42,1450.06 L553.31,1450.10 L555.19,1450.14 L557.08,1450.18 L558.97,1450.21 L560.85,1450.23 L562.74,1450.25 L564.63,1450.27 L566.51,1450.29 L568.40,1450.30 L570.29,1450.31 L572.17,1450.32 L574.06,1450.33 L575.95,1450.34 L577.83,1450.34 L579.72,1450.35 L581.61,1450.35 L583.49,1450.36 L585.38,1450.36 L587.27,1450.37 L589.15,1450.37 L591.04,1450.37 L592.93,1450.38 L594.81,1450.38 L596.70,1450.38 L598.59,1450.39 L600.47,1450.39 L602.36,1450.39 L604.25,1450.40 L606.13,1450.40 L608.02,1450.40 L609.91,1450.41 L611.79,1450.41 L613.68,1450.41 L615.57,1450.41 L617.45,1450.42 L619.34,1450.42 L621.23,1450.42 L623.11,1450.43 L625.00,1450.43" fill="none" stroke="#4a10a8" stroke-width="3.5" stroke-linejoin="round"/>
<rect x="301.9" y="1145.5" width="284.1" height="212.4000000000001" fill="#fff" stroke="#4a78b0" stroke-width="1.6"/>
<line x1="301.90" y1="1357.9" x2="301.90" y2="1361.9" stroke="#8a8a8a" stroke-width="1.6"/>
<line x1="396.60" y1="1357.9" x2="396.60" y2="1361.9" stroke="#8a8a8a" stroke-width="1.6"/>
<line x1="491.30" y1="1357.9" x2="491.30" y2="1361.9" stroke="#8a8a8a" stroke-width="1.6"/>
<line x1="586.00" y1="1357.9" x2="586.00" y2="1361.9" stroke="#8a8a8a" stroke-width="1.6"/>
<path d="M301.90,1356.68 L302.85,1356.68 L303.79,1356.68 L304.74,1356.68 L305.69,1356.68 L306.63,1356.68 L307.58,1356.68 L308.53,1356.68 L309.48,1356.68 L310.42,1356.67 L311.37,1356.67 L312.32,1356.67 L313.26,1356.67 L314.21,1356.67 L315.16,1356.67 L316.10,1356.67 L317.05,1356.66 L318.00,1356.66 L318.95,1356.66 L319.89,1356.66 L320.84,1356.65 L321.79,1356.65 L322.73,1356.64 L323.68,1356.64 L324.63,1356.63 L325.57,1356.62 L326.52,1356.61 L327.47,1356.59 L328.42,1356.57 L329.36,1356.55 L330.31,1356.53 L331.26,1356.49 L332.20,1356.46 L333.15,1356.41 L334.10,1356.36 L335.04,1356.30 L335.99,1356.22 L336.94,1356.14 L337.89,1356.05 L338.83,1355.94 L339.78,1355.83 L340.73,1355.70 L341.67,1355.56 L342.62,1355.42 L343.57,1355.26 L344.51,1355.09 L345.46,1354.91 L346.41,1354.73 L347.36,1354.54 L348.30,1354.34 L349.25,1354.15 L350.20,1353.97 L351.14,1353.83 L352.09,1353.73 L353.04,1353.70 L353.98,1353.74 L354.93,1353.84 L355.88,1353.98 L356.83,1354.15 L357.77,1354.34 L358.72,1354.53 L359.67,1354.71 L360.61,1354.88 L361.56,1355.03 L362.51,1355.17 L363.45,1355.30 L364.40,1355.41 L365.35,1355.51 L366.30,1355.61 L367.24,1355.69 L368.19,1355.76 L369.14,1355.83 L370.08,1355.90 L371.03,1355.96 L371.98,1356.01 L372.92,1356.06 L373.87,1356.11 L374.82,1356.15 L375.77,1356.19 L376.71,1356.23 L377.66,1356.26 L378.61,1356.29 L379.55,1356.32 L380.50,1356.35 L381.45,1356.38 L382.39,1356.40 L383.34,1356.42 L384.29,1356.44 L385.24,1356.46 L386.18,1356.48 L387.13,1356.50 L388.08,1356.51 L389.02,1356.52 L389.97,1356.54 L390.92,1356.55 L391.87,1356.56 L392.81,1356.57 L393.76,1356.58 L394.71,1356.58 L395.65,1356.59 L396.60,1356.60 L397.55,1356.60 L398.49,1356.61 L399.44,1356.62 L400.39,1356.62 L401.33,1356.62 L402.28,1356.63 L403.23,1356.63 L404.18,1356.63 L405.12,1356.64 L406.07,1356.64 L407.02,1356.64 L407.96,1356.65 L408.91,1356.65 L409.86,1356.65 L410.80,1356.65 L411.75,1356.65 L412.70,1356.65 L413.65,1356.66 L414.59,1356.66 L415.54,1356.66 L416.49,1356.66 L417.43,1356.66 L418.38,1356.66 L419.33,1356.66 L420.27,1356.66 L421.22,1356.67 L422.17,1356.67 L423.12,1356.67 L424.06,1356.67 L425.01,1356.67 L425.96,1356.67 L426.90,1356.67 L427.85,1356.67 L428.80,1356.67 L429.75,1356.67 L430.69,1356.67 L431.64,1356.67 L432.59,1356.67 L433.53,1356.68 L434.48,1356.68 L435.43,1356.68 L436.37,1356.68 L437.32,1356.68 L438.27,1356.68 L439.21,1356.68 L440.16,1356.68 L441.11,1356.68 L442.06,1356.68 L443.00,1356.68 L443.95,1356.68 L444.90,1356.68 L445.84,1356.68 L446.79,1356.68 L447.74,1356.68 L448.68,1356.68 L449.63,1356.68 L450.58,1356.68 L451.53,1356.68 L452.47,1356.68 L453.42,1356.68 L454.37,1356.68 L455.31,1356.68 L456.26,1356.68 L457.21,1356.69 L458.15,1356.69 L459.10,1356.69 L460.05,1356.69 L461.00,1356.69 L461.94,1356.69 L462.89,1356.69 L463.84,1356.69 L464.78,1356.69 L465.73,1356.69 L466.68,1356.69 L467.62,1356.69 L468.57,1356.69 L469.52,1356.69 L470.47,1356.69 L471.41,1356.69 L472.36,1356.69 L473.31,1356.69 L474.25,1356.69 L475.20,1356.69 L476.15,1356.68 L477.10,1356.68 L478.04,1356.68 L478.99,1356.68 L479.94,1356.68 L480.88,1356.67 L481.83,1356.67 L482.78,1356.66 L483.72,1356.66 L484.67,1356.65 L485.62,1356.64 L486.56,1356.63 L487.51,1356.62 L488.46,1356.60 L489.41,1356.59 L490.35,1356.57 L491.30,1356.54 L492.25,1356.52 L493.19,1356.49 L494.14,1356.46 L495.09,1356.42 L496.03,1356.38 L496.98,1356.33 L497.93,1356.29 L498.88,1356.23 L499.82,1356.18 L500.77,1356.12 L501.72,1356.05 L502.66,1355.99 L503.61,1355.92 L504.56,1355.85 L505.50,1355.78 L506.45,1355.71 L507.40,1355.64 L508.35,1355.58 L509.29,1355.51 L510.24,1355.45 L511.19,1355.40 L512.13,1355.35 L513.08,1355.30 L514.03,1355.26 L514.98,1355.23 L515.92,1355.21 L516.87,1355.20 L517.82,1355.19 L518.76,1355.20 L519.71,1355.21 L520.66,1355.23 L521.60,1355.26 L522.55,1355.30 L523.50,1355.35 L524.44,1355.40 L525.39,1355.45 L526.34,1355.51 L527.29,1355.58 L528.23,1355.65 L529.18,1355.72 L530.13,1355.79 L531.07,1355.85 L532.02,1355.92 L532.97,1355.99 L533.91,1356.06 L534.86,1356.12 L535.81,1356.18 L536.76,1356.24 L537.70,1356.29 L538.65,1356.34 L539.60,1356.38 L540.54,1356.42 L541.49,1356.46 L542.44,1356.49 L543.38,1356.52 L544.33,1356.55 L545.28,1356.57 L546.23,1356.59 L547.17,1356.61 L548.12,1356.62 L549.07,1356.64 L550.01,1356.65 L550.96,1356.66 L551.91,1356.66 L552.86,1356.67 L553.80,1356.68 L554.75,1356.68 L555.70,1356.68 L556.64,1356.69 L557.59,1356.69 L558.54,1356.69 L559.48,1356.69 L560.43,1356.69 L561.38,1356.69 L562.33,1356.69 L563.27,1356.69 L564.22,1356.70 L565.17,1356.70 L566.11,1356.70 L567.06,1356.70 L568.01,1356.70 L568.95,1356.70 L569.90,1356.70 L570.85,1356.70 L571.80,1356.70 L572.74,1356.70 L573.69,1356.70 L574.64,1356.70 L575.58,1356.70 L576.53,1356.70 L577.48,1356.70 L578.42,1356.70 L579.37,1356.70 L580.32,1356.70 L581.26,1356.70 L582.21,1356.70 L583.16,1356.70 L584.11,1356.70 L585.05,1356.70 L586.00,1356.70" fill="none" stroke="#c0a0f0" stroke-width="3.3" stroke-linejoin="round"/>
<path d="M301.90,1356.63 L302.85,1356.63 L303.79,1356.63 L304.74,1356.63 L305.69,1356.62 L306.63,1356.62 L307.58,1356.62 L308.53,1356.61 L309.48,1356.61 L310.42,1356.60 L311.37,1356.60 L312.32,1356.60 L313.26,1356.59 L314.21,1356.58 L315.16,1356.58 L316.10,1356.57 L317.05,1356.56 L318.00,1356.56 L318.95,1356.55 L319.89,1356.53 L320.84,1356.52 L321.79,1356.50 L322.73,1356.48 L323.68,1356.46 L324.63,1356.43 L325.57,1356.39 L326.52,1356.35 L327.47,1356.29 L328.42,1356.22 L329.36,1356.14 L330.31,1356.04 L331.26,1355.92 L332.20,1355.77 L333.15,1355.60 L334.10,1355.40 L335.04,1355.16 L335.99,1354.89 L336.94,1354.58 L337.89,1354.22 L338.83,1353.83 L339.78,1353.39 L340.73,1352.91 L341.67,1352.38 L342.62,1351.82 L343.57,1351.21 L344.51,1350.58 L345.46,1349.90 L346.41,1349.20 L347.36,1348.47 L348.30,1347.74 L349.25,1347.01 L350.20,1346.34 L351.14,1345.78 L352.09,1345.41 L353.04,1345.30 L353.98,1345.45 L354.93,1345.82 L355.88,1346.37 L356.83,1347.02 L357.77,1347.73 L358.72,1348.45 L359.67,1349.13 L360.61,1349.77 L361.56,1350.36 L362.51,1350.89 L363.45,1351.37 L364.40,1351.80 L365.35,1352.19 L366.30,1352.54 L367.24,1352.86 L368.19,1353.15 L369.14,1353.41 L370.08,1353.65 L371.03,1353.87 L371.98,1354.08 L372.92,1354.27 L373.87,1354.44 L374.82,1354.61 L375.77,1354.76 L376.71,1354.90 L377.66,1355.03 L378.61,1355.15 L379.55,1355.27 L380.50,1355.37 L381.45,1355.47 L382.39,1355.56 L383.34,1355.65 L384.29,1355.72 L385.24,1355.80 L386.18,1355.86 L387.13,1355.92 L388.08,1355.98 L389.02,1356.03 L389.97,1356.08 L390.92,1356.12 L391.87,1356.16 L392.81,1356.20 L393.76,1356.23 L394.71,1356.26 L395.65,1356.29 L396.60,1356.31 L397.55,1356.34 L398.49,1356.36 L399.44,1356.38 L400.39,1356.39 L401.33,1356.41 L402.28,1356.43 L403.23,1356.44 L404.18,1356.45 L405.12,1356.46 L406.07,1356.47 L407.02,1356.48 L407.96,1356.49 L408.91,1356.50 L409.86,1356.51 L410.80,1356.51 L411.75,1356.52 L412.70,1356.53 L413.65,1356.53 L414.59,1356.54 L415.54,1356.54 L416.49,1356.55 L417.43,1356.55 L418.38,1356.56 L419.33,1356.56 L420.27,1356.57 L421.22,1356.57 L422.17,1356.57 L423.12,1356.58 L424.06,1356.58 L425.01,1356.58 L425.96,1356.59 L426.90,1356.59 L427.85,1356.59 L428.80,1356.59 L429.75,1356.60 L430.69,1356.60 L431.64,1356.60 L432.59,1356.60 L433.53,1356.61 L434.48,1356.61 L435.43,1356.61 L436.37,1356.61 L437.32,1356.61 L438.27,1356.62 L439.21,1356.62 L440.16,1356.62 L441.11,1356.62 L442.06,1356.62 L443.00,1356.62 L443.95,1356.63 L444.90,1356.63 L445.84,1356.63 L446.79,1356.63 L447.74,1356.63 L448.68,1356.63 L449.63,1356.63 L450.58,1356.64 L451.53,1356.64 L452.47,1356.64 L453.42,1356.64 L454.37,1356.64 L455.31,1356.64 L456.26,1356.64 L457.21,1356.64 L458.15,1356.64 L459.10,1356.65 L460.05,1356.65 L461.00,1356.65 L461.94,1356.65 L462.89,1356.65 L463.84,1356.65 L464.78,1356.65 L465.73,1356.65 L466.68,1356.65 L467.62,1356.65 L468.57,1356.65 L469.52,1356.65 L470.47,1356.65 L471.41,1356.65 L472.36,1356.65 L473.31,1356.65 L474.25,1356.65 L475.20,1356.64 L476.15,1356.64 L477.10,1356.64 L478.04,1356.63 L478.99,1356.62 L479.94,1356.61 L480.88,1356.60 L481.83,1356.58 L482.78,1356.56 L483.72,1356.54 L484.67,1356.51 L485.62,1356.48 L486.56,1356.44 L487.51,1356.39 L488.46,1356.33 L489.41,1356.27 L490.35,1356.19 L491.30,1356.11 L492.25,1356.01 L493.19,1355.90 L494.14,1355.77 L495.09,1355.63 L496.03,1355.48 L496.98,1355.31 L497.93,1355.12 L498.88,1354.93 L499.82,1354.71 L500.77,1354.49 L501.72,1354.25 L502.66,1354.00 L503.61,1353.74 L504.56,1353.48 L505.50,1353.22 L506.45,1352.95 L507.40,1352.69 L508.35,1352.43 L509.29,1352.19 L510.24,1351.96 L511.19,1351.74 L512.13,1351.55 L513.08,1351.38 L514.03,1351.24 L514.98,1351.13 L515.92,1351.04 L516.87,1350.99 L517.82,1350.98 L518.76,1350.99 L519.71,1351.04 L520.66,1351.13 L521.60,1351.24 L522.55,1351.39 L523.50,1351.55 L524.44,1351.75 L525.39,1351.96 L526.34,1352.19 L527.29,1352.44 L528.23,1352.70 L529.18,1352.96 L530.13,1353.22 L531.07,1353.49 L532.02,1353.75 L532.97,1354.01 L533.91,1354.26 L534.86,1354.50 L535.81,1354.72 L536.76,1354.94 L537.70,1355.14 L538.65,1355.32 L539.60,1355.49 L540.54,1355.65 L541.49,1355.79 L542.44,1355.91 L543.38,1356.02 L544.33,1356.12 L545.28,1356.21 L546.23,1356.29 L547.17,1356.35 L548.12,1356.41 L549.07,1356.46 L550.01,1356.50 L550.96,1356.53 L551.91,1356.56 L552.86,1356.59 L553.80,1356.61 L554.75,1356.62 L555.70,1356.63 L556.64,1356.65 L557.59,1356.65 L558.54,1356.66 L559.48,1356.67 L560.43,1356.67 L561.38,1356.67 L562.33,1356.68 L563.27,1356.68 L564.22,1356.68 L565.17,1356.68 L566.11,1356.68 L567.06,1356.68 L568.01,1356.69 L568.95,1356.69 L569.90,1356.69 L570.85,1356.69 L571.80,1356.69 L572.74,1356.69 L573.69,1356.69 L574.64,1356.69 L575.58,1356.69 L576.53,1356.69 L577.48,1356.69 L578.42,1356.69 L579.37,1356.69 L580.32,1356.69 L581.26,1356.69 L582.21,1356.69 L583.16,1356.69 L584.11,1356.69 L585.05,1356.69 L586.00,1356.69" fill="none" stroke="#c868e0" stroke-width="3.3" stroke-linejoin="round"/>
<path d="M301.90,1355.60 L302.85,1355.56 L303.79,1355.52 L304.74,1355.47 L305.69,1355.42 L306.63,1355.37 L307.58,1355.32 L308.53,1355.26 L309.48,1355.19 L310.42,1355.13 L311.37,1355.05 L312.32,1354.98 L313.26,1354.89 L314.21,1354.80 L315.16,1354.70 L316.10,1354.58 L317.05,1354.45 L318.00,1354.31 L318.95,1354.14 L319.89,1353.95 L320.84,1353.72 L321.79,1353.44 L322.73,1353.11 L323.68,1352.71 L324.63,1352.22 L325.57,1351.62 L326.52,1350.87 L327.47,1349.96 L328.42,1348.84 L329.36,1347.48 L330.31,1345.82 L331.26,1343.81 L332.20,1341.42 L333.15,1338.57 L334.10,1335.21 L335.04,1331.30 L335.99,1326.79 L336.94,1321.62 L337.89,1315.78 L338.83,1309.24 L339.78,1301.98 L340.73,1294.02 L341.67,1285.37 L342.62,1276.05 L343.57,1266.09 L344.51,1255.53 L345.46,1244.42 L346.41,1232.82 L347.36,1220.82 L348.30,1208.63 L349.25,1196.64 L350.20,1185.53 L351.14,1176.32 L352.09,1170.26 L353.04,1168.42 L353.98,1170.85 L354.93,1177.00 L355.88,1186.02 L356.83,1196.89 L357.77,1208.61 L358.72,1220.40 L359.67,1231.73 L360.61,1242.30 L361.56,1251.99 L362.51,1260.76 L363.45,1268.67 L364.40,1275.79 L365.35,1282.19 L366.30,1287.98 L367.24,1293.22 L368.19,1297.99 L369.14,1302.35 L370.08,1306.34 L371.03,1310.01 L371.98,1313.40 L372.92,1316.54 L373.87,1319.45 L374.82,1322.15 L375.77,1324.66 L376.71,1326.99 L377.66,1329.16 L378.61,1331.17 L379.55,1333.05 L380.50,1334.79 L381.45,1336.41 L382.39,1337.91 L383.34,1339.30 L384.29,1340.58 L385.24,1341.77 L386.18,1342.86 L387.13,1343.87 L388.08,1344.80 L389.02,1345.65 L389.97,1346.43 L390.92,1347.15 L391.87,1347.80 L392.81,1348.40 L393.76,1348.95 L394.71,1349.45 L395.65,1349.91 L396.60,1350.32 L397.55,1350.70 L398.49,1351.05 L399.44,1351.37 L400.39,1351.65 L401.33,1351.92 L402.28,1352.16 L403.23,1352.38 L404.18,1352.59 L405.12,1352.77 L406.07,1352.94 L407.02,1353.10 L407.96,1353.25 L408.91,1353.39 L409.86,1353.51 L410.80,1353.63 L411.75,1353.74 L412.70,1353.84 L413.65,1353.94 L414.59,1354.03 L415.54,1354.11 L416.49,1354.19 L417.43,1354.27 L418.38,1354.34 L419.33,1354.41 L420.27,1354.48 L421.22,1354.54 L422.17,1354.60 L423.12,1354.66 L424.06,1354.71 L425.01,1354.76 L425.96,1354.81 L426.90,1354.86 L427.85,1354.91 L428.80,1354.95 L429.75,1354.99 L430.69,1355.03 L431.64,1355.07 L432.59,1355.11 L433.53,1355.15 L434.48,1355.18 L435.43,1355.22 L436.37,1355.25 L437.32,1355.28 L438.27,1355.31 L439.21,1355.34 L440.16,1355.37 L441.11,1355.40 L442.06,1355.43 L443.00,1355.46 L443.95,1355.48 L444.90,1355.51 L445.84,1355.53 L446.79,1355.55 L447.74,1355.58 L448.68,1355.60 L449.63,1355.62 L450.58,1355.64 L451.53,1355.66 L452.47,1355.68 L453.42,1355.70 L454.37,1355.72 L455.31,1355.73 L456.26,1355.75 L457.21,1355.77 L458.15,1355.79 L459.10,1355.80 L460.05,1355.82 L461.00,1355.83 L461.94,1355.85 L462.89,1355.86 L463.84,1355.87 L464.78,1355.89 L465.73,1355.90 L466.68,1355.91 L467.62,1355.92 L468.57,1355.93 L469.52,1355.94 L470.47,1355.95 L471.41,1355.95 L472.36,1355.95 L473.31,1355.95 L474.25,1355.95 L475.20,1355.94 L476.15,1355.93 L477.10,1355.91 L478.04,1355.88 L478.99,1355.84 L479.94,1355.79 L480.88,1355.73 L481.83,1355.64 L482.78,1355.54 L483.72,1355.42 L484.67,1355.26 L485.62,1355.08 L486.56,1354.86 L487.51,1354.59 L488.46,1354.28 L489.41,1353.92 L490.35,1353.50 L491.30,1353.02 L492.25,1352.48 L493.19,1351.85 L494.14,1351.16 L495.09,1350.38 L496.03,1349.51 L496.98,1348.57 L497.93,1347.54 L498.88,1346.42 L499.82,1345.23 L500.77,1343.97 L501.72,1342.63 L502.66,1341.24 L503.61,1339.81 L504.56,1338.34 L505.50,1336.85 L506.45,1335.37 L507.40,1333.90 L508.35,1332.48 L509.29,1331.10 L510.24,1329.81 L511.19,1328.61 L512.13,1327.53 L513.08,1326.59 L514.03,1325.79 L514.98,1325.15 L515.92,1324.69 L516.87,1324.42 L517.82,1324.33 L518.76,1324.43 L519.71,1324.71 L520.66,1325.18 L521.60,1325.82 L522.55,1326.63 L523.50,1327.58 L524.44,1328.67 L525.39,1329.88 L526.34,1331.18 L527.29,1332.56 L528.23,1334.00 L529.18,1335.47 L530.13,1336.97 L531.07,1338.46 L532.02,1339.94 L532.97,1341.38 L533.91,1342.78 L534.86,1344.12 L535.81,1345.40 L536.76,1346.60 L537.70,1347.72 L538.65,1348.76 L539.60,1349.72 L540.54,1350.59 L541.49,1351.38 L542.44,1352.09 L543.38,1352.72 L544.33,1353.28 L545.28,1353.77 L546.23,1354.20 L547.17,1354.57 L548.12,1354.89 L549.07,1355.16 L550.01,1355.39 L550.96,1355.59 L551.91,1355.75 L552.86,1355.89 L553.80,1356.00 L554.75,1356.09 L555.70,1356.17 L556.64,1356.23 L557.59,1356.28 L558.54,1356.32 L559.48,1356.36 L560.43,1356.38 L561.38,1356.40 L562.33,1356.42 L563.27,1356.44 L564.22,1356.45 L565.17,1356.45 L566.11,1356.46 L567.06,1356.47 L568.01,1356.47 L568.95,1356.48 L569.90,1356.48 L570.85,1356.48 L571.80,1356.49 L572.74,1356.49 L573.69,1356.49 L574.64,1356.49 L575.58,1356.49 L576.53,1356.50 L577.48,1356.50 L578.42,1356.50 L579.37,1356.50 L580.32,1356.50 L581.26,1356.50 L582.21,1356.51 L583.16,1356.51 L584.11,1356.51 L585.05,1356.51 L586.00,1356.51" fill="none" stroke="#8060e8" stroke-width="3.3" stroke-linejoin="round"/>
<rect x="301.9" y="1145.5" width="284.1" height="212.4000000000001" fill="none" stroke="#c01818" stroke-width="2" stroke-dasharray="7,5"/>
<text x="301.90" y="1390.50" font-size="21" fill="#000" text-anchor="middle">400</text>
<text x="396.60" y="1390.50" font-size="21" fill="#000" text-anchor="middle">500</text>
<text x="491.30" y="1390.50" font-size="21" fill="#000" text-anchor="middle">600</text>
<text x="586.00" y="1390.50" font-size="21" fill="#000" text-anchor="middle">700</text>
<line x1="452" y1="1435.75" x2="452" y2="1404" stroke="#c00000" stroke-width="2"/>
<path d="M452,1389.4 L444,1404 L460,1404 Z" fill="#c00000"/>
<text x="202.60" y="1150.00" font-size="24.5" fill="#4a10a0" font-weight="bold" text-anchor="start" textLength="50" lengthAdjust="spacingAndGlyphs">6.0V</text>
<text x="202.60" y="1180.00" font-size="24.5" fill="#5a10d8" font-weight="bold" text-anchor="start" textLength="50" lengthAdjust="spacingAndGlyphs">5.0V</text>
<text x="202.60" y="1210.00" font-size="24.5" fill="#8a40e8" font-weight="bold" text-anchor="start" textLength="50" lengthAdjust="spacingAndGlyphs">4.0V</text>
<text x="202.60" y="1240.00" font-size="24.5" fill="#7a60e0" font-weight="bold" text-anchor="start" textLength="50" lengthAdjust="spacingAndGlyphs">3.2V</text>
<text x="202.60" y="1270.00" font-size="24.5" fill="#c060e0" font-weight="bold" text-anchor="start" textLength="50" lengthAdjust="spacingAndGlyphs">3.0V</text>
<text x="202.60" y="1300.00" font-size="24.5" fill="#c0a0f0" font-weight="bold" text-anchor="start" textLength="50" lengthAdjust="spacingAndGlyphs">2.8V</text>
<text x="503.70" y="1185.00" font-size="23.5" fill="#8060e8" text-anchor="start" textLength="50" lengthAdjust="spacingAndGlyphs" stroke="#8060e8" stroke-width="0.9">3.2V</text>
<text x="503.70" y="1214.80" font-size="23.5" fill="#c060e0" text-anchor="start" textLength="50" lengthAdjust="spacingAndGlyphs" stroke="#c060e0" stroke-width="0.9">3.0V</text>
<text x="503.70" y="1244.60" font-size="23.5" fill="#c0a0f0" text-anchor="start" textLength="50" lengthAdjust="spacingAndGlyphs" stroke="#c0a0f0" stroke-width="0.9">2.8V</text>
<text x="59.00" y="1489.50" font-size="23.5" fill="#000" text-anchor="middle" textLength="40" lengthAdjust="spacingAndGlyphs">400</text>
<text x="247.67" y="1489.50" font-size="23.5" fill="#000" text-anchor="middle" textLength="40" lengthAdjust="spacingAndGlyphs">500</text>
<text x="436.33" y="1489.50" font-size="23.5" fill="#000" text-anchor="middle" textLength="40" lengthAdjust="spacingAndGlyphs">600</text>
<text x="625.00" y="1489.50" font-size="23.5" fill="#000" text-anchor="middle" textLength="40" lengthAdjust="spacingAndGlyphs">700</text>
<text x="232.00" y="1529.60" font-size="29" fill="#000" text-anchor="start" textLength="218.5" lengthAdjust="spacingAndGlyphs">Wavelength (nm)</text>
<text transform="translate(23.3,1349.8) rotate(-90)" font-size="28.5" fill="#000" textLength="181" lengthAdjust="spacingAndGlyphs">Intensity (a.u.)</text>
<text x="3.80" y="1066.60" font-size="46.5" fill="#000" font-weight="bold" text-anchor="start">c</text>
<rect x="791.6" y="14.4" width="590.8000000000001" height="920.8000000000001" fill="none" stroke="#000" stroke-width="2.6"/>
<line x1="890.07" y1="935.2" x2="890.07" y2="927.7" stroke="#000" stroke-width="2.2"/>
<line x1="988.53" y1="935.2" x2="988.53" y2="927.7" stroke="#000" stroke-width="2.2"/>
<line x1="1087.00" y1="935.2" x2="1087.00" y2="927.7" stroke="#000" stroke-width="2.2"/>
<line x1="1185.47" y1="935.2" x2="1185.47" y2="927.7" stroke="#000" stroke-width="2.2"/>
<line x1="1283.93" y1="935.2" x2="1283.93" y2="927.7" stroke="#000" stroke-width="2.2"/>
<path d="M791.50,300.00 C791.17,297.17 788.78,289.00 789.50,283.00 C790.22,277.00 792.33,271.83 795.80,264.00 C799.27,256.17 802.58,247.00 810.30,236.00 C818.02,225.00 825.72,211.83 842.10,198.00 C858.48,184.17 880.15,165.95 908.60,153.00 C937.05,140.05 976.75,126.72 1012.80,120.30 C1048.85,113.88 1092.88,114.35 1124.90,114.50 C1156.92,114.65 1184.02,121.30 1204.90,121.20 C1225.78,121.10 1237.70,121.97 1250.20,113.90 C1262.70,105.83 1274.95,79.65 1279.90,72.80" fill="none" stroke="#1515e2" stroke-width="2.8" stroke-linejoin="round"/>
<path d="M791.50,302.00 C792.33,297.83 794.92,284.33 796.50,277.00 C798.08,269.67 799.42,261.17 801.00,258.00 C802.58,254.83 802.10,262.50 806.00,258.00 C809.90,253.50 814.58,241.27 824.40,231.00 C834.22,220.73 845.63,207.23 864.90,196.40 C884.17,185.57 910.48,172.98 940.00,166.00 C969.52,159.02 1009.10,153.28 1042.00,154.50 C1074.90,155.72 1110.90,164.72 1137.40,173.30 C1163.90,181.88 1185.07,195.23 1201.00,206.00 C1216.93,216.77 1224.83,228.57 1233.00,237.90 C1241.17,247.23 1246.50,255.90 1250.00,262.00 C1253.50,268.10 1252.50,271.17 1254.00,274.50 C1255.50,277.83 1257.50,279.92 1259.00,282.00 C1260.50,284.08 1261.67,287.17 1263.00,287.00 C1264.33,286.83 1265.43,284.17 1267.00,281.00 C1268.57,277.83 1270.70,273.58 1272.40,268.00 C1274.10,262.42 1275.27,255.90 1277.20,247.50 C1279.13,239.10 1282.55,230.45 1284.00,217.60 C1285.45,204.75 1285.30,190.28 1285.90,170.40 C1286.50,150.52 1287.32,110.32 1287.60,98.30" fill="none" stroke="#1515e2" stroke-width="2.8" stroke-dasharray="8,4.5" stroke-linejoin="round"/>
<path d="M791.50,436.00 C791.25,433.00 789.18,423.42 790.00,418.00 C790.82,412.58 793.40,409.58 796.40,403.50 C799.40,397.42 801.63,390.80 808.00,381.50 C814.37,372.20 821.03,359.37 834.60,347.70 C848.17,336.03 864.85,322.03 889.40,311.50 C913.95,300.97 948.50,288.85 981.90,284.50 C1015.30,280.15 1057.62,280.90 1089.80,285.40 C1121.98,289.90 1152.77,302.02 1175.00,311.50 C1197.23,320.98 1211.15,333.78 1223.20,342.30 C1235.25,350.82 1241.35,357.77 1247.30,362.60 C1253.25,367.43 1255.52,370.98 1258.90,371.30 C1262.28,371.62 1265.57,368.85 1267.60,364.50 C1269.63,360.15 1269.50,355.00 1271.10,345.20 C1272.70,335.40 1274.45,323.00 1277.20,305.70 C1279.95,288.40 1285.87,252.12 1287.60,241.40" fill="none" stroke="#1515e2" stroke-width="2.8" stroke-linejoin="round"/>
<path d="M791.50,437.00 C791.70,433.58 792.07,421.83 792.70,416.50 C793.33,411.17 793.42,409.17 795.30,405.00 C797.18,400.83 799.48,397.93 804.00,391.50 C808.52,385.07 812.90,376.05 822.40,366.40 C831.90,356.75 842.67,344.52 861.00,333.60 C879.33,322.68 904.12,308.45 932.40,300.90 C960.68,293.35 998.13,287.67 1030.70,288.30 C1063.27,288.93 1100.85,296.82 1127.80,304.70 C1154.75,312.58 1175.53,325.15 1192.40,335.60 C1209.27,346.05 1220.17,358.08 1229.00,367.40 C1237.83,376.72 1241.53,384.75 1245.40,391.50 C1249.27,398.25 1250.27,403.82 1252.20,407.90 C1254.13,411.98 1255.40,413.58 1257.00,416.00 C1258.60,418.42 1260.30,423.07 1261.80,422.40 C1263.30,421.73 1264.23,416.02 1266.00,412.00 C1267.77,407.98 1270.37,403.63 1272.40,398.30 C1274.43,392.97 1276.27,385.63 1278.20,380.00 C1280.13,374.37 1282.87,369.33 1284.00,364.50 C1285.13,359.67 1284.52,361.12 1285.00,351.00 C1285.48,340.88 1286.10,324.90 1286.90,303.80 C1287.70,282.70 1289.32,237.63 1289.80,224.40" fill="none" stroke="#1515e2" stroke-width="2.8" stroke-dasharray="8,4.5" stroke-linejoin="round"/>
<path d="M791.50,565.00 C791.33,562.17 789.68,552.75 790.50,548.00 C791.32,543.25 793.65,541.30 796.40,536.50 C799.15,531.70 801.53,526.90 807.00,519.20 C812.47,511.50 818.12,500.50 829.20,490.30 C840.28,480.10 853.25,468.20 873.50,458.00 C893.75,447.80 921.45,435.37 950.70,429.10 C979.95,422.83 1016.28,418.32 1049.00,420.40 C1081.72,422.48 1121.18,432.85 1147.00,441.60 C1172.82,450.35 1189.10,463.02 1203.90,472.90 C1218.70,482.78 1227.92,492.87 1235.80,500.90 C1243.68,508.93 1247.50,515.75 1251.20,521.10 C1254.90,526.45 1256.20,529.85 1258.00,533.00 C1259.80,536.15 1260.42,543.22 1262.00,540.00 C1263.58,536.78 1265.85,522.33 1267.50,513.70 C1269.15,505.07 1270.15,499.63 1271.90,488.20 C1273.65,476.77 1276.32,461.47 1278.00,445.10 C1279.68,428.73 1281.33,399.18 1282.00,390.00" fill="none" stroke="#1515e2" stroke-width="2.8" stroke-linejoin="round"/>
<path d="M791.50,566.00 C791.92,562.50 792.38,551.03 794.00,545.00 C795.62,538.97 797.43,536.52 801.20,529.80 C804.97,523.08 808.72,513.70 816.60,504.70 C824.48,495.70 833.07,486.32 848.50,475.80 C863.93,465.28 883.97,450.50 909.20,441.60 C934.43,432.70 968.52,424.17 999.90,422.40 C1031.28,420.63 1068.80,424.73 1097.50,431.00 C1126.20,437.27 1152.43,449.97 1172.10,460.00 C1191.77,470.03 1204.57,481.65 1215.50,491.20 C1226.43,500.75 1232.72,510.23 1237.70,517.30 C1242.68,524.37 1243.02,528.98 1245.40,533.60 C1247.78,538.22 1249.65,541.13 1252.00,545.00 C1254.35,548.87 1257.33,556.30 1259.50,556.80 C1261.67,557.30 1263.02,552.18 1265.00,548.00 C1266.98,543.82 1268.93,537.87 1271.40,531.70 C1273.87,525.53 1277.82,519.28 1279.80,511.00 C1281.78,502.72 1281.98,490.63 1283.30,482.00 C1284.62,473.37 1286.97,466.95 1287.70,459.20 C1288.43,451.45 1287.57,450.37 1287.70,435.50 C1287.83,420.63 1288.37,380.92 1288.50,370.00" fill="none" stroke="#1515e2" stroke-width="2.8" stroke-dasharray="8,4.5" stroke-linejoin="round"/>
<path d="M791.50,665.00 C791.42,662.50 789.87,654.22 791.00,650.00 C792.13,645.78 795.32,644.30 798.30,639.70 C801.28,635.10 803.75,629.30 808.90,622.40 C814.05,615.50 819.55,607.30 829.20,598.30 C838.85,589.30 849.60,578.37 866.80,568.40 C884.00,558.43 906.05,545.57 932.40,538.50 C958.75,531.43 993.95,526.17 1024.90,526.00 C1055.85,525.83 1091.15,530.77 1118.10,537.50 C1145.05,544.23 1169.08,556.43 1186.60,566.40 C1204.12,576.37 1214.20,588.30 1223.20,597.30 C1232.20,606.30 1235.62,614.30 1240.60,620.40 C1245.58,626.50 1250.20,629.80 1253.10,633.90 C1256.00,638.00 1256.52,642.32 1258.00,645.00 C1259.48,647.68 1260.08,654.73 1262.00,650.00 C1263.92,645.27 1267.60,626.83 1269.50,616.60 C1271.40,606.37 1271.68,600.48 1273.40,588.60 C1275.12,576.72 1276.87,564.07 1279.80,545.30 C1282.73,526.53 1289.13,487.55 1291.00,476.00" fill="none" stroke="#1515e2" stroke-width="2.8" stroke-linejoin="round"/>
<path d="M791.50,666.00 C792.08,662.67 793.07,652.32 795.00,646.00 C796.93,639.68 799.17,634.28 803.10,628.10 C807.03,621.92 811.03,616.92 818.60,608.90 C826.17,600.88 834.52,589.82 848.50,580.00 C862.48,570.18 879.37,558.37 902.50,550.00 C925.63,541.63 958.43,532.37 987.30,529.80 C1016.17,527.23 1048.75,529.78 1075.70,534.60 C1102.65,539.42 1128.92,550.18 1149.00,558.70 C1169.08,567.22 1184.32,577.02 1196.20,585.70 C1208.08,594.38 1213.87,603.40 1220.30,610.80 C1226.73,618.20 1230.68,624.90 1234.80,630.10 C1238.92,635.30 1242.13,638.68 1245.00,642.00 C1247.87,645.32 1249.85,647.83 1252.00,650.00 C1254.15,652.17 1255.90,655.33 1257.90,655.00 C1259.90,654.67 1262.07,651.18 1264.00,648.00 C1265.93,644.82 1266.97,642.10 1269.50,635.90 C1272.03,629.70 1276.63,619.80 1279.20,610.80 C1281.77,601.80 1283.20,594.42 1284.90,581.90 C1286.60,569.38 1288.75,551.02 1289.40,535.70 C1290.05,520.38 1288.90,497.62 1288.80,490.00" fill="none" stroke="#1515e2" stroke-width="2.8" stroke-dasharray="8,4.5" stroke-linejoin="round"/>
<path d="M793.80,792.50 C794.17,790.92 794.97,786.25 796.00,783.00 C797.03,779.75 797.20,777.43 800.00,773.00 C802.80,768.57 807.13,762.38 812.80,756.40 C818.47,750.42 824.83,744.17 834.00,737.10 C843.17,730.03 852.85,721.38 867.80,714.00 C882.75,706.62 902.75,698.42 923.70,692.80 C944.65,687.18 969.35,681.37 993.50,680.30 C1017.65,679.23 1045.17,682.17 1068.60,686.40 C1092.03,690.63 1117.07,699.27 1134.10,705.70 C1151.13,712.13 1160.50,718.57 1170.80,725.00 C1181.10,731.43 1189.37,739.30 1195.90,744.30 C1202.43,749.30 1205.65,751.22 1210.00,755.00 C1214.35,758.78 1217.83,762.83 1222.00,767.00 C1226.17,771.17 1230.83,776.17 1235.00,780.00 C1239.17,783.83 1243.23,787.77 1247.00,790.00 C1250.77,792.23 1254.55,795.40 1257.60,793.40 C1260.65,791.40 1263.38,785.72 1265.30,778.00 C1267.22,770.28 1267.82,756.58 1269.10,747.10 C1270.38,737.62 1271.38,732.50 1273.00,721.10 C1274.62,709.70 1276.65,696.77 1278.80,678.70 C1280.95,660.63 1284.72,623.70 1285.90,612.70" fill="none" stroke="#1515e2" stroke-width="2.8" stroke-linejoin="round"/>
<path d="M794.50,787.00 C795.00,785.50 796.42,780.83 797.50,778.00 C798.58,775.17 799.73,772.32 801.00,770.00 C802.27,767.68 801.85,768.28 805.10,764.10 C808.35,759.92 813.43,751.48 820.50,744.90 C827.57,738.32 835.60,731.35 847.50,724.60 C859.40,717.85 874.70,710.50 891.90,704.40 C909.10,698.30 928.58,691.55 950.70,688.00 C972.82,684.45 1000.93,682.25 1024.60,683.10 C1048.27,683.95 1072.83,687.73 1092.70,693.10 C1112.57,698.47 1129.33,708.70 1143.80,715.30 C1158.27,721.90 1169.53,727.07 1179.50,732.70 C1189.47,738.33 1197.35,744.45 1203.60,749.10 C1209.85,753.75 1213.15,756.75 1217.00,760.60 C1220.85,764.45 1223.15,768.33 1226.70,772.20 C1230.25,776.07 1234.75,780.83 1238.30,783.80 C1241.85,786.77 1244.78,788.40 1248.00,790.00 C1251.22,791.60 1254.60,794.40 1257.60,793.40 C1260.60,792.40 1263.75,789.47 1266.00,784.00 C1268.25,778.53 1268.97,767.38 1271.10,760.60 C1273.23,753.82 1276.55,751.17 1278.80,743.30 C1281.05,735.43 1283.32,721.12 1284.60,713.40 C1285.88,705.68 1285.87,702.30 1286.50,697.00 C1287.13,691.70 1288.02,698.27 1288.40,681.60 C1288.78,664.93 1288.73,611.10 1288.80,597.00" fill="none" stroke="#1515e2" stroke-width="2.8" stroke-dasharray="8,4.5" stroke-linejoin="round"/>
<path d="M824.40,843.20 C830.33,839.83 845.80,828.53 860.00,823.00 C874.20,817.47 892.88,812.17 909.60,810.00 C926.32,807.83 943.82,809.12 960.30,810.00 C976.78,810.88 993.83,814.20 1008.50,815.30 C1023.17,816.40 1034.92,815.75 1048.30,816.60 C1061.68,817.45 1075.78,818.00 1088.80,820.40 C1101.82,822.80 1114.98,827.78 1126.40,831.00 C1137.82,834.22 1148.45,836.63 1157.30,839.70 C1166.15,842.77 1172.55,846.02 1179.50,849.40 C1186.45,852.78 1193.42,856.90 1199.00,860.00 C1204.58,863.10 1208.33,865.33 1213.00,868.00 C1217.67,870.67 1222.17,873.33 1227.00,876.00 C1231.83,878.67 1236.90,881.37 1242.00,884.00 C1247.10,886.63 1253.40,892.75 1257.60,891.80 C1261.80,890.85 1265.28,885.70 1267.20,878.30 C1269.12,870.90 1267.97,857.53 1269.10,847.40 C1270.23,837.27 1272.52,827.07 1274.00,817.50 C1275.48,807.93 1276.83,801.25 1278.00,790.00 C1279.17,778.75 1280.50,756.67 1281.00,750.00" fill="none" stroke="#1515e2" stroke-width="2.8" stroke-linejoin="round"/>
<path d="M848.50,829.70 C855.82,826.82 875.53,815.93 892.40,812.40 C909.27,808.87 931.95,808.50 949.70,808.50 C967.45,808.50 984.55,810.08 998.90,812.40 C1013.25,814.72 1024.35,819.78 1035.80,822.40 C1047.25,825.02 1056.35,826.33 1067.60,828.10 C1078.85,829.87 1091.73,831.38 1103.30,833.00 C1114.87,834.62 1127.03,835.55 1137.00,837.80 C1146.97,840.05 1155.22,843.28 1163.10,846.50 C1170.98,849.72 1178.20,854.37 1184.30,857.10 C1190.40,859.83 1194.88,860.65 1199.70,862.90 C1204.52,865.15 1208.70,868.03 1213.20,870.60 C1217.70,873.17 1221.88,875.73 1226.70,878.30 C1231.52,880.87 1237.88,883.88 1242.10,886.00 C1246.32,888.12 1249.42,889.83 1252.00,891.00 C1254.58,892.17 1255.60,893.50 1257.60,893.00 C1259.60,892.50 1261.75,893.02 1264.00,888.00 C1266.25,882.98 1268.32,870.95 1271.10,862.90 C1273.88,854.85 1278.62,848.55 1280.70,839.70 C1282.78,830.85 1282.47,823.13 1283.60,809.80 C1284.73,796.47 1286.70,778.00 1287.50,759.70 C1288.30,741.40 1288.25,709.95 1288.40,700.00" fill="none" stroke="#1515e2" stroke-width="2.8" stroke-dasharray="8,4.5" stroke-linejoin="round"/>
<path d="M789.50,273.80 L798.70,283.00 L789.50,292.20 L780.30,283.00 Z" fill="#fff" stroke="#12129e" stroke-width="2.2"/>
<path d="M795.80,254.80 L805.00,264.00 L795.80,273.20 L786.60,264.00 Z" fill="#fff" stroke="#12129e" stroke-width="2.2"/>
<path d="M810.30,226.80 L819.50,236.00 L810.30,245.20 L801.10,236.00 Z" fill="#fff" stroke="#12129e" stroke-width="2.2"/>
<path d="M842.10,188.80 L851.30,198.00 L842.10,207.20 L832.90,198.00 Z" fill="#fff" stroke="#12129e" stroke-width="2.2"/>
<path d="M908.60,143.80 L917.80,153.00 L908.60,162.20 L899.40,153.00 Z" fill="#fff" stroke="#12129e" stroke-width="2.2"/>
<path d="M1012.80,111.10 L1022.00,120.30 L1012.80,129.50 L1003.60,120.30 Z" fill="#fff" stroke="#12129e" stroke-width="2.2"/>
<path d="M1124.90,105.30 L1134.10,114.50 L1124.90,123.70 L1115.70,114.50 Z" fill="#fff" stroke="#12129e" stroke-width="2.2"/>
<path d="M1204.90,112.00 L1214.10,121.20 L1204.90,130.40 L1195.70,121.20 Z" fill="#fff" stroke="#12129e" stroke-width="2.2"/>
<path d="M1250.20,104.70 L1259.40,113.90 L1250.20,123.10 L1241.00,113.90 Z" fill="#fff" stroke="#12129e" stroke-width="2.2"/>
<path d="M1279.90,63.60 L1289.10,72.80 L1279.90,82.00 L1270.70,72.80 Z" fill="#fff" stroke="#12129e" stroke-width="2.2"/>
<path d="M796.50,267.80 L805.70,277.00 L796.50,286.20 L787.30,277.00 Z" fill="rgba(0,0,255,0.5)" stroke="#12129e" stroke-width="2.2"/>
<path d="M801.00,248.80 L810.20,258.00 L801.00,267.20 L791.80,258.00 Z" fill="rgba(0,0,255,0.5)" stroke="#12129e" stroke-width="2.2"/>
<path d="M806.00,248.80 L815.20,258.00 L806.00,267.20 L796.80,258.00 Z" fill="rgba(0,0,255,0.5)" stroke="#12129e" stroke-width="2.2"/>
<path d="M824.40,221.80 L833.60,231.00 L824.40,240.20 L815.20,231.00 Z" fill="rgba(0,0,255,0.5)" stroke="#12129e" stroke-width="2.2"/>
<path d="M864.90,187.20 L874.10,196.40 L864.90,205.60 L855.70,196.40 Z" fill="rgba(0,0,255,0.5)" stroke="#12129e" stroke-width="2.2"/>
<path d="M940.00,156.80 L949.20,166.00 L940.00,175.20 L930.80,166.00 Z" fill="rgba(0,0,255,0.5)" stroke="#12129e" stroke-width="2.2"/>
<path d="M1042.00,145.30 L1051.20,154.50 L1042.00,163.70 L1032.80,154.50 Z" fill="rgba(0,0,255,0.5)" stroke="#12129e" stroke-width="2.2"/>
<path d="M1137.40,164.10 L1146.60,173.30 L1137.40,182.50 L1128.20,173.30 Z" fill="rgba(0,0,255,0.5)" stroke="#12129e" stroke-width="2.2"/>
<path d="M1201.00,196.80 L1210.20,206.00 L1201.00,215.20 L1191.80,206.00 Z" fill="rgba(0,0,255,0.5)" stroke="#12129e" stroke-width="2.2"/>
<path d="M1233.00,228.70 L1242.20,237.90 L1233.00,247.10 L1223.80,237.90 Z" fill="rgba(0,0,255,0.5)" stroke="#12129e" stroke-width="2.2"/>
<path d="M1250.00,252.80 L1259.20,262.00 L1250.00,271.20 L1240.80,262.00 Z" fill="rgba(0,0,255,0.5)" stroke="#12129e" stroke-width="2.2"/>
<path d="M1254.00,265.30 L1263.20,274.50 L1254.00,283.70 L1244.80,274.50 Z" fill="rgba(0,0,255,0.5)" stroke="#12129e" stroke-width="2.2"/>
<path d="M1259.00,272.80 L1268.20,282.00 L1259.00,291.20 L1249.80,282.00 Z" fill="rgba(0,0,255,0.5)" stroke="#12129e" stroke-width="2.2"/>
<path d="M1263.00,277.80 L1272.20,287.00 L1263.00,296.20 L1253.80,287.00 Z" fill="rgba(0,0,255,0.5)" stroke="#12129e" stroke-width="2.2"/>
<path d="M1267.00,271.80 L1276.20,281.00 L1267.00,290.20 L1257.80,281.00 Z" fill="rgba(0,0,255,0.5)" stroke="#12129e" stroke-width="2.2"/>
<path d="M1272.40,258.80 L1281.60,268.00 L1272.40,277.20 L1263.20,268.00 Z" fill="rgba(0,0,255,0.5)" stroke="#12129e" stroke-width="2.2"/>
<path d="M1277.20,238.30 L1286.40,247.50 L1277.20,256.70 L1268.00,247.50 Z" fill="rgba(0,0,255,0.5)" stroke="#12129e" stroke-width="2.2"/>
<path d="M1284.00,208.40 L1293.20,217.60 L1284.00,226.80 L1274.80,217.60 Z" fill="rgba(0,0,255,0.5)" stroke="#12129e" stroke-width="2.2"/>
<path d="M1285.90,161.20 L1295.10,170.40 L1285.90,179.60 L1276.70,170.40 Z" fill="rgba(0,0,255,0.5)" stroke="#12129e" stroke-width="2.2"/>
<path d="M1287.60,89.10 L1296.80,98.30 L1287.60,107.50 L1278.40,98.30 Z" fill="rgba(0,0,255,0.5)" stroke="#12129e" stroke-width="2.2"/>
<path d="M791.5,282.7 L801.8,293 L801.8,306.5 L791.5,316.8 L781.2,306.5 L781.2,293 Z" fill="#0c0cf2" stroke="#12129e" stroke-width="1.6"/>
<path d="M1257.00,270.80 L1266.20,280.00 L1257.00,289.20 L1247.80,280.00 Z" fill="#0c0cf2" stroke="#12129e" stroke-width="2.2"/>
<path d="M1266.00,271.80 L1275.20,281.00 L1266.00,290.20 L1256.80,281.00 Z" fill="#0c0cf2" stroke="#12129e" stroke-width="2.2"/>
<path d="M1261.00,274.80 L1270.20,284.00 L1261.00,293.20 L1251.80,284.00 Z" fill="#0c0cf2" stroke="#12129e" stroke-width="2.2"/>
<path d="M1267.00,277.80 L1276.20,287.00 L1267.00,296.20 L1257.80,287.00 Z" fill="#0c0cf2" stroke="#12129e" stroke-width="2.2"/>
<path d="M1263.00,279.80 L1272.20,289.00 L1263.00,298.20 L1253.80,289.00 Z" fill="#0c0cf2" stroke="#12129e" stroke-width="2.2"/>
<path d="M1259.00,275.80 L1268.20,285.00 L1259.00,294.20 L1249.80,285.00 Z" fill="#0c0cf2" stroke="#12129e" stroke-width="2.2"/>
<path d="M790.00,408.80 L799.20,418.00 L790.00,427.20 L780.80,418.00 Z" fill="#fff" stroke="#12129e" stroke-width="2.2"/>
<path d="M796.40,394.30 L805.60,403.50 L796.40,412.70 L787.20,403.50 Z" fill="#fff" stroke="#12129e" stroke-width="2.2"/>
<path d="M808.00,372.30 L817.20,381.50 L808.00,390.70 L798.80,381.50 Z" fill="#fff" stroke="#12129e" stroke-width="2.2"/>
<path d="M834.60,338.50 L843.80,347.70 L834.60,356.90 L825.40,347.70 Z" fill="#fff" stroke="#12129e" stroke-width="2.2"/>
<path d="M889.40,302.30 L898.60,311.50 L889.40,320.70 L880.20,311.50 Z" fill="#fff" stroke="#12129e" stroke-width="2.2"/>
<path d="M981.90,275.30 L991.10,284.50 L981.90,293.70 L972.70,284.50 Z" fill="#fff" stroke="#12129e" stroke-width="2.2"/>
<path d="M1089.80,276.20 L1099.00,285.40 L1089.80,294.60 L1080.60,285.40 Z" fill="#fff" stroke="#12129e" stroke-width="2.2"/>
<path d="M1175.00,302.30 L1184.20,311.50 L1175.00,320.70 L1165.80,311.50 Z" fill="#fff" stroke="#12129e" stroke-width="2.2"/>
<path d="M1223.20,333.10 L1232.40,342.30 L1223.20,351.50 L1214.00,342.30 Z" fill="#fff" stroke="#12129e" stroke-width="2.2"/>
<path d="M1247.30,353.40 L1256.50,362.60 L1247.30,371.80 L1238.10,362.60 Z" fill="#fff" stroke="#12129e" stroke-width="2.2"/>
<path d="M1258.90,362.10 L1268.10,371.30 L1258.90,380.50 L1249.70,371.30 Z" fill="#fff" stroke="#12129e" stroke-width="2.2"/>
<path d="M1267.60,355.30 L1276.80,364.50 L1267.60,373.70 L1258.40,364.50 Z" fill="#fff" stroke="#12129e" stroke-width="2.2"/>
<path d="M1271.10,336.00 L1280.30,345.20 L1271.10,354.40 L1261.90,345.20 Z" fill="#fff" stroke="#12129e" stroke-width="2.2"/>
<path d="M1277.20,296.50 L1286.40,305.70 L1277.20,314.90 L1268.00,305.70 Z" fill="#fff" stroke="#12129e" stroke-width="2.2"/>
<path d="M1287.60,232.20 L1296.80,241.40 L1287.60,250.60 L1278.40,241.40 Z" fill="#fff" stroke="#12129e" stroke-width="2.2"/>
<path d="M792.70,407.30 L801.90,416.50 L792.70,425.70 L783.50,416.50 Z" fill="rgba(0,0,255,0.5)" stroke="#12129e" stroke-width="2.2"/>
<path d="M795.30,395.80 L804.50,405.00 L795.30,414.20 L786.10,405.00 Z" fill="rgba(0,0,255,0.5)" stroke="#12129e" stroke-width="2.2"/>
<path d="M804.00,382.30 L813.20,391.50 L804.00,400.70 L794.80,391.50 Z" fill="rgba(0,0,255,0.5)" stroke="#12129e" stroke-width="2.2"/>
<path d="M822.40,357.20 L831.60,366.40 L822.40,375.60 L813.20,366.40 Z" fill="rgba(0,0,255,0.5)" stroke="#12129e" stroke-width="2.2"/>
<path d="M861.00,324.40 L870.20,333.60 L861.00,342.80 L851.80,333.60 Z" fill="rgba(0,0,255,0.5)" stroke="#12129e" stroke-width="2.2"/>
<path d="M932.40,291.70 L941.60,300.90 L932.40,310.10 L923.20,300.90 Z" fill="rgba(0,0,255,0.5)" stroke="#12129e" stroke-width="2.2"/>
<path d="M1030.70,279.10 L1039.90,288.30 L1030.70,297.50 L1021.50,288.30 Z" fill="rgba(0,0,255,0.5)" stroke="#12129e" stroke-width="2.2"/>
<path d="M1127.80,295.50 L1137.00,304.70 L1127.80,313.90 L1118.60,304.70 Z" fill="rgba(0,0,255,0.5)" stroke="#12129e" stroke-width="2.2"/>
<path d="M1192.40,326.40 L1201.60,335.60 L1192.40,344.80 L1183.20,335.60 Z" fill="rgba(0,0,255,0.5)" stroke="#12129e" stroke-width="2.2"/>
<path d="M1229.00,358.20 L1238.20,367.40 L1229.00,376.60 L1219.80,367.40 Z" fill="rgba(0,0,255,0.5)" stroke="#12129e" stroke-width="2.2"/>
<path d="M1245.40,382.30 L1254.60,391.50 L1245.40,400.70 L1236.20,391.50 Z" fill="rgba(0,0,255,0.5)" stroke="#12129e" stroke-width="2.2"/>
<path d="M1252.20,398.70 L1261.40,407.90 L1252.20,417.10 L1243.00,407.90 Z" fill="rgba(0,0,255,0.5)" stroke="#12129e" stroke-width="2.2"/>
<path d="M1257.00,406.80 L1266.20,416.00 L1257.00,425.20 L1247.80,416.00 Z" fill="rgba(0,0,255,0.5)" stroke="#12129e" stroke-width="2.2"/>
<path d="M1261.80,413.20 L1271.00,422.40 L1261.80,431.60 L1252.60,422.40 Z" fill="rgba(0,0,255,0.5)" stroke="#12129e" stroke-width="2.2"/>
<path d="M1266.00,402.80 L1275.20,412.00 L1266.00,421.20 L1256.80,412.00 Z" fill="rgba(0,0,255,0.5)" stroke="#12129e" stroke-width="2.2"/>
<path d="M1272.40,389.10 L1281.60,398.30 L1272.40,407.50 L1263.20,398.30 Z" fill="rgba(0,0,255,0.5)" stroke="#12129e" stroke-width="2.2"/>
<path d="M1278.20,370.80 L1287.40,380.00 L1278.20,389.20 L1269.00,380.00 Z" fill="rgba(0,0,255,0.5)" stroke="#12129e" stroke-width="2.2"/>
<path d="M1284.00,355.30 L1293.20,364.50 L1284.00,373.70 L1274.80,364.50 Z" fill="rgba(0,0,255,0.5)" stroke="#12129e" stroke-width="2.2"/>
<path d="M1285.00,341.80 L1294.20,351.00 L1285.00,360.20 L1275.80,351.00 Z" fill="rgba(0,0,255,0.5)" stroke="#12129e" stroke-width="2.2"/>
<path d="M1286.90,294.60 L1296.10,303.80 L1286.90,313.00 L1277.70,303.80 Z" fill="rgba(0,0,255,0.5)" stroke="#12129e" stroke-width="2.2"/>
<path d="M1289.80,215.20 L1299.00,224.40 L1289.80,233.60 L1280.60,224.40 Z" fill="rgba(0,0,255,0.5)" stroke="#12129e" stroke-width="2.2"/>
<path d="M791.5,417.7 L801.8,428 L801.8,441 L791.5,451.3 L781.2,441 L781.2,428 Z" fill="#0c0cf2" stroke="#12129e" stroke-width="1.6"/>
<path d="M1256.00,406.80 L1265.20,416.00 L1256.00,425.20 L1246.80,416.00 Z" fill="#0c0cf2" stroke="#12129e" stroke-width="2.2"/>
<path d="M1265.00,407.80 L1274.20,417.00 L1265.00,426.20 L1255.80,417.00 Z" fill="#0c0cf2" stroke="#12129e" stroke-width="2.2"/>
<path d="M1260.00,410.80 L1269.20,420.00 L1260.00,429.20 L1250.80,420.00 Z" fill="#0c0cf2" stroke="#12129e" stroke-width="2.2"/>
<path d="M1266.00,413.80 L1275.20,423.00 L1266.00,432.20 L1256.80,423.00 Z" fill="#0c0cf2" stroke="#12129e" stroke-width="2.2"/>
<path d="M1262.00,415.80 L1271.20,425.00 L1262.00,434.20 L1252.80,425.00 Z" fill="#0c0cf2" stroke="#12129e" stroke-width="2.2"/>
<path d="M1258.00,411.80 L1267.20,421.00 L1258.00,430.20 L1248.80,421.00 Z" fill="#0c0cf2" stroke="#12129e" stroke-width="2.2"/>
<path d="M790.50,538.80 L799.70,548.00 L790.50,557.20 L781.30,548.00 Z" fill="#fff" stroke="#12129e" stroke-width="2.2"/>
<path d="M796.40,527.30 L805.60,536.50 L796.40,545.70 L787.20,536.50 Z" fill="#fff" stroke="#12129e" stroke-width="2.2"/>
<path d="M807.00,510.00 L816.20,519.20 L807.00,528.40 L797.80,519.20 Z" fill="#fff" stroke="#12129e" stroke-width="2.2"/>
<path d="M829.20,481.10 L838.40,490.30 L829.20,499.50 L820.00,490.30 Z" fill="#fff" stroke="#12129e" stroke-width="2.2"/>
<path d="M873.50,448.80 L882.70,458.00 L873.50,467.20 L864.30,458.00 Z" fill="#fff" stroke="#12129e" stroke-width="2.2"/>
<path d="M950.70,419.90 L959.90,429.10 L950.70,438.30 L941.50,429.10 Z" fill="#fff" stroke="#12129e" stroke-width="2.2"/>
<path d="M1049.00,411.20 L1058.20,420.40 L1049.00,429.60 L1039.80,420.40 Z" fill="#fff" stroke="#12129e" stroke-width="2.2"/>
<path d="M1147.00,432.40 L1156.20,441.60 L1147.00,450.80 L1137.80,441.60 Z" fill="#fff" stroke="#12129e" stroke-width="2.2"/>
<path d="M1203.90,463.70 L1213.10,472.90 L1203.90,482.10 L1194.70,472.90 Z" fill="#fff" stroke="#12129e" stroke-width="2.2"/>
<path d="M1235.80,491.70 L1245.00,500.90 L1235.80,510.10 L1226.60,500.90 Z" fill="#fff" stroke="#12129e" stroke-width="2.2"/>
<path d="M1251.20,511.90 L1260.40,521.10 L1251.20,530.30 L1242.00,521.10 Z" fill="#fff" stroke="#12129e" stroke-width="2.2"/>
<path d="M1258.00,523.80 L1267.20,533.00 L1258.00,542.20 L1248.80,533.00 Z" fill="#fff" stroke="#12129e" stroke-width="2.2"/>
<path d="M1262.00,530.80 L1271.20,540.00 L1262.00,549.20 L1252.80,540.00 Z" fill="#fff" stroke="#12129e" stroke-width="2.2"/>
<path d="M1267.50,504.50 L1276.70,513.70 L1267.50,522.90 L1258.30,513.70 Z" fill="#fff" stroke="#12129e" stroke-width="2.2"/>
<path d="M1271.90,479.00 L1281.10,488.20 L1271.90,497.40 L1262.70,488.20 Z" fill="#fff" stroke="#12129e" stroke-width="2.2"/>
<path d="M1278.00,435.90 L1287.20,445.10 L1278.00,454.30 L1268.80,445.10 Z" fill="#fff" stroke="#12129e" stroke-width="2.2"/>
<path d="M1282.00,380.80 L1291.20,390.00 L1282.00,399.20 L1272.80,390.00 Z" fill="#fff" stroke="#12129e" stroke-width="2.2"/>
<path d="M794.00,535.80 L803.20,545.00 L794.00,554.20 L784.80,545.00 Z" fill="rgba(0,0,255,0.5)" stroke="#12129e" stroke-width="2.2"/>
<path d="M801.20,520.60 L810.40,529.80 L801.20,539.00 L792.00,529.80 Z" fill="rgba(0,0,255,0.5)" stroke="#12129e" stroke-width="2.2"/>
<path d="M816.60,495.50 L825.80,504.70 L816.60,513.90 L807.40,504.70 Z" fill="rgba(0,0,255,0.5)" stroke="#12129e" stroke-width="2.2"/>
<path d="M848.50,466.60 L857.70,475.80 L848.50,485.00 L839.30,475.80 Z" fill="rgba(0,0,255,0.5)" stroke="#12129e" stroke-width="2.2"/>
<path d="M909.20,432.40 L918.40,441.60 L909.20,450.80 L900.00,441.60 Z" fill="rgba(0,0,255,0.5)" stroke="#12129e" stroke-width="2.2"/>
<path d="M999.90,413.20 L1009.10,422.40 L999.90,431.60 L990.70,422.40 Z" fill="rgba(0,0,255,0.5)" stroke="#12129e" stroke-width="2.2"/>
<path d="M1097.50,421.80 L1106.70,431.00 L1097.50,440.20 L1088.30,431.00 Z" fill="rgba(0,0,255,0.5)" stroke="#12129e" stroke-width="2.2"/>
<path d="M1172.10,450.80 L1181.30,460.00 L1172.10,469.20 L1162.90,460.00 Z" fill="rgba(0,0,255,0.5)" stroke="#12129e" stroke-width="2.2"/>
<path d="M1215.50,482.00 L1224.70,491.20 L1215.50,500.40 L1206.30,491.20 Z" fill="rgba(0,0,255,0.5)" stroke="#12129e" stroke-width="2.2"/>
<path d="M1237.70,508.10 L1246.90,517.30 L1237.70,526.50 L1228.50,517.30 Z" fill="rgba(0,0,255,0.5)" stroke="#12129e" stroke-width="2.2"/>
<path d="M1245.40,524.40 L1254.60,533.60 L1245.40,542.80 L1236.20,533.60 Z" fill="rgba(0,0,255,0.5)" stroke="#12129e" stroke-width="2.2"/>
<path d="M1252.00,535.80 L1261.20,545.00 L1252.00,554.20 L1242.80,545.00 Z" fill="rgba(0,0,255,0.5)" stroke="#12129e" stroke-width="2.2"/>
<path d="M1259.50,547.60 L1268.70,556.80 L1259.50,566.00 L1250.30,556.80 Z" fill="rgba(0,0,255,0.5)" stroke="#12129e" stroke-width="2.2"/>
<path d="M1265.00,538.80 L1274.20,548.00 L1265.00,557.20 L1255.80,548.00 Z" fill="rgba(0,0,255,0.5)" stroke="#12129e" stroke-width="2.2"/>
<path d="M1271.40,522.50 L1280.60,531.70 L1271.40,540.90 L1262.20,531.70 Z" fill="rgba(0,0,255,0.5)" stroke="#12129e" stroke-width="2.2"/>
<path d="M1279.80,501.80 L1289.00,511.00 L1279.80,520.20 L1270.60,511.00 Z" fill="rgba(0,0,255,0.5)" stroke="#12129e" stroke-width="2.2"/>
<path d="M1283.30,472.80 L1292.50,482.00 L1283.30,491.20 L1274.10,482.00 Z" fill="rgba(0,0,255,0.5)" stroke="#12129e" stroke-width="2.2"/>
<path d="M1287.70,450.00 L1296.90,459.20 L1287.70,468.40 L1278.50,459.20 Z" fill="rgba(0,0,255,0.5)" stroke="#12129e" stroke-width="2.2"/>
<path d="M1287.70,426.30 L1296.90,435.50 L1287.70,444.70 L1278.50,435.50 Z" fill="rgba(0,0,255,0.5)" stroke="#12129e" stroke-width="2.2"/>
<path d="M1288.50,360.80 L1297.70,370.00 L1288.50,379.20 L1279.30,370.00 Z" fill="rgba(0,0,255,0.5)" stroke="#12129e" stroke-width="2.2"/>
<path d="M791.5,541.7 L801.8,552 L801.8,573 L791.5,583.3 L781.2,573 L781.2,552 Z" fill="#0c0cf2" stroke="#12129e" stroke-width="1.6"/>
<path d="M1253.50,540.80 L1262.70,550.00 L1253.50,559.20 L1244.30,550.00 Z" fill="#0c0cf2" stroke="#12129e" stroke-width="2.2"/>
<path d="M1262.50,541.80 L1271.70,551.00 L1262.50,560.20 L1253.30,551.00 Z" fill="#0c0cf2" stroke="#12129e" stroke-width="2.2"/>
<path d="M1257.50,544.80 L1266.70,554.00 L1257.50,563.20 L1248.30,554.00 Z" fill="#0c0cf2" stroke="#12129e" stroke-width="2.2"/>
<path d="M1263.50,547.80 L1272.70,557.00 L1263.50,566.20 L1254.30,557.00 Z" fill="#0c0cf2" stroke="#12129e" stroke-width="2.2"/>
<path d="M1259.50,549.80 L1268.70,559.00 L1259.50,568.20 L1250.30,559.00 Z" fill="#0c0cf2" stroke="#12129e" stroke-width="2.2"/>
<path d="M1255.50,545.80 L1264.70,555.00 L1255.50,564.20 L1246.30,555.00 Z" fill="#0c0cf2" stroke="#12129e" stroke-width="2.2"/>
<path d="M791.00,640.80 L800.20,650.00 L791.00,659.20 L781.80,650.00 Z" fill="#fff" stroke="#12129e" stroke-width="2.2"/>
<path d="M798.30,630.50 L807.50,639.70 L798.30,648.90 L789.10,639.70 Z" fill="#fff" stroke="#12129e" stroke-width="2.2"/>
<path d="M808.90,613.20 L818.10,622.40 L808.90,631.60 L799.70,622.40 Z" fill="#fff" stroke="#12129e" stroke-width="2.2"/>
<path d="M829.20,589.10 L838.40,598.30 L829.20,607.50 L820.00,598.30 Z" fill="#fff" stroke="#12129e" stroke-width="2.2"/>
<path d="M866.80,559.20 L876.00,568.40 L866.80,577.60 L857.60,568.40 Z" fill="#fff" stroke="#12129e" stroke-width="2.2"/>
<path d="M932.40,529.30 L941.60,538.50 L932.40,547.70 L923.20,538.50 Z" fill="#fff" stroke="#12129e" stroke-width="2.2"/>
<path d="M1024.90,516.80 L1034.10,526.00 L1024.90,535.20 L1015.70,526.00 Z" fill="#fff" stroke="#12129e" stroke-width="2.2"/>
<path d="M1118.10,528.30 L1127.30,537.50 L1118.10,546.70 L1108.90,537.50 Z" fill="#fff" stroke="#12129e" stroke-width="2.2"/>
<path d="M1186.60,557.20 L1195.80,566.40 L1186.60,575.60 L1177.40,566.40 Z" fill="#fff" stroke="#12129e" stroke-width="2.2"/>
<path d="M1223.20,588.10 L1232.40,597.30 L1223.20,606.50 L1214.00,597.30 Z" fill="#fff" stroke="#12129e" stroke-width="2.2"/>
<path d="M1240.60,611.20 L1249.80,620.40 L1240.60,629.60 L1231.40,620.40 Z" fill="#fff" stroke="#12129e" stroke-width="2.2"/>
<path d="M1253.10,624.70 L1262.30,633.90 L1253.10,643.10 L1243.90,633.90 Z" fill="#fff" stroke="#12129e" stroke-width="2.2"/>
<path d="M1258.00,635.80 L1267.20,645.00 L1258.00,654.20 L1248.80,645.00 Z" fill="#fff" stroke="#12129e" stroke-width="2.2"/>
<path d="M1262.00,640.80 L1271.20,650.00 L1262.00,659.20 L1252.80,650.00 Z" fill="#fff" stroke="#12129e" stroke-width="2.2"/>
<path d="M1269.50,607.40 L1278.70,616.60 L1269.50,625.80 L1260.30,616.60 Z" fill="#fff" stroke="#12129e" stroke-width="2.2"/>
<path d="M1273.40,579.40 L1282.60,588.60 L1273.40,597.80 L1264.20,588.60 Z" fill="#fff" stroke="#12129e" stroke-width="2.2"/>
<path d="M1279.80,536.10 L1289.00,545.30 L1279.80,554.50 L1270.60,545.30 Z" fill="#fff" stroke="#12129e" stroke-width="2.2"/>
<path d="M1291.00,466.80 L1300.20,476.00 L1291.00,485.20 L1281.80,476.00 Z" fill="#fff" stroke="#12129e" stroke-width="2.2"/>
<path d="M795.00,636.80 L804.20,646.00 L795.00,655.20 L785.80,646.00 Z" fill="rgba(0,0,255,0.5)" stroke="#12129e" stroke-width="2.2"/>
<path d="M803.10,618.90 L812.30,628.10 L803.10,637.30 L793.90,628.10 Z" fill="rgba(0,0,255,0.5)" stroke="#12129e" stroke-width="2.2"/>
<path d="M818.60,599.70 L827.80,608.90 L818.60,618.10 L809.40,608.90 Z" fill="rgba(0,0,255,0.5)" stroke="#12129e" stroke-width="2.2"/>
<path d="M848.50,570.80 L857.70,580.00 L848.50,589.20 L839.30,580.00 Z" fill="rgba(0,0,255,0.5)" stroke="#12129e" stroke-width="2.2"/>
<path d="M902.50,540.80 L911.70,550.00 L902.50,559.20 L893.30,550.00 Z" fill="rgba(0,0,255,0.5)" stroke="#12129e" stroke-width="2.2"/>
<path d="M987.30,520.60 L996.50,529.80 L987.30,539.00 L978.10,529.80 Z" fill="rgba(0,0,255,0.5)" stroke="#12129e" stroke-width="2.2"/>
<path d="M1075.70,525.40 L1084.90,534.60 L1075.70,543.80 L1066.50,534.60 Z" fill="rgba(0,0,255,0.5)" stroke="#12129e" stroke-width="2.2"/>
<path d="M1149.00,549.50 L1158.20,558.70 L1149.00,567.90 L1139.80,558.70 Z" fill="rgba(0,0,255,0.5)" stroke="#12129e" stroke-width="2.2"/>
<path d="M1196.20,576.50 L1205.40,585.70 L1196.20,594.90 L1187.00,585.70 Z" fill="rgba(0,0,255,0.5)" stroke="#12129e" stroke-width="2.2"/>
<path d="M1220.30,601.60 L1229.50,610.80 L1220.30,620.00 L1211.10,610.80 Z" fill="rgba(0,0,255,0.5)" stroke="#12129e" stroke-width="2.2"/>
<path d="M1234.80,620.90 L1244.00,630.10 L1234.80,639.30 L1225.60,630.10 Z" fill="rgba(0,0,255,0.5)" stroke="#12129e" stroke-width="2.2"/>
<path d="M1245.00,632.80 L1254.20,642.00 L1245.00,651.20 L1235.80,642.00 Z" fill="rgba(0,0,255,0.5)" stroke="#12129e" stroke-width="2.2"/>
<path d="M1252.00,640.80 L1261.20,650.00 L1252.00,659.20 L1242.80,650.00 Z" fill="rgba(0,0,255,0.5)" stroke="#12129e" stroke-width="2.2"/>
<path d="M1257.90,645.80 L1267.10,655.00 L1257.90,664.20 L1248.70,655.00 Z" fill="rgba(0,0,255,0.5)" stroke="#12129e" stroke-width="2.2"/>
<path d="M1264.00,638.80 L1273.20,648.00 L1264.00,657.20 L1254.80,648.00 Z" fill="rgba(0,0,255,0.5)" stroke="#12129e" stroke-width="2.2"/>
<path d="M1269.50,626.70 L1278.70,635.90 L1269.50,645.10 L1260.30,635.90 Z" fill="rgba(0,0,255,0.5)" stroke="#12129e" stroke-width="2.2"/>
<path d="M1279.20,601.60 L1288.40,610.80 L1279.20,620.00 L1270.00,610.80 Z" fill="rgba(0,0,255,0.5)" stroke="#12129e" stroke-width="2.2"/>
<path d="M1284.90,572.70 L1294.10,581.90 L1284.90,591.10 L1275.70,581.90 Z" fill="rgba(0,0,255,0.5)" stroke="#12129e" stroke-width="2.2"/>
<path d="M1289.40,526.50 L1298.60,535.70 L1289.40,544.90 L1280.20,535.70 Z" fill="rgba(0,0,255,0.5)" stroke="#12129e" stroke-width="2.2"/>
<path d="M1288.80,480.80 L1298.00,490.00 L1288.80,499.20 L1279.60,490.00 Z" fill="rgba(0,0,255,0.5)" stroke="#12129e" stroke-width="2.2"/>
<path d="M791.5,643.7 L801.8,654 L801.8,671.5 L791.5,681.8 L781.2,671.5 L781.2,654 Z" fill="#0c0cf2" stroke="#12129e" stroke-width="1.6"/>
<path d="M1252.00,639.80 L1261.20,649.00 L1252.00,658.20 L1242.80,649.00 Z" fill="#0c0cf2" stroke="#12129e" stroke-width="2.2"/>
<path d="M1261.00,640.80 L1270.20,650.00 L1261.00,659.20 L1251.80,650.00 Z" fill="#0c0cf2" stroke="#12129e" stroke-width="2.2"/>
<path d="M1256.00,643.80 L1265.20,653.00 L1256.00,662.20 L1246.80,653.00 Z" fill="#0c0cf2" stroke="#12129e" stroke-width="2.2"/>
<path d="M1262.00,646.80 L1271.20,656.00 L1262.00,665.20 L1252.80,656.00 Z" fill="#0c0cf2" stroke="#12129e" stroke-width="2.2"/>
<path d="M1258.00,648.80 L1267.20,658.00 L1258.00,667.20 L1248.80,658.00 Z" fill="#0c0cf2" stroke="#12129e" stroke-width="2.2"/>
<path d="M1254.00,644.80 L1263.20,654.00 L1254.00,663.20 L1244.80,654.00 Z" fill="#0c0cf2" stroke="#12129e" stroke-width="2.2"/>
<path d="M796.00,773.80 L805.20,783.00 L796.00,792.20 L786.80,783.00 Z" fill="#fff" stroke="#12129e" stroke-width="2.2"/>
<path d="M800.00,763.80 L809.20,773.00 L800.00,782.20 L790.80,773.00 Z" fill="#fff" stroke="#12129e" stroke-width="2.2"/>
<path d="M812.80,747.20 L822.00,756.40 L812.80,765.60 L803.60,756.40 Z" fill="#fff" stroke="#12129e" stroke-width="2.2"/>
<path d="M834.00,727.90 L843.20,737.10 L834.00,746.30 L824.80,737.10 Z" fill="#fff" stroke="#12129e" stroke-width="2.2"/>
<path d="M867.80,704.80 L877.00,714.00 L867.80,723.20 L858.60,714.00 Z" fill="#fff" stroke="#12129e" stroke-width="2.2"/>
<path d="M923.70,683.60 L932.90,692.80 L923.70,702.00 L914.50,692.80 Z" fill="#fff" stroke="#12129e" stroke-width="2.2"/>
<path d="M993.50,671.10 L1002.70,680.30 L993.50,689.50 L984.30,680.30 Z" fill="#fff" stroke="#12129e" stroke-width="2.2"/>
<path d="M1068.60,677.20 L1077.80,686.40 L1068.60,695.60 L1059.40,686.40 Z" fill="#fff" stroke="#12129e" stroke-width="2.2"/>
<path d="M1134.10,696.50 L1143.30,705.70 L1134.10,714.90 L1124.90,705.70 Z" fill="#fff" stroke="#12129e" stroke-width="2.2"/>
<path d="M1170.80,715.80 L1180.00,725.00 L1170.80,734.20 L1161.60,725.00 Z" fill="#fff" stroke="#12129e" stroke-width="2.2"/>
<path d="M1195.90,735.10 L1205.10,744.30 L1195.90,753.50 L1186.70,744.30 Z" fill="#fff" stroke="#12129e" stroke-width="2.2"/>
<path d="M1210.00,745.80 L1219.20,755.00 L1210.00,764.20 L1200.80,755.00 Z" fill="#fff" stroke="#12129e" stroke-width="2.2"/>
<path d="M1216.00,751.80 L1225.20,761.00 L1216.00,770.20 L1206.80,761.00 Z" fill="#fff" stroke="#12129e" stroke-width="2.2"/>
<path d="M1222.00,757.80 L1231.20,767.00 L1222.00,776.20 L1212.80,767.00 Z" fill="#fff" stroke="#12129e" stroke-width="2.2"/>
<path d="M1228.50,764.30 L1237.70,773.50 L1228.50,782.70 L1219.30,773.50 Z" fill="#fff" stroke="#12129e" stroke-width="2.2"/>
<path d="M1235.00,770.80 L1244.20,780.00 L1235.00,789.20 L1225.80,780.00 Z" fill="#fff" stroke="#12129e" stroke-width="2.2"/>
<path d="M1241.00,775.80 L1250.20,785.00 L1241.00,794.20 L1231.80,785.00 Z" fill="#fff" stroke="#12129e" stroke-width="2.2"/>
<path d="M1247.00,780.80 L1256.20,790.00 L1247.00,799.20 L1237.80,790.00 Z" fill="#fff" stroke="#12129e" stroke-width="2.2"/>
<path d="M1252.30,782.50 L1261.50,791.70 L1252.30,800.90 L1243.10,791.70 Z" fill="#fff" stroke="#12129e" stroke-width="2.2"/>
<path d="M1257.60,784.20 L1266.80,793.40 L1257.60,802.60 L1248.40,793.40 Z" fill="#fff" stroke="#12129e" stroke-width="2.2"/>
<path d="M1265.30,768.80 L1274.50,778.00 L1265.30,787.20 L1256.10,778.00 Z" fill="#fff" stroke="#12129e" stroke-width="2.2"/>
<path d="M1269.10,737.90 L1278.30,747.10 L1269.10,756.30 L1259.90,747.10 Z" fill="#fff" stroke="#12129e" stroke-width="2.2"/>
<path d="M1273.00,711.90 L1282.20,721.10 L1273.00,730.30 L1263.80,721.10 Z" fill="#fff" stroke="#12129e" stroke-width="2.2"/>
<path d="M1278.80,669.50 L1288.00,678.70 L1278.80,687.90 L1269.60,678.70 Z" fill="#fff" stroke="#12129e" stroke-width="2.2"/>
<path d="M1285.90,603.50 L1295.10,612.70 L1285.90,621.90 L1276.70,612.70 Z" fill="#fff" stroke="#12129e" stroke-width="2.2"/>
<path d="M797.50,768.80 L806.70,778.00 L797.50,787.20 L788.30,778.00 Z" fill="rgba(0,0,255,0.5)" stroke="#12129e" stroke-width="2.2"/>
<path d="M801.00,760.80 L810.20,770.00 L801.00,779.20 L791.80,770.00 Z" fill="rgba(0,0,255,0.5)" stroke="#12129e" stroke-width="2.2"/>
<path d="M805.10,754.90 L814.30,764.10 L805.10,773.30 L795.90,764.10 Z" fill="rgba(0,0,255,0.5)" stroke="#12129e" stroke-width="2.2"/>
<path d="M820.50,735.70 L829.70,744.90 L820.50,754.10 L811.30,744.90 Z" fill="rgba(0,0,255,0.5)" stroke="#12129e" stroke-width="2.2"/>
<path d="M847.50,715.40 L856.70,724.60 L847.50,733.80 L838.30,724.60 Z" fill="rgba(0,0,255,0.5)" stroke="#12129e" stroke-width="2.2"/>
<path d="M891.90,695.20 L901.10,704.40 L891.90,713.60 L882.70,704.40 Z" fill="rgba(0,0,255,0.5)" stroke="#12129e" stroke-width="2.2"/>
<path d="M950.70,678.80 L959.90,688.00 L950.70,697.20 L941.50,688.00 Z" fill="rgba(0,0,255,0.5)" stroke="#12129e" stroke-width="2.2"/>
<path d="M1024.60,673.90 L1033.80,683.10 L1024.60,692.30 L1015.40,683.10 Z" fill="rgba(0,0,255,0.5)" stroke="#12129e" stroke-width="2.2"/>
<path d="M1092.70,683.90 L1101.90,693.10 L1092.70,702.30 L1083.50,693.10 Z" fill="rgba(0,0,255,0.5)" stroke="#12129e" stroke-width="2.2"/>
<path d="M1143.80,706.10 L1153.00,715.30 L1143.80,724.50 L1134.60,715.30 Z" fill="rgba(0,0,255,0.5)" stroke="#12129e" stroke-width="2.2"/>
<path d="M1179.50,723.50 L1188.70,732.70 L1179.50,741.90 L1170.30,732.70 Z" fill="rgba(0,0,255,0.5)" stroke="#12129e" stroke-width="2.2"/>
<path d="M1203.60,739.90 L1212.80,749.10 L1203.60,758.30 L1194.40,749.10 Z" fill="rgba(0,0,255,0.5)" stroke="#12129e" stroke-width="2.2"/>
<path d="M1217.00,751.40 L1226.20,760.60 L1217.00,769.80 L1207.80,760.60 Z" fill="rgba(0,0,255,0.5)" stroke="#12129e" stroke-width="2.2"/>
<path d="M1221.85,757.20 L1231.05,766.40 L1221.85,775.60 L1212.65,766.40 Z" fill="rgba(0,0,255,0.5)" stroke="#12129e" stroke-width="2.2"/>
<path d="M1226.70,763.00 L1235.90,772.20 L1226.70,781.40 L1217.50,772.20 Z" fill="rgba(0,0,255,0.5)" stroke="#12129e" stroke-width="2.2"/>
<path d="M1232.50,768.80 L1241.70,778.00 L1232.50,787.20 L1223.30,778.00 Z" fill="rgba(0,0,255,0.5)" stroke="#12129e" stroke-width="2.2"/>
<path d="M1238.30,774.60 L1247.50,783.80 L1238.30,793.00 L1229.10,783.80 Z" fill="rgba(0,0,255,0.5)" stroke="#12129e" stroke-width="2.2"/>
<path d="M1243.15,777.70 L1252.35,786.90 L1243.15,796.10 L1233.95,786.90 Z" fill="rgba(0,0,255,0.5)" stroke="#12129e" stroke-width="2.2"/>
<path d="M1248.00,780.80 L1257.20,790.00 L1248.00,799.20 L1238.80,790.00 Z" fill="rgba(0,0,255,0.5)" stroke="#12129e" stroke-width="2.2"/>
<path d="M1252.80,782.50 L1262.00,791.70 L1252.80,800.90 L1243.60,791.70 Z" fill="rgba(0,0,255,0.5)" stroke="#12129e" stroke-width="2.2"/>
<path d="M1257.60,784.20 L1266.80,793.40 L1257.60,802.60 L1248.40,793.40 Z" fill="rgba(0,0,255,0.5)" stroke="#12129e" stroke-width="2.2"/>
<path d="M1266.00,774.80 L1275.20,784.00 L1266.00,793.20 L1256.80,784.00 Z" fill="rgba(0,0,255,0.5)" stroke="#12129e" stroke-width="2.2"/>
<path d="M1271.10,751.40 L1280.30,760.60 L1271.10,769.80 L1261.90,760.60 Z" fill="rgba(0,0,255,0.5)" stroke="#12129e" stroke-width="2.2"/>
<path d="M1278.80,734.10 L1288.00,743.30 L1278.80,752.50 L1269.60,743.30 Z" fill="rgba(0,0,255,0.5)" stroke="#12129e" stroke-width="2.2"/>
<path d="M1284.60,704.20 L1293.80,713.40 L1284.60,722.60 L1275.40,713.40 Z" fill="rgba(0,0,255,0.5)" stroke="#12129e" stroke-width="2.2"/>
<path d="M1286.50,687.80 L1295.70,697.00 L1286.50,706.20 L1277.30,697.00 Z" fill="rgba(0,0,255,0.5)" stroke="#12129e" stroke-width="2.2"/>
<path d="M1288.40,672.40 L1297.60,681.60 L1288.40,690.80 L1279.20,681.60 Z" fill="rgba(0,0,255,0.5)" stroke="#12129e" stroke-width="2.2"/>
<path d="M1288.80,587.80 L1298.00,597.00 L1288.80,606.20 L1279.60,597.00 Z" fill="rgba(0,0,255,0.5)" stroke="#12129e" stroke-width="2.2"/>
<path d="M793.80,783.30 L803.00,792.50 L793.80,801.70 L784.60,792.50 Z" fill="#fff" stroke="#12129e" stroke-width="2.2"/>
<path d="M794.50,777.80 L803.70,787.00 L794.50,796.20 L785.30,787.00 Z" fill="rgba(0,0,255,0.5)" stroke="#12129e" stroke-width="2.2"/>
<path d="M1251.00,776.80 L1260.20,786.00 L1251.00,795.20 L1241.80,786.00 Z" fill="#0c0cf2" stroke="#12129e" stroke-width="2.2"/>
<path d="M1260.00,777.80 L1269.20,787.00 L1260.00,796.20 L1250.80,787.00 Z" fill="#0c0cf2" stroke="#12129e" stroke-width="2.2"/>
<path d="M1255.00,780.80 L1264.20,790.00 L1255.00,799.20 L1245.80,790.00 Z" fill="#0c0cf2" stroke="#12129e" stroke-width="2.2"/>
<path d="M1261.00,783.80 L1270.20,793.00 L1261.00,802.20 L1251.80,793.00 Z" fill="#0c0cf2" stroke="#12129e" stroke-width="2.2"/>
<path d="M1257.00,785.80 L1266.20,795.00 L1257.00,804.20 L1247.80,795.00 Z" fill="#0c0cf2" stroke="#12129e" stroke-width="2.2"/>
<path d="M1253.00,781.80 L1262.20,791.00 L1253.00,800.20 L1243.80,791.00 Z" fill="#0c0cf2" stroke="#12129e" stroke-width="2.2"/>
<path d="M860.00,813.80 L869.20,823.00 L860.00,832.20 L850.80,823.00 Z" fill="#fff" stroke="#12129e" stroke-width="2.2"/>
<path d="M909.60,800.80 L918.80,810.00 L909.60,819.20 L900.40,810.00 Z" fill="#fff" stroke="#12129e" stroke-width="2.2"/>
<path d="M960.30,800.80 L969.50,810.00 L960.30,819.20 L951.10,810.00 Z" fill="#fff" stroke="#12129e" stroke-width="2.2"/>
<path d="M1008.50,806.10 L1017.70,815.30 L1008.50,824.50 L999.30,815.30 Z" fill="#fff" stroke="#12129e" stroke-width="2.2"/>
<path d="M1048.30,807.40 L1057.50,816.60 L1048.30,825.80 L1039.10,816.60 Z" fill="#fff" stroke="#12129e" stroke-width="2.2"/>
<path d="M1088.80,811.20 L1098.00,820.40 L1088.80,829.60 L1079.60,820.40 Z" fill="#fff" stroke="#12129e" stroke-width="2.2"/>
<path d="M1126.40,821.80 L1135.60,831.00 L1126.40,840.20 L1117.20,831.00 Z" fill="#fff" stroke="#12129e" stroke-width="2.2"/>
<path d="M1157.30,830.50 L1166.50,839.70 L1157.30,848.90 L1148.10,839.70 Z" fill="#fff" stroke="#12129e" stroke-width="2.2"/>
<path d="M1179.50,840.20 L1188.70,849.40 L1179.50,858.60 L1170.30,849.40 Z" fill="#fff" stroke="#12129e" stroke-width="2.2"/>
<path d="M1199.00,850.80 L1208.20,860.00 L1199.00,869.20 L1189.80,860.00 Z" fill="#fff" stroke="#12129e" stroke-width="2.2"/>
<path d="M1213.00,858.80 L1222.20,868.00 L1213.00,877.20 L1203.80,868.00 Z" fill="#fff" stroke="#12129e" stroke-width="2.2"/>
<path d="M1220.00,862.80 L1229.20,872.00 L1220.00,881.20 L1210.80,872.00 Z" fill="#fff" stroke="#12129e" stroke-width="2.2"/>
<path d="M1227.00,866.80 L1236.20,876.00 L1227.00,885.20 L1217.80,876.00 Z" fill="#fff" stroke="#12129e" stroke-width="2.2"/>
<path d="M1234.50,870.80 L1243.70,880.00 L1234.50,889.20 L1225.30,880.00 Z" fill="#fff" stroke="#12129e" stroke-width="2.2"/>
<path d="M1242.00,874.80 L1251.20,884.00 L1242.00,893.20 L1232.80,884.00 Z" fill="#fff" stroke="#12129e" stroke-width="2.2"/>
<path d="M1249.80,878.70 L1259.00,887.90 L1249.80,897.10 L1240.60,887.90 Z" fill="#fff" stroke="#12129e" stroke-width="2.2"/>
<path d="M1257.60,882.60 L1266.80,891.80 L1257.60,901.00 L1248.40,891.80 Z" fill="#fff" stroke="#12129e" stroke-width="2.2"/>
<path d="M1267.20,869.10 L1276.40,878.30 L1267.20,887.50 L1258.00,878.30 Z" fill="#fff" stroke="#12129e" stroke-width="2.2"/>
<path d="M1269.10,838.20 L1278.30,847.40 L1269.10,856.60 L1259.90,847.40 Z" fill="#fff" stroke="#12129e" stroke-width="2.2"/>
<path d="M1274.00,808.30 L1283.20,817.50 L1274.00,826.70 L1264.80,817.50 Z" fill="#fff" stroke="#12129e" stroke-width="2.2"/>
<path d="M1278.00,780.80 L1287.20,790.00 L1278.00,799.20 L1268.80,790.00 Z" fill="#fff" stroke="#12129e" stroke-width="2.2"/>
<path d="M1281.00,740.80 L1290.20,750.00 L1281.00,759.20 L1271.80,750.00 Z" fill="#fff" stroke="#12129e" stroke-width="2.2"/>
<path d="M892.40,803.20 L901.60,812.40 L892.40,821.60 L883.20,812.40 Z" fill="rgba(0,0,255,0.5)" stroke="#12129e" stroke-width="2.2"/>
<path d="M949.70,799.30 L958.90,808.50 L949.70,817.70 L940.50,808.50 Z" fill="rgba(0,0,255,0.5)" stroke="#12129e" stroke-width="2.2"/>
<path d="M998.90,803.20 L1008.10,812.40 L998.90,821.60 L989.70,812.40 Z" fill="rgba(0,0,255,0.5)" stroke="#12129e" stroke-width="2.2"/>
<path d="M1035.80,813.20 L1045.00,822.40 L1035.80,831.60 L1026.60,822.40 Z" fill="rgba(0,0,255,0.5)" stroke="#12129e" stroke-width="2.2"/>
<path d="M1067.60,818.90 L1076.80,828.10 L1067.60,837.30 L1058.40,828.10 Z" fill="rgba(0,0,255,0.5)" stroke="#12129e" stroke-width="2.2"/>
<path d="M1103.30,823.80 L1112.50,833.00 L1103.30,842.20 L1094.10,833.00 Z" fill="rgba(0,0,255,0.5)" stroke="#12129e" stroke-width="2.2"/>
<path d="M1137.00,828.60 L1146.20,837.80 L1137.00,847.00 L1127.80,837.80 Z" fill="rgba(0,0,255,0.5)" stroke="#12129e" stroke-width="2.2"/>
<path d="M1163.10,837.30 L1172.30,846.50 L1163.10,855.70 L1153.90,846.50 Z" fill="rgba(0,0,255,0.5)" stroke="#12129e" stroke-width="2.2"/>
<path d="M1184.30,847.90 L1193.50,857.10 L1184.30,866.30 L1175.10,857.10 Z" fill="rgba(0,0,255,0.5)" stroke="#12129e" stroke-width="2.2"/>
<path d="M1199.70,853.70 L1208.90,862.90 L1199.70,872.10 L1190.50,862.90 Z" fill="rgba(0,0,255,0.5)" stroke="#12129e" stroke-width="2.2"/>
<path d="M1213.20,861.40 L1222.40,870.60 L1213.20,879.80 L1204.00,870.60 Z" fill="rgba(0,0,255,0.5)" stroke="#12129e" stroke-width="2.2"/>
<path d="M1219.95,865.25 L1229.15,874.45 L1219.95,883.65 L1210.75,874.45 Z" fill="rgba(0,0,255,0.5)" stroke="#12129e" stroke-width="2.2"/>
<path d="M1226.70,869.10 L1235.90,878.30 L1226.70,887.50 L1217.50,878.30 Z" fill="rgba(0,0,255,0.5)" stroke="#12129e" stroke-width="2.2"/>
<path d="M1234.40,872.95 L1243.60,882.15 L1234.40,891.35 L1225.20,882.15 Z" fill="rgba(0,0,255,0.5)" stroke="#12129e" stroke-width="2.2"/>
<path d="M1242.10,876.80 L1251.30,886.00 L1242.10,895.20 L1232.90,886.00 Z" fill="rgba(0,0,255,0.5)" stroke="#12129e" stroke-width="2.2"/>
<path d="M1247.05,879.30 L1256.25,888.50 L1247.05,897.70 L1237.85,888.50 Z" fill="rgba(0,0,255,0.5)" stroke="#12129e" stroke-width="2.2"/>
<path d="M1252.00,881.80 L1261.20,891.00 L1252.00,900.20 L1242.80,891.00 Z" fill="rgba(0,0,255,0.5)" stroke="#12129e" stroke-width="2.2"/>
<path d="M1257.60,883.80 L1266.80,893.00 L1257.60,902.20 L1248.40,893.00 Z" fill="rgba(0,0,255,0.5)" stroke="#12129e" stroke-width="2.2"/>
<path d="M1264.00,878.80 L1273.20,888.00 L1264.00,897.20 L1254.80,888.00 Z" fill="rgba(0,0,255,0.5)" stroke="#12129e" stroke-width="2.2"/>
<path d="M1271.10,853.70 L1280.30,862.90 L1271.10,872.10 L1261.90,862.90 Z" fill="rgba(0,0,255,0.5)" stroke="#12129e" stroke-width="2.2"/>
<path d="M1280.70,830.50 L1289.90,839.70 L1280.70,848.90 L1271.50,839.70 Z" fill="rgba(0,0,255,0.5)" stroke="#12129e" stroke-width="2.2"/>
<path d="M1283.60,800.60 L1292.80,809.80 L1283.60,819.00 L1274.40,809.80 Z" fill="rgba(0,0,255,0.5)" stroke="#12129e" stroke-width="2.2"/>
<path d="M1287.50,750.50 L1296.70,759.70 L1287.50,768.90 L1278.30,759.70 Z" fill="rgba(0,0,255,0.5)" stroke="#12129e" stroke-width="2.2"/>
<path d="M1288.40,690.80 L1297.60,700.00 L1288.40,709.20 L1279.20,700.00 Z" fill="rgba(0,0,255,0.5)" stroke="#12129e" stroke-width="2.2"/>
<path d="M824.40,834.00 L833.60,843.20 L824.40,852.40 L815.20,843.20 Z" fill="#fff" stroke="#12129e" stroke-width="2.2"/>
<path d="M848.50,820.50 L857.70,829.70 L848.50,838.90 L839.30,829.70 Z" fill="rgba(0,0,255,0.5)" stroke="#12129e" stroke-width="2.2"/>
<path d="M1250.00,875.80 L1259.20,885.00 L1250.00,894.20 L1240.80,885.00 Z" fill="#0c0cf2" stroke="#12129e" stroke-width="2.2"/>
<path d="M1259.00,876.80 L1268.20,886.00 L1259.00,895.20 L1249.80,886.00 Z" fill="#0c0cf2" stroke="#12129e" stroke-width="2.2"/>
<path d="M1254.00,879.80 L1263.20,889.00 L1254.00,898.20 L1244.80,889.00 Z" fill="#0c0cf2" stroke="#12129e" stroke-width="2.2"/>
<path d="M1260.00,882.80 L1269.20,892.00 L1260.00,901.20 L1250.80,892.00 Z" fill="#0c0cf2" stroke="#12129e" stroke-width="2.2"/>
<path d="M1256.00,884.80 L1265.20,894.00 L1256.00,903.20 L1246.80,894.00 Z" fill="#0c0cf2" stroke="#12129e" stroke-width="2.2"/>
<path d="M1252.00,880.80 L1261.20,890.00 L1252.00,899.20 L1242.80,890.00 Z" fill="#0c0cf2" stroke="#12129e" stroke-width="2.2"/>
<line x1="816.6" y1="50.3" x2="875.4" y2="50.3" stroke="#1515e2" stroke-width="3"/>
<path d="M844.90,42.70 L852.50,50.30 L844.90,57.90 L837.30,50.30 Z" fill="#fff" stroke="#12129e" stroke-width="2.2"/>
<line x1="816.6" y1="79.4" x2="875.4" y2="79.4" stroke="#1515e2" stroke-width="3"/>
<path d="M844.90,71.80 L852.50,79.40 L844.90,87.00 L837.30,79.40 Z" fill="rgba(0,0,255,0.5)" stroke="#12129e" stroke-width="2.2"/>
<line x1="838" y1="79.4" x2="852" y2="79.4" stroke="#1515e2" stroke-width="2.5"/>
<text x="880.50" y="59.90" font-size="24.5" fill="#1c1cc4" text-anchor="start" textLength="58.5" lengthAdjust="spacingAndGlyphs">initial</text>
<text x="877.10" y="88.50" font-size="25" fill="#1c1cc4" text-anchor="start">T</text>
<text x="891.70" y="93.40" font-size="16" fill="#1c1cc4" text-anchor="start" textLength="17.7" lengthAdjust="spacingAndGlyphs">50</text>
<text x="1311.10" y="236.00" font-size="24.5" fill="#1c1cc4" text-anchor="start" textLength="50" lengthAdjust="spacingAndGlyphs">4.0V</text>
<text x="1311.10" y="366.90" font-size="24.5" fill="#1c1cc4" text-anchor="start" textLength="50" lengthAdjust="spacingAndGlyphs">3.6V</text>
<text x="1311.10" y="498.70" font-size="24.5" fill="#1c1cc4" text-anchor="start" textLength="50" lengthAdjust="spacingAndGlyphs">3.2V</text>
<text x="1311.10" y="629.90" font-size="24.5" fill="#1c1cc4" text-anchor="start" textLength="50" lengthAdjust="spacingAndGlyphs">2.8V</text>
<text x="1311.10" y="760.40" font-size="24.5" fill="#1c1cc4" text-anchor="start" textLength="50" lengthAdjust="spacingAndGlyphs">2.4V</text>
<text x="1311.10" y="891.00" font-size="24.5" fill="#1c1cc4" text-anchor="start" textLength="50" lengthAdjust="spacingAndGlyphs">2.0V</text>
<path d="M872,790 C930,779 1000,776 1060,788 S1150,808 1177,816" fill="none" stroke="#7a7a7a" stroke-width="3"/>
<path d="M1191,822 L1173,823 L1179,808 Z" fill="#7a7a7a"/>
<text transform="translate(858,783.5) rotate(-6)" font-size="23" fill="#7a7a7a">low</text>
<text transform="translate(960,762.3) rotate(5)" font-size="24.5" fill="#7a7a7a" textLength="141" lengthAdjust="spacingAndGlyphs">frequency, ω</text>
<text transform="translate(1167.5,801) rotate(14.5)" font-size="24.5" fill="#7a7a7a" textLength="45" lengthAdjust="spacingAndGlyphs">high</text>
<text x="791.60" y="973.30" font-size="20" fill="#555" text-anchor="middle" textLength="12.2" lengthAdjust="spacingAndGlyphs">0</text>
<text x="890.07" y="973.30" font-size="20" fill="#555" text-anchor="middle" textLength="31" lengthAdjust="spacingAndGlyphs">0.1</text>
<text x="988.53" y="973.30" font-size="20" fill="#555" text-anchor="middle" textLength="31" lengthAdjust="spacingAndGlyphs">0.2</text>
<text x="1087.00" y="973.30" font-size="20" fill="#555" text-anchor="middle" textLength="31" lengthAdjust="spacingAndGlyphs">0.3</text>
<text x="1185.47" y="973.30" font-size="20" fill="#555" text-anchor="middle" textLength="31" lengthAdjust="spacingAndGlyphs">0.4</text>
<text x="1283.93" y="973.30" font-size="20" fill="#555" text-anchor="middle" textLength="31" lengthAdjust="spacingAndGlyphs">0.5</text>
<text x="1382.40" y="973.30" font-size="20" fill="#555" text-anchor="middle" textLength="31" lengthAdjust="spacingAndGlyphs">0.6</text>
<text x="982.20" y="1019.00" font-size="28" fill="#000" text-anchor="start" textLength="160.4" lengthAdjust="spacingAndGlyphs">Re[M] (1/μF)</text>
<text transform="translate(753.3,542.3) rotate(-90)" font-size="28" fill="#000" textLength="158.5" lengthAdjust="spacingAndGlyphs">Im[M] (1/μF)</text>
<text x="727.50" y="27.50" font-size="39" fill="#000" font-weight="bold" text-anchor="start">d</text>
</svg></body></html>
